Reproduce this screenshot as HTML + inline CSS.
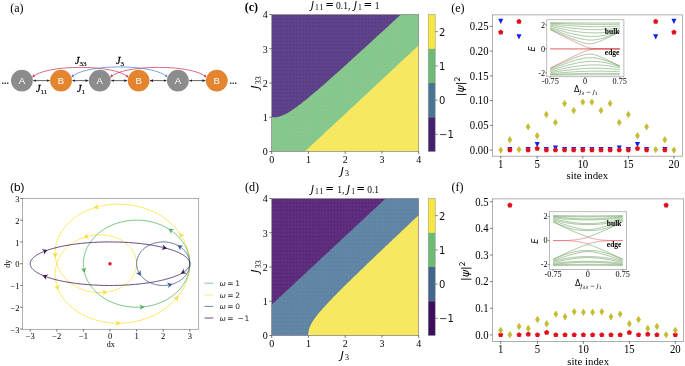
<!DOCTYPE html>
<html><head><meta charset="utf-8"><title>figure</title>
<style>html,body{margin:0;padding:0;background:#fff}svg{display:block}</style></head>
<body>
<svg width="685" height="366" viewBox="0 0 685 366">
<rect width="685" height="366" fill="#fff"/>
<text x="10.20" y="11.60" font-size="12" text-anchor="start" font-family='"Liberation Serif", "DejaVu Serif", serif' fill="#000" >(a)</text>
<text x="10.00" y="190.60" font-size="11.8" text-anchor="start" font-family='"Liberation Sans", "DejaVu Sans", sans-serif' fill="#000" >(b)</text>
<text x="244.80" y="11.40" font-size="12" text-anchor="start" font-family='"Liberation Serif", "DejaVu Serif", serif' fill="#000" font-weight="bold">(c)</text>
<text x="244.90" y="190.60" font-size="12.2" text-anchor="start" font-family='"Liberation Serif", "DejaVu Serif", serif' fill="#000" >(d)</text>
<text x="451.20" y="11.60" font-size="12" text-anchor="start" font-family='"Liberation Serif", "DejaVu Serif", serif' fill="#000" >(e)</text>
<text x="451.50" y="190.50" font-size="12" text-anchor="start" font-family='"Liberation Serif", "DejaVu Serif", serif' fill="#000" >(f)</text>
<defs><marker id="ak" viewBox="0 0 10 10" refX="9" refY="5" markerWidth="3.2" markerHeight="3.2" orient="auto-start-reverse" markerUnits="userSpaceOnUse"><path d="M0,1 L10,5 L0,9 z" fill="#222"/></marker><marker id="ar" viewBox="0 0 10 10" refX="9" refY="5" markerWidth="3.1" markerHeight="3.1" orient="auto-start-reverse" markerUnits="userSpaceOnUse"><path d="M0,1 L10,5 L0,9 z" fill="#c5304f"/></marker><marker id="ab" viewBox="0 0 10 10" refX="9" refY="5" markerWidth="3.1" markerHeight="3.1" orient="auto-start-reverse" markerUnits="userSpaceOnUse"><path d="M0,1 L10,5 L0,9 z" fill="#4a78d6"/></marker></defs>
<path d="M32.5,77.2 C44.9,64.1 115.6,64.1 128.0,77.2" fill="none" stroke="#c5304f" stroke-width="0.7" marker-start="url(#ar)" marker-end="url(#ar)"/>
<path d="M110.4,77.2 C122.9,64.1 193.7,64.1 206.2,77.2" fill="none" stroke="#c5304f" stroke-width="0.7" marker-start="url(#ar)" marker-end="url(#ar)"/>
<path d="M71.6,77.2 C84.0,63.5 154.9,63.5 167.3,77.2" fill="none" stroke="#4a78d6" stroke-width="0.7" marker-start="url(#ab)" marker-end="url(#ab)"/>
<path d="M33.4,80.6 L49.5,80.6" stroke="#222" stroke-width="0.7" marker-start="url(#ak)" marker-end="url(#ak)"/>
<path d="M72.5,80.6 L88.3,80.6" stroke="#222" stroke-width="0.7" marker-start="url(#ak)" marker-end="url(#ak)"/>
<path d="M111.3,80.6 L127.1,80.6" stroke="#222" stroke-width="0.7" marker-start="url(#ak)" marker-end="url(#ak)"/>
<path d="M150.1,80.6 L166.4,80.6" stroke="#222" stroke-width="0.7" marker-start="url(#ak)" marker-end="url(#ak)"/>
<path d="M189.4,80.6 L205.3,80.6" stroke="#222" stroke-width="0.7" marker-start="url(#ak)" marker-end="url(#ak)"/>
<circle cx="21.9" cy="80.6" r="10.9" fill="#8c8c8c"/>
<text x="21.90" y="84.00" font-size="9.6" text-anchor="middle" font-family='"Liberation Sans", "DejaVu Sans", sans-serif' fill="#fff" >A</text>
<circle cx="61.0" cy="80.6" r="10.9" fill="#e5842f"/>
<text x="61.00" y="84.00" font-size="9.6" text-anchor="middle" font-family='"Liberation Sans", "DejaVu Sans", sans-serif' fill="#fff" >B</text>
<circle cx="99.8" cy="80.6" r="10.9" fill="#8c8c8c"/>
<text x="99.80" y="84.00" font-size="9.6" text-anchor="middle" font-family='"Liberation Sans", "DejaVu Sans", sans-serif' fill="#fff" >A</text>
<circle cx="138.6" cy="80.6" r="10.9" fill="#e5842f"/>
<text x="138.60" y="84.00" font-size="9.6" text-anchor="middle" font-family='"Liberation Sans", "DejaVu Sans", sans-serif' fill="#fff" >B</text>
<circle cx="177.9" cy="80.6" r="10.9" fill="#8c8c8c"/>
<text x="177.90" y="84.00" font-size="9.6" text-anchor="middle" font-family='"Liberation Sans", "DejaVu Sans", sans-serif' fill="#fff" >A</text>
<circle cx="216.8" cy="80.6" r="10.9" fill="#e5842f"/>
<text x="216.80" y="84.00" font-size="9.6" text-anchor="middle" font-family='"Liberation Sans", "DejaVu Sans", sans-serif' fill="#fff" >B</text>
<text x="1.50" y="83.50" font-size="9" text-anchor="start" font-family='"Liberation Sans", "DejaVu Sans", sans-serif' fill="#222" font-weight="bold">...</text>
<text x="229.50" y="83.50" font-size="9" text-anchor="start" font-family='"Liberation Sans", "DejaVu Sans", sans-serif' fill="#222" font-weight="bold">...</text>
<text x="75" y="63.5" font-size="10.2" stroke="#000" stroke-width="0.28" font-family='"Liberation Serif", "DejaVu Serif", serif' fill="#000"><tspan font-style="italic">J</tspan><tspan font-size="7.1" dy="2.3" stroke-width="0.15">33</tspan></text>
<text x="116" y="63.5" font-size="10.2" stroke="#000" stroke-width="0.28" font-family='"Liberation Serif", "DejaVu Serif", serif' fill="#000"><tspan font-style="italic">J</tspan><tspan font-size="7.1" dy="2.3" stroke-width="0.15">3</tspan></text>
<text x="36" y="91.5" font-size="10.2" stroke="#000" stroke-width="0.28" font-family='"Liberation Serif", "DejaVu Serif", serif' fill="#000"><tspan font-style="italic">J</tspan><tspan font-size="7.1" dy="2.3" stroke-width="0.15">11</tspan></text>
<text x="77" y="91.5" font-size="10.2" stroke="#000" stroke-width="0.28" font-family='"Liberation Serif", "DejaVu Serif", serif' fill="#000"><tspan font-style="italic">J</tspan><tspan font-size="7.1" dy="2.3" stroke-width="0.15">1</tspan></text>
<rect x="22.6" y="198.4" width="176.10" height="130.90" fill="none" stroke="#8e8e8e" stroke-width="0.7"/>
<path d="M30.20,329.3 v2.4" stroke="#222" stroke-width="0.6"/>
<path d="M22.6,329.01 h-2.4" stroke="#222" stroke-width="0.6"/>
<text x="30.20" y="338.50" font-size="8.5" text-anchor="middle" font-family='"Liberation Serif", "DejaVu Serif", serif' fill="#000" >−3</text>
<text x="19.60" y="332.61" font-size="8.5" text-anchor="end" font-family='"Liberation Serif", "DejaVu Serif", serif' fill="#000" >−3</text>
<path d="M56.80,329.3 v2.4" stroke="#222" stroke-width="0.6"/>
<path d="M22.6,307.24 h-2.4" stroke="#222" stroke-width="0.6"/>
<text x="56.80" y="338.50" font-size="8.5" text-anchor="middle" font-family='"Liberation Serif", "DejaVu Serif", serif' fill="#000" >−2</text>
<text x="19.60" y="310.84" font-size="8.5" text-anchor="end" font-family='"Liberation Serif", "DejaVu Serif", serif' fill="#000" >−2</text>
<path d="M83.40,329.3 v2.4" stroke="#222" stroke-width="0.6"/>
<path d="M22.6,285.47 h-2.4" stroke="#222" stroke-width="0.6"/>
<text x="83.40" y="338.50" font-size="8.5" text-anchor="middle" font-family='"Liberation Serif", "DejaVu Serif", serif' fill="#000" >−1</text>
<text x="19.60" y="289.07" font-size="8.5" text-anchor="end" font-family='"Liberation Serif", "DejaVu Serif", serif' fill="#000" >−1</text>
<path d="M110.00,329.3 v2.4" stroke="#222" stroke-width="0.6"/>
<path d="M22.6,263.70 h-2.4" stroke="#222" stroke-width="0.6"/>
<text x="110.00" y="338.50" font-size="8.5" text-anchor="middle" font-family='"Liberation Serif", "DejaVu Serif", serif' fill="#000" >0</text>
<text x="19.60" y="267.30" font-size="8.5" text-anchor="end" font-family='"Liberation Serif", "DejaVu Serif", serif' fill="#000" >0</text>
<path d="M136.60,329.3 v2.4" stroke="#222" stroke-width="0.6"/>
<path d="M22.6,241.93 h-2.4" stroke="#222" stroke-width="0.6"/>
<text x="136.60" y="338.50" font-size="8.5" text-anchor="middle" font-family='"Liberation Serif", "DejaVu Serif", serif' fill="#000" >1</text>
<text x="19.60" y="245.53" font-size="8.5" text-anchor="end" font-family='"Liberation Serif", "DejaVu Serif", serif' fill="#000" >1</text>
<path d="M163.20,329.3 v2.4" stroke="#222" stroke-width="0.6"/>
<path d="M22.6,220.16 h-2.4" stroke="#222" stroke-width="0.6"/>
<text x="163.20" y="338.50" font-size="8.5" text-anchor="middle" font-family='"Liberation Serif", "DejaVu Serif", serif' fill="#000" >2</text>
<text x="19.60" y="223.76" font-size="8.5" text-anchor="end" font-family='"Liberation Serif", "DejaVu Serif", serif' fill="#000" >2</text>
<path d="M189.80,329.3 v2.4" stroke="#222" stroke-width="0.6"/>
<path d="M22.6,198.39 h-2.4" stroke="#222" stroke-width="0.6"/>
<text x="189.80" y="338.50" font-size="8.5" text-anchor="middle" font-family='"Liberation Serif", "DejaVu Serif", serif' fill="#000" >3</text>
<text x="19.60" y="201.99" font-size="8.5" text-anchor="end" font-family='"Liberation Serif", "DejaVu Serif", serif' fill="#000" >3</text>
<text x="110.65" y="347.00" font-size="8" text-anchor="middle" font-family='"Liberation Serif", "DejaVu Serif", serif' fill="#000" >dx</text>
<text transform="translate(9.5,263.7) rotate(-90)" font-size="8" text-anchor="middle" font-family='"Liberation Serif", "DejaVu Serif", serif'>dy</text>
<polyline points="189.80,263.70 189.77,261.99 189.68,260.27 189.53,258.56 189.33,256.86 189.06,255.16 188.73,253.47 188.35,251.78 187.91,250.11 187.41,248.45 186.85,246.80 186.24,245.16 185.57,243.54 184.85,241.94 184.07,240.36 183.23,238.79 182.35,237.25 181.41,235.73 180.42,234.23 179.37,232.76 178.28,231.31 177.14,229.89 175.95,228.50 174.72,227.13 173.44,225.80 172.11,224.50 170.74,223.23 169.33,222.00 167.88,220.80 166.38,219.64 164.85,218.51 163.29,217.42 161.69,216.37 160.05,215.36 158.38,214.38 156.68,213.45 154.95,212.56 153.20,211.71 151.41,210.91 149.61,210.14 147.78,209.43 145.92,208.75 144.05,208.12 142.16,207.54 140.25,207.00 138.33,206.50 136.40,206.06 134.45,205.66 132.50,205.30 130.53,205.00 128.56,204.74 126.59,204.52 124.61,204.36 122.63,204.24 120.66,204.17 118.68,204.14 116.71,204.16 114.75,204.23 112.79,204.35 110.84,204.51 108.91,204.71 106.98,204.96 105.07,205.26 103.18,205.60 101.30,205.99 99.45,206.42 97.61,206.89 95.80,207.40 94.01,207.96 92.24,208.56 90.50,209.19 88.79,209.87 87.11,210.59 85.47,211.34 83.85,212.13 82.27,212.96 80.72,213.82 79.21,214.72 77.73,215.65 76.30,216.61 74.90,217.60 73.55,218.63 72.24,219.68 70.97,220.76 69.74,221.87 68.56,223.01 67.43,224.17 66.34,225.35 65.30,226.55 64.30,227.78 63.36,229.03 62.46,230.29 61.62,231.57 60.82,232.87 60.08,234.18 59.38,235.50 58.74,236.84 58.15,238.18 57.61,239.54 57.13,240.90 56.70,242.27 56.32,243.65 55.99,245.03 55.72,246.41 55.50,247.79 55.33,249.17 55.21,250.55 55.15,251.93 55.14,253.30 55.18,254.67 55.27,256.03 55.42,257.38 55.61,258.72 55.86,260.05 56.15,261.37 56.49,262.67 56.88,263.96 57.32,265.24 57.81,266.49 58.34,267.73 58.92,268.95 59.54,270.15 60.21,271.33 60.91,272.48 61.66,273.61 62.45,274.72 63.28,275.80 64.15,276.85 65.06,277.88 66.00,278.87 66.97,279.84 67.98,280.77 69.03,281.68 70.10,282.55 71.20,283.39 72.33,284.20 73.49,284.97 74.68,285.71 75.88,286.42 77.11,287.08 78.37,287.71 79.64,288.31 80.93,288.86 82.23,289.38 83.55,289.86 84.89,290.31 86.23,290.71 87.59,291.07 88.96,291.40 90.33,291.69 91.71,291.93 93.09,292.14 94.48,292.31 95.86,292.44 97.25,292.53 98.63,292.58 100.01,292.59 101.38,292.56 102.75,292.50 104.11,292.39 105.46,292.25 106.79,292.07 108.12,291.85 109.43,291.60 110.72,291.31 112.00,290.98 113.25,290.62 114.49,290.22 115.70,289.79 116.90,289.32 118.06,288.83 119.20,288.30 120.32,287.73 121.40,287.14 122.46,286.52 123.49,285.87 124.48,285.19 125.44,284.48 126.37,283.75 127.27,282.99 128.12,282.21 128.94,281.40 129.73,280.58 130.47,279.73 131.17,278.86 131.84,277.97 132.46,277.07 133.04,276.14 133.58,275.21 134.08,274.25 134.53,273.29 134.94,272.31 135.31,271.32 135.63,270.33 135.90,269.32 136.13,268.31 136.32,267.29 136.46,266.27 136.55,265.24 136.59,264.21 136.59,263.19 136.55,262.16 136.46,261.13 136.32,260.11 136.13,259.09 135.90,258.08 135.63,257.07 135.31,256.08 134.94,255.09 134.53,254.11 134.08,253.15 133.58,252.19 133.04,251.26 132.46,250.33 131.84,249.43 131.17,248.54 130.47,247.67 129.73,246.82 128.94,246.00 128.12,245.19 127.27,244.41 126.37,243.65 125.44,242.92 124.48,242.21 123.49,241.53 122.46,240.88 121.40,240.26 120.32,239.67 119.20,239.10 118.06,238.57 116.90,238.08 115.70,237.61 114.49,237.18 113.25,236.78 112.00,236.42 110.72,236.09 109.43,235.80 108.12,235.55 106.79,235.33 105.46,235.15 104.11,235.01 102.75,234.90 101.38,234.84 100.01,234.81 98.63,234.82 97.25,234.87 95.86,234.96 94.48,235.09 93.09,235.26 91.71,235.47 90.33,235.71 88.96,236.00 87.59,236.33 86.23,236.69 84.89,237.09 83.55,237.54 82.23,238.02 80.93,238.54 79.64,239.09 78.37,239.69 77.11,240.32 75.88,240.98 74.68,241.69 73.49,242.43 72.33,243.20 71.20,244.01 70.10,244.85 69.03,245.72 67.98,246.63 66.97,247.56 66.00,248.53 65.06,249.52 64.15,250.55 63.28,251.60 62.45,252.68 61.66,253.79 60.91,254.92 60.21,256.07 59.54,257.25 58.92,258.45 58.34,259.67 57.81,260.91 57.32,262.16 56.88,263.44 56.49,264.73 56.15,266.03 55.86,267.35 55.61,268.68 55.42,270.02 55.27,271.37 55.18,272.73 55.14,274.10 55.15,275.47 55.21,276.85 55.33,278.23 55.50,279.61 55.72,280.99 55.99,282.37 56.32,283.75 56.70,285.13 57.13,286.50 57.61,287.86 58.15,289.22 58.74,290.56 59.38,291.90 60.08,293.22 60.82,294.53 61.62,295.83 62.46,297.11 63.36,298.37 64.30,299.62 65.30,300.85 66.34,302.05 67.43,303.23 68.56,304.39 69.74,305.53 70.97,306.64 72.24,307.72 73.55,308.77 74.90,309.80 76.30,310.79 77.73,311.75 79.21,312.68 80.72,313.58 82.27,314.44 83.85,315.27 85.47,316.06 87.11,316.81 88.79,317.53 90.50,318.21 92.24,318.84 94.01,319.44 95.80,320.00 97.61,320.51 99.45,320.98 101.30,321.41 103.18,321.80 105.07,322.14 106.98,322.44 108.91,322.69 110.84,322.89 112.79,323.05 114.75,323.17 116.71,323.24 118.68,323.26 120.66,323.23 122.63,323.16 124.61,323.04 126.59,322.88 128.56,322.66 130.53,322.40 132.50,322.10 134.45,321.74 136.40,321.34 138.33,320.90 140.25,320.40 142.16,319.86 144.05,319.28 145.92,318.65 147.78,317.97 149.61,317.26 151.41,316.49 153.20,315.69 154.95,314.84 156.68,313.95 158.38,313.02 160.05,312.04 161.69,311.03 163.29,309.98 164.85,308.89 166.38,307.76 167.88,306.60 169.33,305.40 170.74,304.17 172.11,302.90 173.44,301.60 174.72,300.27 175.95,298.90 177.14,297.51 178.28,296.09 179.37,294.64 180.42,293.17 181.41,291.67 182.35,290.15 183.23,288.61 184.07,287.04 184.85,285.46 185.57,283.86 186.24,282.24 186.85,280.60 187.41,278.95 187.91,277.29 188.35,275.62 188.73,273.93 189.06,272.24 189.33,270.54 189.53,268.84 189.68,267.13 189.77,265.41 189.80,263.70" fill="none" stroke="#fbe44f" stroke-width="0.9"/>
<polyline points="189.80,263.70 189.79,263.01 189.77,262.33 189.74,261.64 189.69,260.96 189.64,260.28 189.56,259.59 189.48,258.91 189.38,258.23 189.27,257.55 189.14,256.87 189.00,256.20 188.85,255.52 188.69,254.85 188.51,254.18 188.32,253.51 188.12,252.85 187.91,252.18 187.68,251.52 187.44,250.87 187.18,250.21 186.92,249.56 186.64,248.92 186.35,248.27 186.05,247.63 185.73,247.00 185.40,246.37 185.06,245.74 184.71,245.12 184.35,244.50 183.97,243.89 183.59,243.28 183.19,242.68 182.78,242.08 182.36,241.49 181.92,240.90 181.48,240.32 181.02,239.74 180.56,239.17 180.08,238.61 179.59,238.05 179.09,237.50 178.58,236.96 178.06,236.42 177.53,235.89 176.99,235.36 176.44,234.85 175.88,234.34 175.31,233.83 174.73,233.34 174.14,232.85 173.55,232.37 172.94,231.90 172.32,231.44 171.70,230.98 171.06,230.53 170.42,230.09 169.77,229.66 169.11,229.24 168.44,228.82 167.77,228.42 167.09,228.02 166.40,227.63 165.70,227.25 164.99,226.88 164.28,226.52 163.56,226.17 162.84,225.82 162.10,225.49 161.37,225.17 160.62,224.85 159.87,224.55 159.11,224.25 158.35,223.97 157.59,223.69 156.81,223.43 156.04,223.17 155.25,222.92 154.47,222.69 153.68,222.46 152.88,222.25 152.08,222.04 151.28,221.85 150.47,221.67 149.66,221.49 148.85,221.33 148.03,221.18 147.21,221.03 146.39,220.90 145.56,220.78 144.74,220.67 143.91,220.57 143.08,220.48 142.24,220.41 141.41,220.34 140.58,220.28 139.74,220.24 138.90,220.20 138.07,220.18 137.23,220.16 136.39,220.16 135.55,220.17 134.72,220.19 133.88,220.22 133.04,220.26 132.21,220.31 131.37,220.37 130.54,220.44 129.71,220.53 128.88,220.62 128.05,220.73 127.22,220.84 126.40,220.97 125.58,221.10 124.76,221.25 123.95,221.41 123.13,221.58 122.33,221.76 121.52,221.95 120.72,222.15 119.92,222.36 119.13,222.58 118.34,222.81 117.55,223.05 116.77,223.30 116.00,223.56 115.23,223.83 114.47,224.11 113.71,224.40 112.95,224.70 112.21,225.01 111.46,225.33 110.73,225.66 110.00,225.99 109.28,226.34 108.56,226.70 107.85,227.06 107.15,227.44 106.46,227.82 105.77,228.22 105.09,228.62 104.42,229.03 103.76,229.45 103.10,229.87 102.46,230.31 101.82,230.75 101.19,231.21 100.57,231.67 99.96,232.13 99.35,232.61 98.76,233.09 98.18,233.59 97.60,234.09 97.04,234.59 96.48,235.11 95.94,235.63 95.40,236.15 94.88,236.69 94.36,237.23 93.86,237.78 93.36,238.33 92.88,238.89 92.41,239.46 91.95,240.03 91.50,240.61 91.06,241.19 90.63,241.78 90.22,242.38 89.81,242.98 89.42,243.58 89.04,244.19 88.67,244.81 88.31,245.43 87.97,246.05 87.63,246.68 87.31,247.32 87.00,247.95 86.70,248.59 86.42,249.24 86.15,249.89 85.89,250.54 85.64,251.19 85.41,251.85 85.19,252.51 84.98,253.18 84.78,253.84 84.60,254.51 84.43,255.18 84.27,255.86 84.13,256.53 83.99,257.21 83.88,257.89 83.77,258.57 83.68,259.25 83.60,259.93 83.53,260.62 83.48,261.30 83.44,261.99 83.41,262.67 83.40,263.36 83.40,264.04 83.41,264.73 83.44,265.41 83.48,266.10 83.53,266.78 83.60,267.47 83.68,268.15 83.77,268.83 83.88,269.51 83.99,270.19 84.13,270.87 84.27,271.54 84.43,272.22 84.60,272.89 84.78,273.56 84.98,274.22 85.19,274.89 85.41,275.55 85.64,276.21 85.89,276.86 86.15,277.51 86.42,278.16 86.70,278.81 87.00,279.45 87.31,280.08 87.63,280.72 87.97,281.35 88.31,281.97 88.67,282.59 89.04,283.21 89.42,283.82 89.81,284.42 90.22,285.02 90.63,285.62 91.06,286.21 91.50,286.79 91.95,287.37 92.41,287.94 92.88,288.51 93.36,289.07 93.86,289.62 94.36,290.17 94.88,290.71 95.40,291.25 95.94,291.77 96.48,292.29 97.04,292.81 97.60,293.31 98.18,293.81 98.76,294.31 99.35,294.79 99.96,295.27 100.57,295.73 101.19,296.19 101.82,296.65 102.46,297.09 103.10,297.53 103.76,297.95 104.42,298.37 105.09,298.78 105.77,299.18 106.46,299.58 107.15,299.96 107.85,300.34 108.56,300.70 109.28,301.06 110.00,301.41 110.73,301.74 111.46,302.07 112.21,302.39 112.95,302.70 113.71,303.00 114.47,303.29 115.23,303.57 116.00,303.84 116.77,304.10 117.55,304.35 118.34,304.59 119.13,304.82 119.92,305.04 120.72,305.25 121.52,305.45 122.33,305.64 123.13,305.82 123.95,305.99 124.76,306.15 125.58,306.30 126.40,306.43 127.22,306.56 128.05,306.67 128.88,306.78 129.71,306.87 130.54,306.96 131.37,307.03 132.21,307.09 133.04,307.14 133.88,307.18 134.72,307.21 135.55,307.23 136.39,307.24 137.23,307.24 138.07,307.22 138.90,307.20 139.74,307.16 140.58,307.12 141.41,307.06 142.24,306.99 143.08,306.92 143.91,306.83 144.74,306.73 145.56,306.62 146.39,306.50 147.21,306.37 148.03,306.22 148.85,306.07 149.66,305.91 150.47,305.73 151.28,305.55 152.08,305.36 152.88,305.15 153.68,304.94 154.47,304.71 155.25,304.48 156.04,304.23 156.81,303.97 157.59,303.71 158.35,303.43 159.11,303.15 159.87,302.85 160.62,302.55 161.37,302.23 162.10,301.91 162.84,301.58 163.56,301.23 164.28,300.88 164.99,300.52 165.70,300.15 166.40,299.77 167.09,299.38 167.77,298.98 168.44,298.58 169.11,298.16 169.77,297.74 170.42,297.31 171.06,296.87 171.70,296.42 172.32,295.96 172.94,295.50 173.55,295.03 174.14,294.55 174.73,294.06 175.31,293.57 175.88,293.06 176.44,292.55 176.99,292.04 177.53,291.51 178.06,290.98 178.58,290.44 179.09,289.90 179.59,289.35 180.08,288.79 180.56,288.23 181.02,287.66 181.48,287.08 181.92,286.50 182.36,285.91 182.78,285.32 183.19,284.72 183.59,284.12 183.97,283.51 184.35,282.90 184.71,282.28 185.06,281.66 185.40,281.03 185.73,280.40 186.05,279.77 186.35,279.13 186.64,278.48 186.92,277.84 187.18,277.19 187.44,276.53 187.68,275.88 187.91,275.22 188.12,274.55 188.32,273.89 188.51,273.22 188.69,272.55 188.85,271.88 189.00,271.20 189.14,270.53 189.27,269.85 189.38,269.17 189.48,268.49 189.56,267.81 189.64,267.12 189.69,266.44 189.74,265.76 189.77,265.07 189.79,264.39 189.80,263.70" fill="none" stroke="#5cb86a" stroke-width="0.9"/>
<polyline points="189.80,263.70 189.80,263.36 189.79,263.01 189.77,262.67 189.75,262.33 189.72,261.99 189.68,261.65 189.64,261.31 189.59,260.96 189.53,260.62 189.47,260.29 189.40,259.95 189.33,259.61 189.24,259.27 189.16,258.94 189.06,258.61 188.96,258.27 188.85,257.94 188.74,257.61 188.62,257.28 188.49,256.96 188.36,256.63 188.22,256.31 188.07,255.99 187.92,255.67 187.77,255.35 187.60,255.03 187.43,254.72 187.26,254.41 187.07,254.10 186.89,253.79 186.69,253.49 186.49,253.19 186.29,252.89 186.08,252.59 185.86,252.30 185.64,252.01 185.41,251.72 185.18,251.44 184.94,251.15 184.70,250.88 184.45,250.60 184.19,250.33 183.93,250.06 183.67,249.79 183.40,249.53 183.12,249.27 182.84,249.02 182.56,248.77 182.27,248.52 181.97,248.28 181.67,248.04 181.37,247.80 181.06,247.57 180.75,247.34 180.43,247.12 180.11,246.90 179.78,246.68 179.46,246.47 179.12,246.26 178.78,246.06 178.44,245.86 178.10,245.66 177.75,245.47 177.40,245.29 177.04,245.11 176.68,244.93 176.32,244.76 175.95,244.59 175.58,244.43 175.21,244.28 174.84,244.12 174.46,243.98 174.08,243.83 173.69,243.70 173.31,243.56 172.92,243.43 172.53,243.31 172.13,243.19 171.74,243.08 171.34,242.97 170.94,242.87 170.54,242.77 170.14,242.68 169.73,242.60 169.32,242.51 168.91,242.44 168.50,242.37 168.09,242.30 167.68,242.24 167.27,242.19 166.85,242.14 166.44,242.09 166.02,242.05 165.61,242.02 165.19,241.99 164.77,241.97 164.35,241.95 163.93,241.94 163.51,241.93 163.10,241.93 162.68,241.93 162.26,241.94 161.84,241.96 161.42,241.98 161.00,242.00 160.59,242.04 160.17,242.07 159.75,242.11 159.34,242.16 158.93,242.21 158.51,242.27 158.10,242.33 157.69,242.40 157.28,242.48 156.87,242.55 156.47,242.64 156.06,242.73 155.66,242.82 155.26,242.92 154.86,243.03 154.46,243.14 154.07,243.25 153.68,243.37 153.29,243.50 152.90,243.63 152.51,243.76 152.13,243.90 151.75,244.05 151.38,244.20 151.00,244.35 150.63,244.51 150.26,244.68 149.90,244.85 149.54,245.02 149.18,245.20 148.83,245.38 148.48,245.57 148.13,245.76 147.79,245.96 147.45,246.16 147.11,246.36 146.78,246.57 146.45,246.79 146.13,247.00 145.81,247.23 145.49,247.45 145.18,247.68 144.88,247.92 144.58,248.16 144.28,248.40 143.99,248.64 143.70,248.89 143.42,249.15 143.14,249.40 142.87,249.66 142.60,249.93 142.34,250.19 142.08,250.46 141.83,250.74 141.58,251.02 141.34,251.30 141.10,251.58 140.87,251.86 140.65,252.15 140.43,252.45 140.22,252.74 140.01,253.04 139.81,253.34 139.61,253.64 139.42,253.95 139.23,254.25 139.06,254.56 138.88,254.88 138.72,255.19 138.56,255.51 138.40,255.83 138.25,256.15 138.11,256.47 137.97,256.79 137.84,257.12 137.72,257.45 137.60,257.78 137.49,258.11 137.39,258.44 137.29,258.77 137.20,259.11 137.11,259.44 137.03,259.78 136.96,260.12 136.90,260.46 136.84,260.79 136.79,261.13 136.74,261.48 136.70,261.82 136.67,262.16 136.64,262.50 136.62,262.84 136.61,263.19 136.60,263.53 136.60,263.87 136.61,264.21 136.62,264.56 136.64,264.90 136.67,265.24 136.70,265.58 136.74,265.92 136.79,266.27 136.84,266.61 136.90,266.94 136.96,267.28 137.03,267.62 137.11,267.96 137.20,268.29 137.29,268.63 137.39,268.96 137.49,269.29 137.60,269.62 137.72,269.95 137.84,270.28 137.97,270.61 138.11,270.93 138.25,271.25 138.40,271.57 138.56,271.89 138.72,272.21 138.88,272.52 139.06,272.84 139.23,273.15 139.42,273.45 139.61,273.76 139.81,274.06 140.01,274.36 140.22,274.66 140.43,274.95 140.65,275.25 140.87,275.54 141.10,275.82 141.34,276.10 141.58,276.38 141.83,276.66 142.08,276.94 142.34,277.21 142.60,277.47 142.87,277.74 143.14,278.00 143.42,278.25 143.70,278.51 143.99,278.76 144.28,279.00 144.58,279.24 144.88,279.48 145.18,279.72 145.49,279.95 145.81,280.17 146.13,280.40 146.45,280.61 146.78,280.83 147.11,281.04 147.45,281.24 147.79,281.44 148.13,281.64 148.48,281.83 148.83,282.02 149.18,282.20 149.54,282.38 149.90,282.55 150.26,282.72 150.63,282.89 151.00,283.05 151.38,283.20 151.75,283.35 152.13,283.50 152.51,283.64 152.90,283.77 153.29,283.90 153.68,284.03 154.07,284.15 154.46,284.26 154.86,284.37 155.26,284.48 155.66,284.58 156.06,284.67 156.47,284.76 156.87,284.85 157.28,284.92 157.69,285.00 158.10,285.07 158.51,285.13 158.93,285.19 159.34,285.24 159.75,285.29 160.17,285.33 160.59,285.36 161.00,285.40 161.42,285.42 161.84,285.44 162.26,285.46 162.68,285.47 163.10,285.47 163.51,285.47 163.93,285.46 164.35,285.45 164.77,285.43 165.19,285.41 165.61,285.38 166.02,285.35 166.44,285.31 166.85,285.26 167.27,285.21 167.68,285.16 168.09,285.10 168.50,285.03 168.91,284.96 169.32,284.89 169.73,284.80 170.14,284.72 170.54,284.63 170.94,284.53 171.34,284.43 171.74,284.32 172.13,284.21 172.53,284.09 172.92,283.97 173.31,283.84 173.69,283.70 174.08,283.57 174.46,283.42 174.84,283.28 175.21,283.12 175.58,282.97 175.95,282.81 176.32,282.64 176.68,282.47 177.04,282.29 177.40,282.11 177.75,281.93 178.10,281.74 178.44,281.54 178.78,281.34 179.12,281.14 179.46,280.93 179.78,280.72 180.11,280.50 180.43,280.28 180.75,280.06 181.06,279.83 181.37,279.60 181.67,279.36 181.97,279.12 182.27,278.88 182.56,278.63 182.84,278.38 183.12,278.13 183.40,277.87 183.67,277.61 183.93,277.34 184.19,277.07 184.45,276.80 184.70,276.52 184.94,276.25 185.18,275.96 185.41,275.68 185.64,275.39 185.86,275.10 186.08,274.81 186.29,274.51 186.49,274.21 186.69,273.91 186.89,273.61 187.07,273.30 187.26,272.99 187.43,272.68 187.60,272.37 187.77,272.05 187.92,271.73 188.07,271.41 188.22,271.09 188.36,270.77 188.49,270.44 188.62,270.12 188.74,269.79 188.85,269.46 188.96,269.13 189.06,268.79 189.16,268.46 189.24,268.13 189.33,267.79 189.40,267.45 189.47,267.11 189.53,266.78 189.59,266.44 189.64,266.09 189.68,265.75 189.72,265.41 189.75,265.07 189.77,264.73 189.79,264.39 189.80,264.04 189.80,263.70" fill="none" stroke="#3d5a8e" stroke-width="0.9"/>
<polyline points="189.80,263.70 189.79,264.04 189.76,264.39 189.71,264.73 189.64,265.07 189.55,265.41 189.44,265.75 189.32,266.09 189.17,266.44 189.00,266.78 188.81,267.11 188.61,267.45 188.38,267.79 188.13,268.13 187.87,268.46 187.58,268.79 187.28,269.13 186.96,269.46 186.62,269.79 186.25,270.12 185.87,270.44 185.48,270.77 185.06,271.09 184.62,271.41 184.17,271.73 183.70,272.05 183.20,272.37 182.70,272.68 182.17,272.99 181.62,273.30 181.06,273.61 180.48,273.91 179.88,274.21 179.27,274.51 178.63,274.81 177.98,275.10 177.32,275.39 176.63,275.68 175.93,275.96 175.22,276.25 174.49,276.52 173.74,276.80 172.97,277.07 172.19,277.34 171.40,277.61 170.59,277.87 169.76,278.13 168.92,278.38 168.07,278.63 167.20,278.88 166.32,279.12 165.42,279.36 164.51,279.60 163.58,279.83 162.65,280.06 161.69,280.28 160.73,280.50 159.75,280.72 158.77,280.93 157.77,281.14 156.75,281.34 155.73,281.54 154.69,281.74 153.65,281.93 152.59,282.11 151.52,282.29 150.44,282.47 149.35,282.64 148.26,282.81 147.15,282.97 146.03,283.12 144.91,283.28 143.77,283.42 142.63,283.57 141.48,283.70 140.32,283.84 139.15,283.97 137.98,284.09 136.80,284.21 135.61,284.32 134.42,284.43 133.22,284.53 132.02,284.63 130.81,284.72 129.59,284.80 128.37,284.89 127.14,284.96 125.91,285.03 124.68,285.10 123.44,285.16 122.20,285.21 120.96,285.26 119.71,285.31 118.47,285.35 117.22,285.38 115.96,285.41 114.71,285.43 113.45,285.45 112.20,285.46 110.94,285.47 109.69,285.47 108.43,285.47 107.17,285.46 105.92,285.44 104.66,285.42 103.41,285.40 102.16,285.36 100.91,285.33 99.66,285.29 98.42,285.24 97.18,285.19 95.94,285.13 94.70,285.07 93.47,285.00 92.24,284.92 91.02,284.85 89.80,284.76 88.59,284.67 87.38,284.58 86.18,284.48 84.98,284.37 83.79,284.26 82.61,284.15 81.43,284.03 80.26,283.90 79.10,283.77 77.94,283.64 76.80,283.50 75.66,283.35 74.53,283.20 73.41,283.05 72.30,282.89 71.19,282.72 70.10,282.55 69.02,282.38 67.94,282.20 66.88,282.02 65.83,281.83 64.79,281.64 63.76,281.44 62.74,281.24 61.73,281.04 60.74,280.83 59.76,280.61 58.79,280.40 57.83,280.17 56.88,279.95 55.95,279.72 55.04,279.48 54.13,279.24 53.24,279.00 52.36,278.76 51.50,278.51 50.66,278.25 49.82,278.00 49.00,277.74 48.20,277.47 47.41,277.21 46.64,276.94 45.89,276.66 45.15,276.38 44.42,276.10 43.71,275.82 43.02,275.54 42.35,275.25 41.69,274.95 41.05,274.66 40.42,274.36 39.82,274.06 39.23,273.76 38.66,273.45 38.10,273.15 37.57,272.84 37.05,272.52 36.55,272.21 36.07,271.89 35.60,271.57 35.16,271.25 34.73,270.93 34.32,270.61 33.93,270.28 33.56,269.95 33.21,269.62 32.88,269.29 32.57,268.96 32.27,268.63 32.00,268.29 31.74,267.96 31.50,267.62 31.29,267.28 31.09,266.94 30.91,266.61 30.76,266.27 30.62,265.92 30.50,265.58 30.40,265.24 30.32,264.90 30.26,264.56 30.22,264.21 30.20,263.87 30.20,263.53 30.22,263.19 30.26,262.84 30.32,262.50 30.40,262.16 30.50,261.82 30.62,261.48 30.76,261.13 30.91,260.79 31.09,260.46 31.29,260.12 31.50,259.78 31.74,259.44 32.00,259.11 32.27,258.77 32.57,258.44 32.88,258.11 33.21,257.78 33.56,257.45 33.93,257.12 34.32,256.79 34.73,256.47 35.16,256.15 35.60,255.83 36.07,255.51 36.55,255.19 37.05,254.88 37.57,254.56 38.10,254.25 38.66,253.95 39.23,253.64 39.82,253.34 40.42,253.04 41.05,252.74 41.69,252.45 42.35,252.15 43.02,251.86 43.71,251.58 44.42,251.30 45.15,251.02 45.89,250.74 46.64,250.46 47.41,250.19 48.20,249.93 49.00,249.66 49.82,249.40 50.66,249.15 51.50,248.89 52.36,248.64 53.24,248.40 54.13,248.16 55.04,247.92 55.95,247.68 56.88,247.45 57.83,247.23 58.79,247.00 59.76,246.79 60.74,246.57 61.73,246.36 62.74,246.16 63.76,245.96 64.79,245.76 65.83,245.57 66.88,245.38 67.94,245.20 69.02,245.02 70.10,244.85 71.19,244.68 72.30,244.51 73.41,244.35 74.53,244.20 75.66,244.05 76.80,243.90 77.94,243.76 79.10,243.63 80.26,243.50 81.43,243.37 82.61,243.25 83.79,243.14 84.98,243.03 86.18,242.92 87.38,242.82 88.59,242.73 89.80,242.64 91.02,242.55 92.24,242.48 93.47,242.40 94.70,242.33 95.94,242.27 97.18,242.21 98.42,242.16 99.66,242.11 100.91,242.07 102.16,242.04 103.41,242.00 104.66,241.98 105.92,241.96 107.17,241.94 108.43,241.93 109.69,241.93 110.94,241.93 112.20,241.94 113.45,241.95 114.71,241.97 115.96,241.99 117.22,242.02 118.47,242.05 119.71,242.09 120.96,242.14 122.20,242.19 123.44,242.24 124.68,242.30 125.91,242.37 127.14,242.44 128.37,242.51 129.59,242.60 130.81,242.68 132.02,242.77 133.22,242.87 134.42,242.97 135.61,243.08 136.80,243.19 137.98,243.31 139.15,243.43 140.32,243.56 141.48,243.70 142.63,243.83 143.77,243.98 144.91,244.12 146.03,244.28 147.15,244.43 148.26,244.59 149.35,244.76 150.44,244.93 151.52,245.11 152.59,245.29 153.65,245.47 154.69,245.66 155.73,245.86 156.75,246.06 157.77,246.26 158.77,246.47 159.75,246.68 160.73,246.90 161.69,247.12 162.65,247.34 163.58,247.57 164.51,247.80 165.42,248.04 166.32,248.28 167.20,248.52 168.07,248.77 168.92,249.02 169.76,249.27 170.59,249.53 171.40,249.79 172.19,250.06 172.97,250.33 173.74,250.60 174.49,250.88 175.22,251.15 175.93,251.44 176.63,251.72 177.32,252.01 177.98,252.30 178.63,252.59 179.27,252.89 179.88,253.19 180.48,253.49 181.06,253.79 181.62,254.10 182.17,254.41 182.70,254.72 183.20,255.03 183.70,255.35 184.17,255.67 184.62,255.99 185.06,256.31 185.48,256.63 185.87,256.96 186.25,257.28 186.62,257.61 186.96,257.94 187.28,258.27 187.58,258.61 187.87,258.94 188.13,259.27 188.38,259.61 188.61,259.95 188.81,260.29 189.00,260.62 189.17,260.96 189.32,261.31 189.44,261.65 189.55,261.99 189.64,262.33 189.71,262.67 189.76,263.01 189.79,263.36 189.80,263.70" fill="none" stroke="#3b1457" stroke-width="0.8"/>
<path transform="translate(96.25,207.27) rotate(163.8)" d="M2.70,0 L-2.40,2.85 L-0.90,0 L-2.40,-2.85 z" fill="#f7dc3a"/>
<path transform="translate(181.06,235.18) rotate(-123.3)" d="M2.70,0 L-2.40,2.85 L-0.90,0 L-2.40,-2.85 z" fill="#f7dc3a"/>
<path transform="translate(86.19,236.70) rotate(164.1)" d="M2.70,0 L-2.40,2.85 L-0.90,0 L-2.40,-2.85 z" fill="#f7dc3a"/>
<path transform="translate(55.20,255.01) rotate(86.6)" d="M2.70,0 L-2.40,2.85 L-0.90,0 L-2.40,-2.85 z" fill="#f7dc3a"/>
<path transform="translate(57.47,287.48) rotate(70.0)" d="M2.70,0 L-2.40,2.85 L-0.90,0 L-2.40,-2.85 z" fill="#f7dc3a"/>
<path transform="translate(104.70,292.34) rotate(-5.9)" d="M2.70,0 L-2.40,2.85 L-0.90,0 L-2.40,-2.85 z" fill="#f7dc3a"/>
<path transform="translate(117.94,323.26) rotate(0.5)" d="M2.70,0 L-2.40,2.85 L-0.90,0 L-2.40,-2.85 z" fill="#f7dc3a"/>
<path transform="translate(176.73,298.00) rotate(-49.8)" d="M2.70,0 L-2.40,2.85 L-0.90,0 L-2.40,-2.85 z" fill="#f7dc3a"/>
<path transform="translate(170.76,230.32) rotate(-145.6)" d="M2.70,0 L-2.40,2.85 L-0.90,0 L-2.40,-2.85 z" fill="#4fae5f"/>
<path transform="translate(83.99,270.14) rotate(79.6)" d="M2.70,0 L-2.40,2.85 L-0.90,0 L-2.40,-2.85 z" fill="#4fae5f"/>
<path transform="translate(141.92,307.02) rotate(-4.7)" d="M2.70,0 L-2.40,2.85 L-0.90,0 L-2.40,-2.85 z" fill="#4fae5f"/>
<path transform="translate(179.83,246.71) rotate(-146.8)" d="M2.70,0 L-2.40,2.85 L-0.90,0 L-2.40,-2.85 z" fill="#36558c"/>
<path transform="translate(139.42,273.45) rotate(58.5)" d="M2.70,0 L-2.40,2.85 L-0.90,0 L-2.40,-2.85 z" fill="#36558c"/>
<path transform="translate(169.85,284.78) rotate(-11.9)" d="M2.70,0 L-2.40,2.85 L-0.90,0 L-2.40,-2.85 z" fill="#36558c"/>
<path transform="translate(45.04,251.05) rotate(-20.9)" d="M2.70,0 L-2.40,2.85 L-0.90,0 L-2.40,-2.85 z" fill="#3b1457"/>
<path transform="translate(164.52,247.80) rotate(14.3)" d="M2.70,0 L-2.40,2.85 L-0.90,0 L-2.40,-2.85 z" fill="#3b1457"/>
<path transform="translate(183.13,272.41) rotate(148.0)" d="M2.70,0 L-2.40,2.85 L-0.90,0 L-2.40,-2.85 z" fill="#3b1457"/>
<path transform="translate(45.04,276.35) rotate(-159.1)" d="M2.70,0 L-2.40,2.85 L-0.90,0 L-2.40,-2.85 z" fill="#3b1457"/>
<circle cx="110.00" cy="263.70" r="1.7" fill="#e8141c"/>
<path d="M204.5,283.2 H213.2" stroke="#5cb86a" stroke-width="0.75"/>
<text x="219.40" y="285.90" font-size="7.5" text-anchor="start" font-family='"DejaVu Sans", "Liberation Sans", sans-serif' fill="#222" word-spacing="-0.7"><tspan font-style="italic">ω</tspan> = 1</text>
<path d="M204.5,295.0 H213.2" stroke="#fbe44f" stroke-width="0.75"/>
<text x="219.40" y="297.70" font-size="7.5" text-anchor="start" font-family='"DejaVu Sans", "Liberation Sans", sans-serif' fill="#222" word-spacing="-0.7"><tspan font-style="italic">ω</tspan> = 2</text>
<path d="M204.5,306.4 H213.2" stroke="#3d5a8e" stroke-width="0.75"/>
<text x="219.40" y="309.10" font-size="7.5" text-anchor="start" font-family='"DejaVu Sans", "Liberation Sans", sans-serif' fill="#222" word-spacing="-0.7"><tspan font-style="italic">ω</tspan> = 0</text>
<path d="M204.5,318.0 H213.2" stroke="#3b1457" stroke-width="0.75"/>
<text x="219.40" y="320.70" font-size="7.5" text-anchor="start" font-family='"DejaVu Sans", "Liberation Sans", sans-serif' fill="#222" word-spacing="-0.7"><tspan font-style="italic">ω</tspan> =</text>
<text x="237.60" y="320.70" font-size="7.5" text-anchor="start" font-family='"DejaVu Sans", "Liberation Sans", sans-serif' fill="#222" >−</text>
<text x="244.60" y="320.70" font-size="7.5" text-anchor="start" font-family='"DejaVu Sans", "Liberation Sans", sans-serif' fill="#222" >1</text>
<rect x="271.7" y="14.5" width="147.00" height="137.00" fill="#583b85"/>
<polygon points="271.70,151.50 271.70,117.16 272.31,117.34 272.93,117.34 273.54,117.34 274.15,117.34 274.76,117.34 275.38,117.16 275.99,117.16 276.60,117.16 277.21,116.99 277.82,116.82 278.44,116.65 279.05,116.65 279.66,116.48 280.27,116.14 280.89,115.97 281.50,115.79 282.11,115.62 282.72,115.28 283.34,115.11 283.95,114.77 284.56,114.42 285.18,114.25 285.79,113.91 286.40,113.57 287.01,113.23 287.62,112.88 288.24,112.54 288.85,112.20 289.46,111.86 290.07,111.34 290.69,111.00 291.30,110.66 291.91,110.14 292.52,109.80 293.14,109.46 293.75,108.94 294.36,108.60 294.97,108.09 295.59,107.75 296.20,107.23 296.81,106.72 297.43,106.38 298.04,105.86 298.65,105.35 299.26,105.01 299.88,104.49 300.49,103.98 301.10,103.64 301.71,103.12 302.32,102.61 302.94,102.09 303.55,101.58 304.16,101.07 304.77,100.72 305.39,100.21 306.00,99.70 306.61,99.18 307.22,98.67 307.84,98.16 308.45,97.64 309.06,97.13 309.67,96.61 310.29,96.10 310.90,95.59 311.51,95.07 312.12,94.56 312.74,94.05 313.35,93.53 313.96,93.02 314.57,92.50 315.19,91.99 315.80,91.48 316.41,90.96 317.02,90.45 317.64,89.94 318.25,89.42 318.86,88.91 319.47,88.22 320.09,87.71 320.70,87.20 321.31,86.68 321.93,86.17 322.54,85.65 323.15,85.14 323.76,84.63 324.38,83.94 324.99,83.43 325.60,82.91 326.21,82.40 326.82,81.89 327.44,81.37 328.05,80.86 328.66,80.17 329.27,79.66 329.89,79.15 330.50,78.63 331.11,78.12 331.72,77.61 332.34,76.92 332.95,76.41 333.56,75.89 334.18,75.38 334.79,74.87 335.40,74.18 336.01,73.67 336.62,73.15 337.24,72.64 337.85,72.13 338.46,71.44 339.07,70.93 339.69,70.41 340.30,69.90 340.91,69.39 341.52,68.70 342.14,68.19 342.75,67.67 343.36,67.16 343.97,66.47 344.59,65.96 345.20,65.45 345.81,64.93 346.42,64.42 347.04,63.73 347.65,63.22 348.26,62.71 348.88,62.19 349.49,61.51 350.10,60.99 350.71,60.48 351.32,59.97 351.94,59.28 352.55,58.77 353.16,58.25 353.77,57.74 354.39,57.06 355.00,56.54 355.61,56.03 356.22,55.51 356.84,54.83 357.45,54.32 358.06,53.80 358.67,53.29 359.29,52.60 359.90,52.09 360.51,51.58 361.12,51.06 361.74,50.38 362.35,49.86 362.96,49.35 363.57,48.84 364.19,48.15 364.80,47.64 365.41,47.12 366.02,46.44 366.64,45.92 367.25,45.41 367.86,44.90 368.48,44.21 369.09,43.70 369.70,43.18 370.31,42.67 370.93,41.99 371.54,41.47 372.15,40.96 372.76,40.27 373.38,39.76 373.99,39.25 374.60,38.73 375.21,38.05 375.82,37.53 376.44,37.02 377.05,36.33 377.66,35.82 378.27,35.31 378.89,34.79 379.50,34.11 380.11,33.59 380.73,33.08 381.34,32.40 381.95,31.88 382.56,31.37 383.17,30.85 383.79,30.17 384.40,29.66 385.01,29.14 385.62,28.46 386.24,27.94 386.85,27.43 387.46,26.92 388.07,26.23 388.69,25.72 389.30,25.20 389.91,24.52 390.52,24.00 391.14,23.49 391.75,22.98 392.36,22.29 392.97,21.78 393.59,21.26 394.20,20.58 394.81,20.07 395.42,19.55 396.04,18.87 396.65,18.35 397.26,17.84 397.88,17.33 398.49,16.64 399.10,16.13 399.71,15.61 400.32,14.93 400.94,14.50 401.55,14.50 402.16,14.50 402.77,14.50 403.39,14.50 404.00,14.50 404.61,14.50 405.23,14.50 405.84,14.50 406.45,14.50 407.06,14.50 407.67,14.50 408.29,14.50 408.90,14.50 409.51,14.50 410.12,14.50 410.74,14.50 411.35,14.50 411.96,14.50 412.57,14.50 413.19,14.50 413.80,14.50 414.41,14.50 415.02,14.50 415.64,14.50 416.25,14.50 416.86,14.50 417.48,14.50 418.09,14.50 418.70,14.50 418.70,151.50" fill="#82c689"/>
<polygon points="271.70,151.50 271.70,151.50 272.31,151.50 272.93,151.50 273.54,151.50 274.15,151.50 274.76,151.50 275.38,151.50 275.99,151.50 276.60,151.50 277.21,151.50 277.82,151.50 278.44,151.50 279.05,151.50 279.66,151.50 280.27,151.50 280.89,151.50 281.50,151.50 282.11,151.50 282.72,151.50 283.34,151.50 283.95,151.50 284.56,151.50 285.18,151.50 285.79,151.50 286.40,151.50 287.01,151.50 287.62,151.50 288.24,151.50 288.85,151.50 289.46,151.50 290.07,151.50 290.69,151.50 291.30,151.50 291.91,151.50 292.52,151.50 293.14,151.50 293.75,151.50 294.36,151.50 294.97,151.50 295.59,151.50 296.20,151.50 296.81,151.50 297.43,151.50 298.04,151.50 298.65,151.50 299.26,151.50 299.88,151.50 300.49,151.50 301.10,151.50 301.71,151.50 302.32,151.50 302.94,151.50 303.55,151.50 304.16,151.50 304.77,151.50 305.39,150.90 306.00,150.39 306.61,149.87 307.22,149.19 307.84,148.67 308.45,147.99 309.06,147.48 309.67,146.96 310.29,146.28 310.90,145.76 311.51,145.25 312.12,144.56 312.74,144.05 313.35,143.54 313.96,143.02 314.57,142.34 315.19,141.82 315.80,141.31 316.41,140.63 317.02,140.11 317.64,139.60 318.25,138.91 318.86,138.40 319.47,137.89 320.09,137.20 320.70,136.69 321.31,136.17 321.93,135.49 322.54,134.97 323.15,134.29 323.76,133.78 324.38,133.26 324.99,132.75 325.60,132.06 326.21,131.55 326.82,130.86 327.44,130.35 328.05,129.84 328.66,129.32 329.27,128.64 329.89,128.12 330.50,127.61 331.11,126.93 331.72,126.41 332.34,125.73 332.95,125.21 333.56,124.70 334.18,124.19 334.79,123.50 335.40,122.99 336.01,122.30 336.62,121.79 337.24,121.27 337.85,120.59 338.46,120.08 339.07,119.56 339.69,119.05 340.30,118.36 340.91,117.85 341.52,117.34 342.14,116.65 342.75,116.14 343.36,115.62 343.97,114.94 344.59,114.42 345.20,113.91 345.81,113.23 346.42,112.71 347.04,112.20 347.65,111.51 348.26,111.00 348.88,110.49 349.49,109.80 350.10,109.29 350.71,108.60 351.32,108.09 351.94,107.57 352.55,107.06 353.16,106.38 353.77,105.86 354.39,105.35 355.00,104.66 355.61,104.15 356.22,103.64 356.84,102.95 357.45,102.44 358.06,101.92 358.67,101.24 359.29,100.72 359.90,100.21 360.51,99.53 361.12,99.01 361.74,98.50 362.35,97.81 362.96,97.30 363.57,96.79 364.19,96.10 364.80,95.59 365.41,94.90 366.02,94.39 366.64,93.87 367.25,93.36 367.86,92.68 368.48,92.16 369.09,91.65 369.70,90.96 370.31,90.45 370.93,89.76 371.54,89.25 372.15,88.74 372.76,88.05 373.38,87.54 373.99,87.02 374.60,86.51 375.21,85.83 375.82,85.31 376.44,84.80 377.05,84.11 377.66,83.60 378.27,83.09 378.89,82.40 379.50,81.89 380.11,81.37 380.73,80.69 381.34,80.17 381.95,79.66 382.56,78.98 383.17,78.46 383.79,77.78 384.40,77.26 385.01,76.75 385.62,76.24 386.24,75.55 386.85,75.04 387.46,74.52 388.07,73.84 388.69,73.32 389.30,72.81 389.91,72.13 390.52,71.61 391.14,71.10 391.75,70.41 392.36,69.90 392.97,69.21 393.59,68.70 394.20,68.19 394.81,67.67 395.42,66.99 396.04,66.47 396.65,65.96 397.26,65.28 397.88,64.76 398.49,64.08 399.10,63.56 399.71,63.05 400.32,62.36 400.94,61.85 401.55,61.34 402.16,60.82 402.77,60.14 403.39,59.62 404.00,58.94 404.61,58.43 405.23,57.91 405.84,57.23 406.45,56.71 407.06,56.20 407.67,55.69 408.29,55.00 408.90,54.49 409.51,53.97 410.12,53.29 410.74,52.77 411.35,52.09 411.96,51.58 412.57,51.06 413.19,50.38 413.80,49.86 414.41,49.35 415.02,48.84 415.64,48.15 416.25,47.64 416.86,47.12 417.48,46.44 418.09,45.92 418.70,45.41 418.70,151.50" fill="#f7e75c"/>
<defs><pattern id="g14" x="271.7" y="14.5" width="1.4700" height="1.3700" patternUnits="userSpaceOnUse"><path d="M0,0 H1.4700 M0,0 V1.3700" stroke="#fff" stroke-opacity="0.14" stroke-width="0.3" fill="none"/></pattern></defs>
<rect x="271.7" y="14.5" width="147.00" height="137.00" fill="url(#g14)"/>
<rect x="271.7" y="14.5" width="147.00" height="137.00" fill="none" stroke="#8e8e8e" stroke-width="0.6"/>
<path d="M271.70,151.5 v2.4" stroke="#222" stroke-width="0.6"/>
<path d="M271.7,151.50 h-2.4" stroke="#222" stroke-width="0.6"/>
<text x="271.70" y="162.60" font-size="10" text-anchor="middle" font-family='"Liberation Serif", "DejaVu Serif", serif' fill="#000" >0</text>
<text x="267.70" y="155.40" font-size="10" text-anchor="end" font-family='"Liberation Serif", "DejaVu Serif", serif' fill="#000" >0</text>
<path d="M308.45,151.5 v2.4" stroke="#222" stroke-width="0.6"/>
<path d="M271.7,117.25 h-2.4" stroke="#222" stroke-width="0.6"/>
<text x="308.45" y="162.60" font-size="10" text-anchor="middle" font-family='"Liberation Serif", "DejaVu Serif", serif' fill="#000" >1</text>
<text x="267.70" y="121.15" font-size="10" text-anchor="end" font-family='"Liberation Serif", "DejaVu Serif", serif' fill="#000" >1</text>
<path d="M345.20,151.5 v2.4" stroke="#222" stroke-width="0.6"/>
<path d="M271.7,83.00 h-2.4" stroke="#222" stroke-width="0.6"/>
<text x="345.20" y="162.60" font-size="10" text-anchor="middle" font-family='"Liberation Serif", "DejaVu Serif", serif' fill="#000" >2</text>
<text x="267.70" y="86.90" font-size="10" text-anchor="end" font-family='"Liberation Serif", "DejaVu Serif", serif' fill="#000" >2</text>
<path d="M381.95,151.5 v2.4" stroke="#222" stroke-width="0.6"/>
<path d="M271.7,48.75 h-2.4" stroke="#222" stroke-width="0.6"/>
<text x="381.95" y="162.60" font-size="10" text-anchor="middle" font-family='"Liberation Serif", "DejaVu Serif", serif' fill="#000" >3</text>
<text x="267.70" y="52.65" font-size="10" text-anchor="end" font-family='"Liberation Serif", "DejaVu Serif", serif' fill="#000" >3</text>
<path d="M418.70,151.5 v2.4" stroke="#222" stroke-width="0.6"/>
<path d="M271.7,14.50 h-2.4" stroke="#222" stroke-width="0.6"/>
<text x="418.70" y="162.60" font-size="10" text-anchor="middle" font-family='"Liberation Serif", "DejaVu Serif", serif' fill="#000" >4</text>
<text x="267.70" y="18.40" font-size="10" text-anchor="end" font-family='"Liberation Serif", "DejaVu Serif", serif' fill="#000" >4</text>
<text x="340.6" y="174.5" font-size="11.2" font-style="italic" font-family='"DejaVu Sans", "Liberation Sans", sans-serif' fill="#000">J</text>
<text x="344.9" y="176.3" font-size="8.0" font-family='"Liberation Serif", "DejaVu Serif", serif' fill="#000">3</text>
<g transform="translate(258.8,88.7) rotate(-90)"><text x="0" y="0" font-size="11.2" font-style="italic" font-family='"DejaVu Sans", "Liberation Sans", sans-serif' fill="#000">J</text><text x="4.4" y="1.8" font-size="8.0" font-family='"Liberation Serif", "DejaVu Serif", serif' fill="#000">33</text></g>
<text x="311.0" y="8.5" font-size="10.3" font-style="italic" font-family='"DejaVu Sans", "Liberation Sans", sans-serif' fill="#000">J</text><text x="315.0" y="10.2" font-size="7.6" letter-spacing="0.9" font-family='"Liberation Serif", "DejaVu Serif", serif' fill="#000">11</text><text x="325.3" y="8.3" font-size="10.4" font-family='"DejaVu Sans", "Liberation Sans", sans-serif' fill="#000">=</text><text x="336.0" y="8.5" font-size="9.5" font-family='"Liberation Serif", "DejaVu Serif", serif' fill="#000">0.1,</text><text x="354.0" y="8.5" font-size="10.3" font-style="italic" font-family='"DejaVu Sans", "Liberation Sans", sans-serif' fill="#000">J</text><text x="358.0" y="10.2" font-size="7.6" letter-spacing="0.9" font-family='"Liberation Serif", "DejaVu Serif", serif' fill="#000">1</text><text x="363.5" y="8.3" font-size="10.4" font-family='"DejaVu Sans", "Liberation Sans", sans-serif' fill="#000">=</text><text x="374.7" y="8.5" font-size="9.5" font-family='"Liberation Serif", "DejaVu Serif", serif' fill="#000">1</text>
<rect x="428.2" y="14.50" width="7.00" height="34.30" fill="#f8e640"/>
<path d="M435.2,31.62 h2.4" stroke="#222" stroke-width="0.6"/>
<text x="439.00" y="35.62" font-size="10" text-anchor="start" font-family='"DejaVu Sans", "Liberation Sans", sans-serif' fill="#111" >2</text>
<rect x="428.2" y="48.75" width="7.00" height="34.30" fill="#6fb974"/>
<path d="M435.2,65.88 h2.4" stroke="#222" stroke-width="0.6"/>
<text x="439.00" y="69.88" font-size="10" text-anchor="start" font-family='"DejaVu Sans", "Liberation Sans", sans-serif' fill="#111" >1</text>
<rect x="428.2" y="83.00" width="7.00" height="34.30" fill="#4a7590"/>
<path d="M435.2,100.12 h2.4" stroke="#222" stroke-width="0.6"/>
<text x="439.00" y="104.12" font-size="10" text-anchor="start" font-family='"DejaVu Sans", "Liberation Sans", sans-serif' fill="#111" >0</text>
<rect x="428.2" y="117.25" width="7.00" height="34.30" fill="#43216f"/>
<path d="M435.2,134.38 h2.4" stroke="#222" stroke-width="0.6"/>
<text x="439.00" y="138.38" font-size="10" text-anchor="start" font-family='"DejaVu Sans", "Liberation Sans", sans-serif' fill="#111" >−1</text>
<rect x="428.2" y="14.5" width="7.00" height="137.00" fill="none" stroke="#8e8e8e" stroke-width="0.5"/>
<rect x="271.7" y="198.5" width="147.00" height="137.00" fill="#582678"/>
<polygon points="271.70,335.50 271.70,304.76 272.31,304.08 272.93,303.56 273.54,303.05 274.15,302.36 274.76,301.85 275.38,301.34 275.99,300.65 276.60,300.14 277.21,299.62 277.82,298.94 278.44,298.42 279.05,297.74 279.66,297.23 280.27,296.71 280.89,296.20 281.50,295.51 282.11,295.00 282.72,294.31 283.34,293.80 283.95,293.29 284.56,292.77 285.18,292.09 285.79,291.57 286.40,291.06 287.01,290.38 287.62,289.86 288.24,289.35 288.85,288.66 289.46,288.15 290.07,287.64 290.69,286.95 291.30,286.44 291.91,285.92 292.52,285.24 293.14,284.72 293.75,284.04 294.36,283.53 294.97,283.01 295.59,282.50 296.20,281.81 296.81,281.30 297.43,280.79 298.04,280.10 298.65,279.59 299.26,279.07 299.88,278.39 300.49,277.87 301.10,277.36 301.71,276.68 302.32,276.16 302.94,275.48 303.55,274.96 304.16,274.45 304.77,273.94 305.39,273.25 306.00,272.74 306.61,272.22 307.22,271.54 307.84,271.02 308.45,270.34 309.06,269.83 309.67,269.31 310.29,268.80 310.90,268.11 311.51,267.60 312.12,267.09 312.74,266.40 313.35,265.89 313.96,265.20 314.57,264.69 315.19,264.17 315.80,263.66 316.41,262.98 317.02,262.46 317.64,261.78 318.25,261.26 318.86,260.75 319.47,260.24 320.09,259.55 320.70,259.04 321.31,258.35 321.93,257.84 322.54,257.32 323.15,256.81 323.76,256.13 324.38,255.61 324.99,255.10 325.60,254.41 326.21,253.90 326.82,253.21 327.44,252.70 328.05,252.19 328.66,251.67 329.27,250.99 329.89,250.47 330.50,249.79 331.11,249.28 331.72,248.76 332.34,248.25 332.95,247.56 333.56,247.05 334.18,246.36 334.79,245.85 335.40,245.34 336.01,244.82 336.62,244.14 337.24,243.62 337.85,243.11 338.46,242.43 339.07,241.91 339.69,241.40 340.30,240.71 340.91,240.20 341.52,239.51 342.14,239.00 342.75,238.49 343.36,237.80 343.97,237.29 344.59,236.77 345.20,236.26 345.81,235.58 346.42,235.06 347.04,234.55 347.65,233.86 348.26,233.35 348.88,232.66 349.49,232.15 350.10,231.64 350.71,231.12 351.32,230.44 351.94,229.92 352.55,229.41 353.16,228.73 353.77,228.21 354.39,227.53 355.00,227.01 355.61,226.50 356.22,225.99 356.84,225.30 357.45,224.79 358.06,224.27 358.67,223.59 359.29,223.07 359.90,222.39 360.51,221.88 361.12,221.36 361.74,220.85 362.35,220.16 362.96,219.65 363.57,218.96 364.19,218.45 364.80,217.94 365.41,217.42 366.02,216.74 366.64,216.22 367.25,215.71 367.86,215.03 368.48,214.51 369.09,214.00 369.70,213.31 370.31,212.80 370.93,212.11 371.54,211.60 372.15,211.09 372.76,210.40 373.38,209.89 373.99,209.37 374.60,208.86 375.21,208.18 375.82,207.66 376.44,207.15 377.05,206.46 377.66,205.95 378.27,205.44 378.89,204.75 379.50,204.24 380.11,203.55 380.73,203.04 381.34,202.52 381.95,201.84 382.56,201.33 383.17,200.81 383.79,200.30 384.40,199.61 385.01,199.10 385.62,198.59 386.24,198.50 386.85,198.50 387.46,198.50 388.07,198.50 388.69,198.50 389.30,198.50 389.91,198.50 390.52,198.50 391.14,198.50 391.75,198.50 392.36,198.50 392.97,198.50 393.59,198.50 394.20,198.50 394.81,198.50 395.42,198.50 396.04,198.50 396.65,198.50 397.26,198.50 397.88,198.50 398.49,198.50 399.10,198.50 399.71,198.50 400.32,198.50 400.94,198.50 401.55,198.50 402.16,198.50 402.77,198.50 403.39,198.50 404.00,198.50 404.61,198.50 405.23,198.50 405.84,198.50 406.45,198.50 407.06,198.50 407.67,198.50 408.29,198.50 408.90,198.50 409.51,198.50 410.12,198.50 410.74,198.50 411.35,198.50 411.96,198.50 412.57,198.50 413.19,198.50 413.80,198.50 414.41,198.50 415.02,198.50 415.64,198.50 416.25,198.50 416.86,198.50 417.48,198.50 418.09,198.50 418.70,198.50 418.70,335.50" fill="#5c81a2"/>
<polygon points="271.70,335.50 271.70,335.50 272.31,335.50 272.93,335.50 273.54,335.50 274.15,335.50 274.76,335.50 275.38,335.50 275.99,335.50 276.60,335.50 277.21,335.50 277.82,335.50 278.44,335.50 279.05,335.50 279.66,335.50 280.27,335.50 280.89,335.50 281.50,335.50 282.11,335.50 282.72,335.50 283.34,335.50 283.95,335.50 284.56,335.50 285.18,335.50 285.79,335.50 286.40,335.50 287.01,335.50 287.62,335.50 288.24,335.50 288.85,335.50 289.46,335.50 290.07,335.50 290.69,335.50 291.30,335.50 291.91,335.50 292.52,335.50 293.14,335.50 293.75,335.50 294.36,335.50 294.97,335.50 295.59,335.50 296.20,335.50 296.81,335.50 297.43,335.50 298.04,335.50 298.65,335.50 299.26,335.50 299.88,335.50 300.49,335.50 301.10,335.50 301.71,335.50 302.32,335.50 302.94,335.50 303.55,335.50 304.16,335.50 304.77,335.50 305.39,335.50 306.00,335.50 306.61,335.50 307.22,335.50 307.84,335.50 308.45,331.99 309.06,329.08 309.67,327.19 310.29,325.82 310.90,324.45 311.51,323.43 312.12,322.23 312.74,321.37 313.35,320.34 313.96,319.49 314.57,318.63 315.19,317.78 315.80,316.92 316.41,316.06 317.02,315.38 317.64,314.52 318.25,313.84 318.86,312.98 319.47,312.30 320.09,311.61 320.70,310.93 321.31,310.24 321.93,309.56 322.54,308.87 323.15,308.01 323.76,307.50 324.38,306.82 324.99,306.13 325.60,305.45 326.21,304.76 326.82,304.08 327.44,303.39 328.05,302.71 328.66,302.19 329.27,301.51 329.89,300.82 330.50,300.14 331.11,299.62 331.72,298.94 332.34,298.25 332.95,297.57 333.56,297.05 334.18,296.37 334.79,295.68 335.40,295.17 336.01,294.49 336.62,293.97 337.24,293.29 337.85,292.60 338.46,292.09 339.07,291.40 339.69,290.89 340.30,290.20 340.91,289.52 341.52,289.01 342.14,288.32 342.75,287.81 343.36,287.12 343.97,286.61 344.59,285.92 345.20,285.24 345.81,284.72 346.42,284.04 347.04,283.53 347.65,282.84 348.26,282.33 348.88,281.64 349.49,281.13 350.10,280.44 350.71,279.93 351.32,279.24 351.94,278.73 352.55,278.05 353.16,277.53 353.77,276.85 354.39,276.33 355.00,275.65 355.61,275.13 356.22,274.62 356.84,273.94 357.45,273.42 358.06,272.74 358.67,272.22 359.29,271.54 359.90,271.02 360.51,270.34 361.12,269.83 361.74,269.14 362.35,268.63 362.96,268.11 363.57,267.43 364.19,266.91 364.80,266.23 365.41,265.72 366.02,265.03 366.64,264.52 367.25,263.83 367.86,263.32 368.48,262.80 369.09,262.12 369.70,261.61 370.31,260.92 370.93,260.41 371.54,259.72 372.15,259.21 372.76,258.69 373.38,258.01 373.99,257.50 374.60,256.81 375.21,256.30 375.82,255.78 376.44,255.10 377.05,254.58 377.66,253.90 378.27,253.39 378.89,252.87 379.50,252.19 380.11,251.67 380.73,250.99 381.34,250.47 381.95,249.79 382.56,249.28 383.17,248.76 383.79,248.08 384.40,247.56 385.01,247.05 385.62,246.36 386.24,245.85 386.85,245.17 387.46,244.65 388.07,244.14 388.69,243.45 389.30,242.94 389.91,242.25 390.52,241.74 391.14,241.23 391.75,240.54 392.36,240.03 392.97,239.34 393.59,238.83 394.20,238.32 394.81,237.63 395.42,237.12 396.04,236.43 396.65,235.92 397.26,235.40 397.88,234.72 398.49,234.21 399.10,233.69 399.71,233.01 400.32,232.49 400.94,231.81 401.55,231.29 402.16,230.78 402.77,230.10 403.39,229.58 404.00,229.07 404.61,228.38 405.23,227.87 405.84,227.18 406.45,226.67 407.06,226.16 407.67,225.47 408.29,224.96 408.90,224.44 409.51,223.76 410.12,223.25 410.74,222.56 411.35,222.05 411.96,221.53 412.57,220.85 413.19,220.33 413.80,219.82 414.41,219.14 415.02,218.62 415.64,217.94 416.25,217.42 416.86,216.91 417.48,216.22 418.09,215.71 418.70,215.20 418.70,335.50" fill="#f7e75c"/>
<defs><pattern id="g198" x="271.7" y="198.5" width="1.4700" height="1.3700" patternUnits="userSpaceOnUse"><path d="M0,0 H1.4700 M0,0 V1.3700" stroke="#fff" stroke-opacity="0.14" stroke-width="0.3" fill="none"/></pattern></defs>
<rect x="271.7" y="198.5" width="147.00" height="137.00" fill="url(#g198)"/>
<rect x="271.7" y="198.5" width="147.00" height="137.00" fill="none" stroke="#8e8e8e" stroke-width="0.6"/>
<path d="M271.70,335.5 v2.4" stroke="#222" stroke-width="0.6"/>
<path d="M271.7,335.50 h-2.4" stroke="#222" stroke-width="0.6"/>
<text x="271.70" y="346.60" font-size="10" text-anchor="middle" font-family='"Liberation Serif", "DejaVu Serif", serif' fill="#000" >0</text>
<text x="267.70" y="339.40" font-size="10" text-anchor="end" font-family='"Liberation Serif", "DejaVu Serif", serif' fill="#000" >0</text>
<path d="M308.45,335.5 v2.4" stroke="#222" stroke-width="0.6"/>
<path d="M271.7,301.25 h-2.4" stroke="#222" stroke-width="0.6"/>
<text x="308.45" y="346.60" font-size="10" text-anchor="middle" font-family='"Liberation Serif", "DejaVu Serif", serif' fill="#000" >1</text>
<text x="267.70" y="305.15" font-size="10" text-anchor="end" font-family='"Liberation Serif", "DejaVu Serif", serif' fill="#000" >1</text>
<path d="M345.20,335.5 v2.4" stroke="#222" stroke-width="0.6"/>
<path d="M271.7,267.00 h-2.4" stroke="#222" stroke-width="0.6"/>
<text x="345.20" y="346.60" font-size="10" text-anchor="middle" font-family='"Liberation Serif", "DejaVu Serif", serif' fill="#000" >2</text>
<text x="267.70" y="270.90" font-size="10" text-anchor="end" font-family='"Liberation Serif", "DejaVu Serif", serif' fill="#000" >2</text>
<path d="M381.95,335.5 v2.4" stroke="#222" stroke-width="0.6"/>
<path d="M271.7,232.75 h-2.4" stroke="#222" stroke-width="0.6"/>
<text x="381.95" y="346.60" font-size="10" text-anchor="middle" font-family='"Liberation Serif", "DejaVu Serif", serif' fill="#000" >3</text>
<text x="267.70" y="236.65" font-size="10" text-anchor="end" font-family='"Liberation Serif", "DejaVu Serif", serif' fill="#000" >3</text>
<path d="M418.70,335.5 v2.4" stroke="#222" stroke-width="0.6"/>
<path d="M271.7,198.50 h-2.4" stroke="#222" stroke-width="0.6"/>
<text x="418.70" y="346.60" font-size="10" text-anchor="middle" font-family='"Liberation Serif", "DejaVu Serif", serif' fill="#000" >4</text>
<text x="267.70" y="202.40" font-size="10" text-anchor="end" font-family='"Liberation Serif", "DejaVu Serif", serif' fill="#000" >4</text>
<text x="340.6" y="358.5" font-size="11.2" font-style="italic" font-family='"DejaVu Sans", "Liberation Sans", sans-serif' fill="#000">J</text>
<text x="344.9" y="360.3" font-size="8.0" font-family='"Liberation Serif", "DejaVu Serif", serif' fill="#000">3</text>
<g transform="translate(258.8,272.7) rotate(-90)"><text x="0" y="0" font-size="11.2" font-style="italic" font-family='"DejaVu Sans", "Liberation Sans", sans-serif' fill="#000">J</text><text x="4.4" y="1.8" font-size="8.0" font-family='"Liberation Serif", "DejaVu Serif", serif' fill="#000">33</text></g>
<text x="311.0" y="192.5" font-size="10.3" font-style="italic" font-family='"DejaVu Sans", "Liberation Sans", sans-serif' fill="#000">J</text><text x="315.0" y="194.2" font-size="7.6" letter-spacing="0.9" font-family='"Liberation Serif", "DejaVu Serif", serif' fill="#000">11</text><text x="325.3" y="192.3" font-size="10.4" font-family='"DejaVu Sans", "Liberation Sans", sans-serif' fill="#000">=</text><text x="337.3" y="192.5" font-size="9.5" font-family='"Liberation Serif", "DejaVu Serif", serif' fill="#000">1,</text><text x="346.9" y="192.5" font-size="10.3" font-style="italic" font-family='"DejaVu Sans", "Liberation Sans", sans-serif' fill="#000">J</text><text x="351.2" y="194.2" font-size="7.6" letter-spacing="0.9" font-family='"Liberation Serif", "DejaVu Serif", serif' fill="#000">1</text><text x="356.2" y="192.3" font-size="10.4" font-family='"DejaVu Sans", "Liberation Sans", sans-serif' fill="#000">=</text><text x="367.2" y="192.5" font-size="9.5" font-family='"Liberation Serif", "DejaVu Serif", serif' fill="#000">0.1</text>
<rect x="428.2" y="198.50" width="7.00" height="34.30" fill="#f8e63f"/>
<path d="M435.2,215.62 h2.4" stroke="#222" stroke-width="0.6"/>
<text x="439.00" y="219.62" font-size="10" text-anchor="start" font-family='"DejaVu Sans", "Liberation Sans", sans-serif' fill="#111" >2</text>
<rect x="428.2" y="232.75" width="7.00" height="34.30" fill="#6dbb72"/>
<path d="M435.2,249.88 h2.4" stroke="#222" stroke-width="0.6"/>
<text x="439.00" y="253.88" font-size="10" text-anchor="start" font-family='"DejaVu Sans", "Liberation Sans", sans-serif' fill="#111" >1</text>
<rect x="428.2" y="267.00" width="7.00" height="34.30" fill="#44668c"/>
<path d="M435.2,284.12 h2.4" stroke="#222" stroke-width="0.6"/>
<text x="439.00" y="288.12" font-size="10" text-anchor="start" font-family='"DejaVu Sans", "Liberation Sans", sans-serif' fill="#111" >0</text>
<rect x="428.2" y="301.25" width="7.00" height="34.30" fill="#3d0e5e"/>
<path d="M435.2,318.38 h2.4" stroke="#222" stroke-width="0.6"/>
<text x="439.00" y="322.38" font-size="10" text-anchor="start" font-family='"DejaVu Sans", "Liberation Sans", sans-serif' fill="#111" >−1</text>
<rect x="428.2" y="198.5" width="7.00" height="137.00" fill="none" stroke="#8e8e8e" stroke-width="0.5"/>
<rect x="492.4" y="14.9" width="190.00" height="141.30" fill="none" stroke="#8e8e8e" stroke-width="0.7"/>
<path d="M500.75,156.2 v2.4" stroke="#222" stroke-width="0.6"/>
<text transform="translate(500.75,168.20) scale(0.93,1)" font-size="11.6" text-anchor="middle" font-family='"Liberation Serif", "DejaVu Serif", serif' fill="#000">1</text>
<path d="M537.21,156.2 v2.4" stroke="#222" stroke-width="0.6"/>
<text transform="translate(537.21,168.20) scale(0.93,1)" font-size="11.6" text-anchor="middle" font-family='"Liberation Serif", "DejaVu Serif", serif' fill="#000">5</text>
<path d="M582.78,156.2 v2.4" stroke="#222" stroke-width="0.6"/>
<text transform="translate(582.78,168.20) scale(0.93,1)" font-size="11.6" text-anchor="middle" font-family='"Liberation Serif", "DejaVu Serif", serif' fill="#000">10</text>
<path d="M628.36,156.2 v2.4" stroke="#222" stroke-width="0.6"/>
<text transform="translate(628.36,168.20) scale(0.93,1)" font-size="11.6" text-anchor="middle" font-family='"Liberation Serif", "DejaVu Serif", serif' fill="#000">15</text>
<path d="M673.93,156.2 v2.4" stroke="#222" stroke-width="0.6"/>
<text transform="translate(673.93,168.20) scale(0.93,1)" font-size="11.6" text-anchor="middle" font-family='"Liberation Serif", "DejaVu Serif", serif' fill="#000">20</text>
<path d="M492.4,150.10 h-2.4" stroke="#222" stroke-width="0.6"/>
<text transform="translate(488.50,153.90) scale(0.93,1)" font-size="11.5" text-anchor="end" font-family='"Liberation Serif", "DejaVu Serif", serif' fill="#000">0.00</text>
<path d="M492.4,125.35 h-2.4" stroke="#222" stroke-width="0.6"/>
<text transform="translate(488.50,129.15) scale(0.93,1)" font-size="11.5" text-anchor="end" font-family='"Liberation Serif", "DejaVu Serif", serif' fill="#000">0.05</text>
<path d="M492.4,100.60 h-2.4" stroke="#222" stroke-width="0.6"/>
<text transform="translate(488.50,104.40) scale(0.93,1)" font-size="11.5" text-anchor="end" font-family='"Liberation Serif", "DejaVu Serif", serif' fill="#000">0.10</text>
<path d="M492.4,75.85 h-2.4" stroke="#222" stroke-width="0.6"/>
<text transform="translate(488.50,79.65) scale(0.93,1)" font-size="11.5" text-anchor="end" font-family='"Liberation Serif", "DejaVu Serif", serif' fill="#000">0.15</text>
<path d="M492.4,51.10 h-2.4" stroke="#222" stroke-width="0.6"/>
<text transform="translate(488.50,54.90) scale(0.93,1)" font-size="11.5" text-anchor="end" font-family='"Liberation Serif", "DejaVu Serif", serif' fill="#000">0.20</text>
<path d="M492.4,26.35 h-2.4" stroke="#222" stroke-width="0.6"/>
<text transform="translate(488.50,30.15) scale(0.93,1)" font-size="11.5" text-anchor="end" font-family='"Liberation Serif", "DejaVu Serif", serif' fill="#000">0.25</text>
<text x="587.40" y="179.40" font-size="10.8" text-anchor="middle" font-family='"Liberation Serif", "DejaVu Serif", serif' fill="#000" >site index</text>
<text transform="translate(464.0,86.5) rotate(-90)" font-size="11" text-anchor="middle" font-family='"DejaVu Sans", "Liberation Sans", sans-serif' fill="#000">|<tspan font-style="italic">ψ</tspan>|<tspan font-size="7.7" dy="-4">2</tspan></text>
<path d="M498.20,18.85 L503.30,18.85 L500.75,23.95 z" fill="#1020f0"/>
<path d="M507.31,147.05 L512.41,147.05 L509.87,152.16 z" fill="#1020f0"/>
<path d="M516.43,34.29 L521.53,34.29 L518.98,39.39 z" fill="#1020f0"/>
<path d="M525.55,147.05 L530.64,147.05 L528.10,152.16 z" fill="#1020f0"/>
<path d="M534.66,142.10 L539.76,142.10 L537.21,147.21 z" fill="#1020f0"/>
<path d="M543.78,147.05 L548.88,147.05 L546.33,152.16 z" fill="#1020f0"/>
<path d="M552.89,145.57 L557.99,145.57 L555.44,150.67 z" fill="#1020f0"/>
<path d="M562.00,147.05 L567.10,147.05 L564.55,152.16 z" fill="#1020f0"/>
<path d="M571.12,147.05 L576.22,147.05 L573.67,152.16 z" fill="#1020f0"/>
<path d="M580.24,147.05 L585.33,147.05 L582.78,152.16 z" fill="#1020f0"/>
<path d="M589.35,147.05 L594.45,147.05 L591.90,152.16 z" fill="#1020f0"/>
<path d="M598.47,147.05 L603.56,147.05 L601.01,152.16 z" fill="#1020f0"/>
<path d="M607.58,147.05 L612.68,147.05 L610.13,152.16 z" fill="#1020f0"/>
<path d="M616.70,145.57 L621.79,145.57 L619.25,150.67 z" fill="#1020f0"/>
<path d="M625.81,147.05 L630.91,147.05 L628.36,152.16 z" fill="#1020f0"/>
<path d="M634.93,142.10 L640.02,142.10 L637.48,147.21 z" fill="#1020f0"/>
<path d="M644.04,147.05 L649.14,147.05 L646.59,152.16 z" fill="#1020f0"/>
<path d="M653.16,34.29 L658.25,34.29 L655.71,39.39 z" fill="#1020f0"/>
<path d="M662.27,147.05 L667.37,147.05 L664.82,152.16 z" fill="#1020f0"/>
<path d="M671.38,18.85 L676.48,18.85 L673.93,23.95 z" fill="#1020f0"/>
<polygon points="500.75,29.54 503.37,31.44 502.37,34.51 499.13,34.51 498.13,31.44" fill="#e2101c"/>
<polygon points="509.87,147.35 512.48,149.25 511.48,152.32 508.25,152.32 507.25,149.25" fill="#e2101c"/>
<polygon points="518.98,18.85 521.60,20.75 520.60,23.82 517.36,23.82 516.36,20.75" fill="#e2101c"/>
<polygon points="528.10,147.35 530.71,149.25 529.71,152.32 526.48,152.32 525.48,149.25" fill="#e2101c"/>
<polygon points="537.21,145.86 539.83,147.77 538.83,150.84 535.59,150.84 534.59,147.77" fill="#e2101c"/>
<polygon points="546.33,147.35 548.94,149.25 547.94,152.32 544.71,152.32 543.71,149.25" fill="#e2101c"/>
<polygon points="555.44,147.35 558.06,149.25 557.06,152.32 553.82,152.32 552.82,149.25" fill="#e2101c"/>
<polygon points="564.55,147.35 567.17,149.25 566.17,152.32 562.94,152.32 561.94,149.25" fill="#e2101c"/>
<polygon points="573.67,147.35 576.29,149.25 575.29,152.32 572.05,152.32 571.05,149.25" fill="#e2101c"/>
<polygon points="582.78,147.35 585.40,149.25 584.40,152.32 581.17,152.32 580.17,149.25" fill="#e2101c"/>
<polygon points="591.90,147.35 594.52,149.25 593.52,152.32 590.28,152.32 589.28,149.25" fill="#e2101c"/>
<polygon points="601.01,147.35 603.63,149.25 602.63,152.32 599.40,152.32 598.40,149.25" fill="#e2101c"/>
<polygon points="610.13,147.35 612.75,149.25 611.75,152.32 608.51,152.32 607.51,149.25" fill="#e2101c"/>
<polygon points="619.25,147.35 621.86,149.25 620.86,152.32 617.63,152.32 616.63,149.25" fill="#e2101c"/>
<polygon points="628.36,147.35 630.98,149.25 629.98,152.32 626.74,152.32 625.74,149.25" fill="#e2101c"/>
<polygon points="637.48,145.86 640.09,147.77 639.09,150.84 635.86,150.84 634.86,147.77" fill="#e2101c"/>
<polygon points="646.59,147.35 649.21,149.25 648.21,152.32 644.97,152.32 643.97,149.25" fill="#e2101c"/>
<polygon points="655.71,18.85 658.32,20.75 657.32,23.82 654.09,23.82 653.09,20.75" fill="#e2101c"/>
<polygon points="664.82,147.35 667.44,149.25 666.44,152.32 663.20,152.32 662.20,149.25" fill="#e2101c"/>
<polygon points="673.93,29.54 676.55,31.44 675.55,34.51 672.32,34.51 671.32,31.44" fill="#e2101c"/>
<path d="M500.75,146.40 L503.15,150.10 L500.75,153.80 L498.35,150.10 z" fill="#c4bd35"/>
<path d="M509.87,136.00 L512.26,139.70 L509.87,143.40 L507.47,139.70 z" fill="#c4bd35"/>
<path d="M518.98,145.91 L521.38,149.60 L518.98,153.30 L516.58,149.60 z" fill="#c4bd35"/>
<path d="M528.10,123.13 L530.50,126.83 L528.10,130.53 L525.70,126.83 z" fill="#c4bd35"/>
<path d="M537.21,132.05 L539.61,135.75 L537.21,139.44 L534.81,135.75 z" fill="#c4bd35"/>
<path d="M546.33,110.76 L548.73,114.46 L546.33,118.16 L543.93,114.46 z" fill="#c4bd35"/>
<path d="M555.44,118.68 L557.84,122.38 L555.44,126.08 L553.04,122.38 z" fill="#c4bd35"/>
<path d="M564.55,99.87 L566.95,103.57 L564.55,107.27 L562.15,103.57 z" fill="#c4bd35"/>
<path d="M573.67,106.80 L576.07,110.50 L573.67,114.20 L571.27,110.50 z" fill="#c4bd35"/>
<path d="M582.78,98.38 L585.18,102.08 L582.78,105.78 L580.38,102.08 z" fill="#c4bd35"/>
<path d="M591.90,98.38 L594.30,102.08 L591.90,105.78 L589.50,102.08 z" fill="#c4bd35"/>
<path d="M601.01,106.80 L603.41,110.50 L601.01,114.20 L598.62,110.50 z" fill="#c4bd35"/>
<path d="M610.13,99.87 L612.53,103.57 L610.13,107.27 L607.73,103.57 z" fill="#c4bd35"/>
<path d="M619.25,118.68 L621.64,122.38 L619.25,126.08 L616.85,122.38 z" fill="#c4bd35"/>
<path d="M628.36,110.76 L630.76,114.46 L628.36,118.16 L625.96,114.46 z" fill="#c4bd35"/>
<path d="M637.48,132.05 L639.88,135.75 L637.48,139.44 L635.08,135.75 z" fill="#c4bd35"/>
<path d="M646.59,123.13 L648.99,126.83 L646.59,130.53 L644.19,126.83 z" fill="#c4bd35"/>
<path d="M655.71,145.91 L658.11,149.60 L655.71,153.30 L653.31,149.60 z" fill="#c4bd35"/>
<path d="M664.82,136.00 L667.22,139.70 L664.82,143.40 L662.42,139.70 z" fill="#c4bd35"/>
<path d="M673.93,146.40 L676.33,150.10 L673.93,153.80 L671.53,150.10 z" fill="#c4bd35"/>
<rect x="546.8" y="19.8" width="77.10" height="57.00" fill="#fff" stroke="#8e8e8e" stroke-width="0.6"/>
<polyline points="550.25,75.12 550.83,75.11 551.41,75.11 551.99,75.10 552.57,75.09 553.15,75.09 553.73,75.08 554.30,75.07 554.88,75.07 555.46,75.06 556.04,75.05 556.62,75.05 557.20,75.04 557.78,75.04 558.36,75.03 558.94,75.02 559.52,75.02 560.10,75.01 560.67,75.01 561.25,75.00 561.83,75.00 562.41,74.99 562.99,74.98 563.57,74.98 564.15,74.97 564.73,74.97 565.31,74.96 565.89,74.96 566.47,74.95 567.05,74.95 567.62,74.94 568.20,74.94 568.78,74.93 569.36,74.93 569.94,74.92 570.52,74.92 571.10,74.92 571.68,74.91 572.26,74.91 572.84,74.90 573.42,74.90 574.00,74.90 574.58,74.89 575.15,74.89 575.73,74.88 576.31,74.88 576.89,74.88 577.47,74.87 578.05,74.87 578.63,74.87 579.21,74.86 579.79,74.86 580.37,74.86 580.95,74.85 581.52,74.85 582.10,74.85 582.68,74.85 583.26,74.84 583.84,74.84 584.42,74.84 585.00,74.84 585.58,74.83 586.16,74.83 586.74,74.83 587.32,74.83 587.90,74.82 588.48,74.82 589.05,74.82 589.63,74.82 590.21,74.82 590.79,74.82 591.37,74.81 591.95,74.81 592.53,74.81 593.11,74.81 593.69,74.81 594.27,74.81 594.85,74.81 595.42,74.81 596.00,74.81 596.58,74.81 597.16,74.81 597.74,74.81 598.32,74.80 598.90,74.80 599.48,74.80 600.06,74.80 600.64,74.80 601.22,74.80 601.80,74.80 602.38,74.81 602.95,74.81 603.53,74.81 604.11,74.81 604.69,74.81 605.27,74.81 605.85,74.81 606.43,74.81 607.01,74.81 607.59,74.81 608.17,74.81 608.75,74.82 609.33,74.82 609.90,74.82 610.48,74.82 611.06,74.82 611.64,74.82 612.22,74.83 612.80,74.83 613.38,74.83 613.96,74.83 614.54,74.84 615.12,74.84 615.70,74.84 616.27,74.84 616.85,74.85 617.43,74.85 618.01,74.85 618.59,74.86 619.17,74.86 619.75,74.86" fill="none" stroke="#4a8a3a" stroke-width="0.5" stroke-opacity="1"/>
<polyline points="550.25,74.60 550.83,74.57 551.41,74.55 551.99,74.52 552.57,74.49 553.15,74.47 553.73,74.44 554.30,74.41 554.88,74.39 555.46,74.36 556.04,74.34 556.62,74.32 557.20,74.29 557.78,74.27 558.36,74.24 558.94,74.22 559.52,74.20 560.10,74.17 560.67,74.15 561.25,74.13 561.83,74.11 562.41,74.08 562.99,74.06 563.57,74.04 564.15,74.02 564.73,74.00 565.31,73.98 565.89,73.96 566.47,73.94 567.05,73.92 567.62,73.90 568.20,73.88 568.78,73.86 569.36,73.85 569.94,73.83 570.52,73.81 571.10,73.79 571.68,73.78 572.26,73.76 572.84,73.74 573.42,73.73 574.00,73.71 574.58,73.70 575.15,73.68 575.73,73.67 576.31,73.65 576.89,73.64 577.47,73.62 578.05,73.61 578.63,73.60 579.21,73.59 579.79,73.57 580.37,73.56 580.95,73.55 581.52,73.54 582.10,73.53 582.68,73.52 583.26,73.51 583.84,73.50 584.42,73.49 585.00,73.48 585.58,73.47 586.16,73.46 586.74,73.45 587.32,73.44 587.90,73.44 588.48,73.43 589.05,73.42 589.63,73.41 590.21,73.41 590.79,73.40 591.37,73.40 591.95,73.39 592.53,73.39 593.11,73.38 593.69,73.38 594.27,73.38 594.85,73.37 595.42,73.37 596.00,73.37 596.58,73.37 597.16,73.37 597.74,73.36 598.32,73.36 598.90,73.36 599.48,73.36 600.06,73.36 600.64,73.36 601.22,73.37 601.80,73.37 602.38,73.37 602.95,73.37 603.53,73.38 604.11,73.38 604.69,73.38 605.27,73.39 605.85,73.39 606.43,73.40 607.01,73.40 607.59,73.41 608.17,73.41 608.75,73.42 609.33,73.43 609.90,73.43 610.48,73.44 611.06,73.45 611.64,73.46 612.22,73.47 612.80,73.48 613.38,73.49 613.96,73.50 614.54,73.51 615.12,73.52 615.70,73.53 616.27,73.55 616.85,73.56 617.43,73.57 618.01,73.59 618.59,73.60 619.17,73.61 619.75,73.63" fill="none" stroke="#4a8a3a" stroke-width="0.5" stroke-opacity="1"/>
<polyline points="550.25,73.79 550.83,73.73 551.41,73.67 551.99,73.61 552.57,73.55 553.15,73.50 553.73,73.44 554.30,73.38 554.88,73.33 555.46,73.27 556.04,73.22 556.62,73.17 557.20,73.11 557.78,73.06 558.36,73.01 558.94,72.96 559.52,72.91 560.10,72.86 560.67,72.81 561.25,72.76 561.83,72.71 562.41,72.66 562.99,72.61 563.57,72.57 564.15,72.52 564.73,72.48 565.31,72.43 565.89,72.39 566.47,72.34 567.05,72.30 567.62,72.26 568.20,72.22 568.78,72.18 569.36,72.14 569.94,72.10 570.52,72.06 571.10,72.02 571.68,71.98 572.26,71.95 572.84,71.91 573.42,71.87 574.00,71.84 574.58,71.81 575.15,71.77 575.73,71.74 576.31,71.71 576.89,71.68 577.47,71.65 578.05,71.62 578.63,71.59 579.21,71.56 579.79,71.53 580.37,71.51 580.95,71.48 581.52,71.46 582.10,71.43 582.68,71.41 583.26,71.39 583.84,71.36 584.42,71.34 585.00,71.32 585.58,71.30 586.16,71.29 586.74,71.27 587.32,71.25 587.90,71.24 588.48,71.22 589.05,71.21 589.63,71.19 590.21,71.18 590.79,71.17 591.37,71.16 591.95,71.15 592.53,71.14 593.11,71.13 593.69,71.13 594.27,71.12 594.85,71.12 595.42,71.11 596.00,71.11 596.58,71.11 597.16,71.10 597.74,71.10 598.32,71.10 598.90,71.11 599.48,71.11 600.06,71.11 600.64,71.12 601.22,71.12 601.80,71.13 602.38,71.13 602.95,71.14 603.53,71.15 604.11,71.16 604.69,71.17 605.27,71.19 605.85,71.20 606.43,71.21 607.01,71.23 607.59,71.24 608.17,71.26 608.75,71.28 609.33,71.30 609.90,71.32 610.48,71.34 611.06,71.36 611.64,71.38 612.22,71.41 612.80,71.43 613.38,71.46 613.96,71.49 614.54,71.52 615.12,71.54 615.70,71.58 616.27,71.61 616.85,71.64 617.43,71.67 618.01,71.71 618.59,71.74 619.17,71.78 619.75,71.82" fill="none" stroke="#4a8a3a" stroke-width="0.5" stroke-opacity="1"/>
<polyline points="550.25,72.76 550.83,72.66 551.41,72.56 551.99,72.46 552.57,72.36 553.15,72.27 553.73,72.17 554.30,72.08 554.88,71.98 555.46,71.89 556.04,71.80 556.62,71.71 557.20,71.62 557.78,71.53 558.36,71.44 558.94,71.35 559.52,71.26 560.10,71.18 560.67,71.09 561.25,71.01 561.83,70.92 562.41,70.84 562.99,70.76 563.57,70.68 564.15,70.60 564.73,70.52 565.31,70.44 565.89,70.37 566.47,70.29 567.05,70.22 567.62,70.14 568.20,70.07 568.78,70.00 569.36,69.93 569.94,69.86 570.52,69.79 571.10,69.73 571.68,69.66 572.26,69.60 572.84,69.54 573.42,69.48 574.00,69.41 574.58,69.36 575.15,69.30 575.73,69.24 576.31,69.19 576.89,69.13 577.47,69.08 578.05,69.03 578.63,68.98 579.21,68.93 579.79,68.89 580.37,68.84 580.95,68.80 581.52,68.75 582.10,68.71 582.68,68.67 583.26,68.63 583.84,68.60 584.42,68.56 585.00,68.53 585.58,68.50 586.16,68.47 586.74,68.44 587.32,68.41 587.90,68.39 588.48,68.36 589.05,68.34 589.63,68.32 590.21,68.30 590.79,68.29 591.37,68.27 591.95,68.26 592.53,68.25 593.11,68.24 593.69,68.23 594.27,68.22 594.85,68.22 595.42,68.21 596.00,68.21 596.58,68.21 597.16,68.22 597.74,68.22 598.32,68.23 598.90,68.23 599.48,68.24 600.06,68.26 600.64,68.27 601.22,68.28 601.80,68.30 602.38,68.32 602.95,68.34 603.53,68.37 604.11,68.39 604.69,68.42 605.27,68.45 605.85,68.48 606.43,68.51 607.01,68.54 607.59,68.58 608.17,68.62 608.75,68.66 609.33,68.70 609.90,68.75 610.48,68.79 611.06,68.84 611.64,68.89 612.22,68.94 612.80,68.99 613.38,69.05 613.96,69.10 614.54,69.16 615.12,69.22 615.70,69.29 616.27,69.35 616.85,69.42 617.43,69.49 618.01,69.56 618.59,69.63 619.17,69.70 619.75,69.77" fill="none" stroke="#4a8a3a" stroke-width="0.5" stroke-opacity="1"/>
<polyline points="550.25,71.61 550.83,71.47 551.41,71.32 551.99,71.18 552.57,71.04 553.15,70.90 553.73,70.75 554.30,70.62 554.88,70.48 555.46,70.34 556.04,70.20 556.62,70.07 557.20,69.93 557.78,69.80 558.36,69.67 558.94,69.54 559.52,69.41 560.10,69.28 560.67,69.15 561.25,69.02 561.83,68.90 562.41,68.78 562.99,68.65 563.57,68.53 564.15,68.41 564.73,68.29 565.31,68.18 565.89,68.06 566.47,67.95 567.05,67.84 567.62,67.72 568.20,67.62 568.78,67.51 569.36,67.40 569.94,67.30 570.52,67.19 571.10,67.09 571.68,66.99 572.26,66.90 572.84,66.80 573.42,66.71 574.00,66.61 574.58,66.52 575.15,66.44 575.73,66.35 576.31,66.27 576.89,66.18 577.47,66.10 578.05,66.03 578.63,65.95 579.21,65.88 579.79,65.81 580.37,65.74 580.95,65.67 581.52,65.61 582.10,65.55 582.68,65.49 583.26,65.43 583.84,65.38 584.42,65.33 585.00,65.28 585.58,65.23 586.16,65.19 586.74,65.15 587.32,65.11 587.90,65.08 588.48,65.05 589.05,65.02 589.63,64.99 590.21,64.97 590.79,64.95 591.37,64.93 591.95,64.92 592.53,64.91 593.11,64.90 593.69,64.90 594.27,64.90 594.85,64.90 595.42,64.90 596.00,64.91 596.58,64.92 597.16,64.94 597.74,64.95 598.32,64.98 598.90,65.00 599.48,65.03 600.06,65.06 600.64,65.09 601.22,65.13 601.80,65.17 602.38,65.22 602.95,65.26 603.53,65.31 604.11,65.37 604.69,65.42 605.27,65.48 605.85,65.55 606.43,65.61 607.01,65.68 607.59,65.76 608.17,65.83 608.75,65.91 609.33,65.99 609.90,66.08 610.48,66.16 611.06,66.25 611.64,66.35 612.22,66.44 612.80,66.54 613.38,66.64 613.96,66.75 614.54,66.86 615.12,66.97 615.70,67.08 616.27,67.19 616.85,67.31 617.43,67.43 618.01,67.55 618.59,67.68 619.17,67.80 619.75,67.93" fill="none" stroke="#4a8a3a" stroke-width="0.5" stroke-opacity="1"/>
<polyline points="550.25,70.46 550.83,70.27 551.41,70.08 551.99,69.89 552.57,69.70 553.15,69.51 553.73,69.32 554.30,69.14 554.88,68.95 555.46,68.77 556.04,68.59 556.62,68.40 557.20,68.22 557.78,68.04 558.36,67.86 558.94,67.69 559.52,67.51 560.10,67.34 560.67,67.16 561.25,66.99 561.83,66.82 562.41,66.65 562.99,66.48 563.57,66.32 564.15,66.15 564.73,65.99 565.31,65.83 565.89,65.67 566.47,65.51 567.05,65.35 567.62,65.20 568.20,65.05 568.78,64.90 569.36,64.75 569.94,64.60 570.52,64.46 571.10,64.31 571.68,64.17 572.26,64.04 572.84,63.90 573.42,63.77 574.00,63.64 574.58,63.51 575.15,63.39 575.73,63.27 576.31,63.15 576.89,63.03 577.47,62.92 578.05,62.81 578.63,62.70 579.21,62.60 579.79,62.50 580.37,62.40 580.95,62.31 581.52,62.22 582.10,62.13 582.68,62.05 583.26,61.97 583.84,61.90 584.42,61.83 585.00,61.77 585.58,61.70 586.16,61.65 586.74,61.60 587.32,61.55 587.90,61.51 588.48,61.47 589.05,61.44 589.63,61.41 590.21,61.39 590.79,61.37 591.37,61.36 591.95,61.35 592.53,61.35 593.11,61.35 593.69,61.36 594.27,61.38 594.85,61.40 595.42,61.42 596.00,61.45 596.58,61.49 597.16,61.53 597.74,61.58 598.32,61.63 598.90,61.69 599.48,61.75 600.06,61.82 600.64,61.90 601.22,61.97 601.80,62.06 602.38,62.15 602.95,62.24 603.53,62.34 604.11,62.44 604.69,62.55 605.27,62.67 605.85,62.78 606.43,62.90 607.01,63.03 607.59,63.16 608.17,63.29 608.75,63.43 609.33,63.57 609.90,63.72 610.48,63.87 611.06,64.02 611.64,64.18 612.22,64.34 612.80,64.50 613.38,64.66 613.96,64.83 614.54,65.00 615.12,65.18 615.70,65.35 616.27,65.53 616.85,65.71 617.43,65.90 618.01,66.08 618.59,66.27 619.17,66.46 619.75,66.66" fill="none" stroke="#4a8a3a" stroke-width="0.5" stroke-opacity="1"/>
<polyline points="550.25,69.42 550.83,69.18 551.41,68.95 551.99,68.71 552.57,68.48 553.15,68.25 553.73,68.02 554.30,67.79 554.88,67.56 555.46,67.33 556.04,67.10 556.62,66.88 557.20,66.65 557.78,66.43 558.36,66.20 558.94,65.98 559.52,65.76 560.10,65.54 560.67,65.32 561.25,65.10 561.83,64.88 562.41,64.67 562.99,64.45 563.57,64.24 564.15,64.03 564.73,63.82 565.31,63.61 565.89,63.40 566.47,63.20 567.05,62.99 567.62,62.79 568.20,62.59 568.78,62.39 569.36,62.20 569.94,62.00 570.52,61.81 571.10,61.62 571.68,61.44 572.26,61.25 572.84,61.07 573.42,60.89 574.00,60.72 574.58,60.54 575.15,60.37 575.73,60.21 576.31,60.05 576.89,59.89 577.47,59.73 578.05,59.58 578.63,59.43 579.21,59.29 579.79,59.15 580.37,59.02 580.95,58.89 581.52,58.77 582.10,58.65 582.68,58.54 583.26,58.44 583.84,58.34 584.42,58.24 585.00,58.16 585.58,58.08 586.16,58.01 586.74,57.94 587.32,57.89 587.90,57.84 588.48,57.80 589.05,57.77 589.63,57.74 590.21,57.73 590.79,57.72 591.37,57.73 591.95,57.74 592.53,57.76 593.11,57.79 593.69,57.84 594.27,57.89 594.85,57.95 595.42,58.02 596.00,58.09 596.58,58.18 597.16,58.28 597.74,58.38 598.32,58.49 598.90,58.61 599.48,58.74 600.06,58.88 600.64,59.02 601.22,59.17 601.80,59.32 602.38,59.48 602.95,59.65 603.53,59.82 604.11,60.00 604.69,60.19 605.27,60.37 605.85,60.57 606.43,60.76 607.01,60.97 607.59,61.17 608.17,61.38 608.75,61.59 609.33,61.80 609.90,62.02 610.48,62.24 611.06,62.47 611.64,62.69 612.22,62.92 612.80,63.15 613.38,63.38 613.96,63.62 614.54,63.86 615.12,64.09 615.70,64.33 616.27,64.57 616.85,64.82 617.43,65.06 618.01,65.31 618.59,65.56 619.17,65.80 619.75,66.05" fill="none" stroke="#4a8a3a" stroke-width="0.5" stroke-opacity="1"/>
<polyline points="550.25,68.58 550.83,68.31 551.41,68.04 551.99,67.78 552.57,67.51 553.15,67.24 553.73,66.97 554.30,66.71 554.88,66.44 555.46,66.17 556.04,65.91 556.62,65.64 557.20,65.38 557.78,65.11 558.36,64.85 558.94,64.59 559.52,64.33 560.10,64.07 560.67,63.81 561.25,63.55 561.83,63.29 562.41,63.03 562.99,62.77 563.57,62.52 564.15,62.26 564.73,62.01 565.31,61.75 565.89,61.50 566.47,61.25 567.05,61.00 567.62,60.75 568.20,60.50 568.78,60.26 569.36,60.01 569.94,59.77 570.52,59.53 571.10,59.29 571.68,59.05 572.26,58.82 572.84,58.59 573.42,58.36 574.00,58.13 574.58,57.90 575.15,57.68 575.73,57.46 576.31,57.24 576.89,57.03 577.47,56.82 578.05,56.62 578.63,56.41 579.21,56.22 579.79,56.03 580.37,55.84 580.95,55.66 581.52,55.49 582.10,55.32 582.68,55.16 583.26,55.00 583.84,54.86 584.42,54.73 585.00,54.60 585.58,54.49 586.16,54.39 586.74,54.30 587.32,54.23 587.90,54.17 588.48,54.12 589.05,54.09 589.63,54.08 590.21,54.09 590.79,54.12 591.37,54.17 591.95,54.23 592.53,54.31 593.11,54.41 593.69,54.53 594.27,54.67 594.85,54.81 595.42,54.98 596.00,55.15 596.58,55.34 597.16,55.53 597.74,55.74 598.32,55.95 598.90,56.18 599.48,56.40 600.06,56.64 600.64,56.88 601.22,57.12 601.80,57.37 602.38,57.62 602.95,57.88 603.53,58.13 604.11,58.39 604.69,58.66 605.27,58.92 605.85,59.19 606.43,59.46 607.01,59.73 607.59,60.00 608.17,60.28 608.75,60.55 609.33,60.83 609.90,61.11 610.48,61.39 611.06,61.67 611.64,61.95 612.22,62.23 612.80,62.51 613.38,62.79 613.96,63.07 614.54,63.36 615.12,63.64 615.70,63.92 616.27,64.21 616.85,64.49 617.43,64.78 618.01,65.07 618.59,65.35 619.17,65.64 619.75,65.92" fill="none" stroke="#4a8a3a" stroke-width="0.5" stroke-opacity="1"/>
<polyline points="550.25,68.05 550.83,67.75 551.41,67.46 551.99,67.17 552.57,66.88 553.15,66.59 553.73,66.29 554.30,66.00 554.88,65.71 555.46,65.42 556.04,65.13 556.62,64.84 557.20,64.55 557.78,64.26 558.36,63.97 558.94,63.68 559.52,63.39 560.10,63.10 560.67,62.81 561.25,62.52 561.83,62.23 562.41,61.94 562.99,61.65 563.57,61.37 564.15,61.08 564.73,60.79 565.31,60.50 565.89,60.22 566.47,59.93 567.05,59.64 567.62,59.36 568.20,59.07 568.78,58.79 569.36,58.51 569.94,58.22 570.52,57.94 571.10,57.66 571.68,57.38 572.26,57.09 572.84,56.81 573.42,56.54 574.00,56.26 574.58,55.98 575.15,55.71 575.73,55.43 576.31,55.16 576.89,54.89 577.47,54.62 578.05,54.35 578.63,54.08 579.21,53.82 579.79,53.56 580.37,53.30 580.95,53.04 581.52,52.79 582.10,52.54 582.68,52.29 583.26,52.05 583.84,51.81 584.42,51.58 585.00,51.36 585.58,51.14 586.16,50.93 586.74,50.73 587.32,50.53 587.90,50.35 588.48,50.17 589.05,50.01 589.63,49.86 590.21,49.72 590.79,49.60 591.37,49.49 591.95,49.39 592.53,49.30 593.11,49.23 593.69,49.16 594.27,49.11 594.85,49.06 595.42,49.03 596.00,49.00 596.58,48.97 597.16,48.95 597.74,48.94 598.32,48.93 598.90,48.92 599.48,48.91 600.06,48.91 600.64,48.91 601.22,48.90 601.80,48.90 602.38,48.90 602.95,48.90 603.53,48.90 604.11,48.90 604.69,48.90 605.27,48.90 605.85,48.90 606.43,48.90 607.01,48.90 607.59,48.90 608.17,48.90 608.75,48.90 609.33,48.90 609.90,48.90 610.48,48.90 611.06,48.90 611.64,48.90 612.22,48.90 612.80,48.90 613.38,48.90 613.96,48.90 614.54,48.90 615.12,48.90 615.70,48.90 616.27,48.90 616.85,48.90 617.43,48.90 618.01,48.90 618.59,48.90 619.17,48.90 619.75,48.90" fill="none" stroke="#d83a3a" stroke-width="0.48" stroke-opacity="1"/>
<polyline points="550.25,48.90 550.83,48.90 551.41,48.90 551.99,48.90 552.57,48.90 553.15,48.90 553.73,48.90 554.30,48.90 554.88,48.90 555.46,48.90 556.04,48.90 556.62,48.90 557.20,48.90 557.78,48.90 558.36,48.90 558.94,48.90 559.52,48.90 560.10,48.90 560.67,48.90 561.25,48.90 561.83,48.90 562.41,48.90 562.99,48.90 563.57,48.90 564.15,48.90 564.73,48.90 565.31,48.90 565.89,48.90 566.47,48.90 567.05,48.90 567.62,48.90 568.20,48.90 568.78,48.90 569.36,48.90 569.94,48.90 570.52,48.90 571.10,48.90 571.68,48.90 572.26,48.90 572.84,48.90 573.42,48.90 574.00,48.90 574.58,48.90 575.15,48.90 575.73,48.90 576.31,48.90 576.89,48.90 577.47,48.90 578.05,48.90 578.63,48.90 579.21,48.90 579.79,48.90 580.37,48.90 580.95,48.90 581.52,48.90 582.10,48.90 582.68,48.90 583.26,48.90 583.84,48.90 584.42,48.90 585.00,48.90 585.58,48.90 586.16,48.90 586.74,48.90 587.32,48.90 587.90,48.90 588.48,48.90 589.05,48.90 589.63,48.90 590.21,48.90 590.79,48.90 591.37,48.90 591.95,48.90 592.53,48.90 593.11,48.90 593.69,48.90 594.27,48.90 594.85,48.90 595.42,48.90 596.00,48.90 596.58,48.90 597.16,48.90 597.74,48.90 598.32,48.90 598.90,48.90 599.48,48.90 600.06,48.90 600.64,48.90 601.22,48.90 601.80,48.90 602.38,48.90 602.95,48.90 603.53,48.90 604.11,48.90 604.69,48.90 605.27,48.90 605.85,48.90 606.43,48.90 607.01,48.90 607.59,48.90 608.17,48.90 608.75,48.90 609.33,48.90 609.90,48.90 610.48,48.90 611.06,48.90 611.64,48.90 612.22,48.90 612.80,48.90 613.38,48.90 613.96,48.90 614.54,48.90 615.12,48.90 615.70,48.90 616.27,48.90 616.85,48.90 617.43,48.90 618.01,48.90 618.59,48.90 619.17,48.90 619.75,48.90" fill="none" stroke="#d83a3a" stroke-width="0.48" stroke-opacity="1"/>
<polyline points="550.25,48.90 550.83,48.90 551.41,48.90 551.99,48.90 552.57,48.90 553.15,48.90 553.73,48.90 554.30,48.90 554.88,48.90 555.46,48.90 556.04,48.90 556.62,48.90 557.20,48.90 557.78,48.90 558.36,48.90 558.94,48.90 559.52,48.90 560.10,48.90 560.67,48.90 561.25,48.90 561.83,48.90 562.41,48.90 562.99,48.90 563.57,48.90 564.15,48.90 564.73,48.90 565.31,48.90 565.89,48.90 566.47,48.90 567.05,48.90 567.62,48.90 568.20,48.90 568.78,48.90 569.36,48.90 569.94,48.90 570.52,48.90 571.10,48.90 571.68,48.90 572.26,48.90 572.84,48.90 573.42,48.90 574.00,48.90 574.58,48.90 575.15,48.90 575.73,48.90 576.31,48.90 576.89,48.90 577.47,48.90 578.05,48.90 578.63,48.90 579.21,48.90 579.79,48.90 580.37,48.90 580.95,48.90 581.52,48.90 582.10,48.90 582.68,48.90 583.26,48.90 583.84,48.90 584.42,48.90 585.00,48.90 585.58,48.90 586.16,48.90 586.74,48.90 587.32,48.90 587.90,48.90 588.48,48.90 589.05,48.90 589.63,48.90 590.21,48.90 590.79,48.90 591.37,48.90 591.95,48.90 592.53,48.90 593.11,48.90 593.69,48.90 594.27,48.90 594.85,48.90 595.42,48.90 596.00,48.90 596.58,48.90 597.16,48.90 597.74,48.90 598.32,48.90 598.90,48.90 599.48,48.90 600.06,48.90 600.64,48.90 601.22,48.90 601.80,48.90 602.38,48.90 602.95,48.90 603.53,48.90 604.11,48.90 604.69,48.90 605.27,48.90 605.85,48.90 606.43,48.90 607.01,48.90 607.59,48.90 608.17,48.90 608.75,48.90 609.33,48.90 609.90,48.90 610.48,48.90 611.06,48.90 611.64,48.90 612.22,48.90 612.80,48.90 613.38,48.90 613.96,48.90 614.54,48.90 615.12,48.90 615.70,48.90 616.27,48.90 616.85,48.90 617.43,48.90 618.01,48.90 618.59,48.90 619.17,48.90 619.75,48.90" fill="none" stroke="#d83a3a" stroke-width="0.48" stroke-opacity="1"/>
<polyline points="550.25,29.75 550.83,30.05 551.41,30.34 551.99,30.63 552.57,30.92 553.15,31.21 553.73,31.51 554.30,31.80 554.88,32.09 555.46,32.38 556.04,32.67 556.62,32.96 557.20,33.25 557.78,33.54 558.36,33.83 558.94,34.12 559.52,34.41 560.10,34.70 560.67,34.99 561.25,35.28 561.83,35.57 562.41,35.86 562.99,36.15 563.57,36.43 564.15,36.72 564.73,37.01 565.31,37.30 565.89,37.58 566.47,37.87 567.05,38.16 567.62,38.44 568.20,38.73 568.78,39.01 569.36,39.29 569.94,39.58 570.52,39.86 571.10,40.14 571.68,40.42 572.26,40.71 572.84,40.99 573.42,41.26 574.00,41.54 574.58,41.82 575.15,42.09 575.73,42.37 576.31,42.64 576.89,42.91 577.47,43.18 578.05,43.45 578.63,43.72 579.21,43.98 579.79,44.24 580.37,44.50 580.95,44.76 581.52,45.01 582.10,45.26 582.68,45.51 583.26,45.75 583.84,45.99 584.42,46.22 585.00,46.44 585.58,46.66 586.16,46.87 586.74,47.07 587.32,47.27 587.90,47.45 588.48,47.63 589.05,47.79 589.63,47.94 590.21,48.08 590.79,48.20 591.37,48.31 591.95,48.41 592.53,48.50 593.11,48.57 593.69,48.64 594.27,48.69 594.85,48.74 595.42,48.77 596.00,48.80 596.58,48.83 597.16,48.85 597.74,48.86 598.32,48.87 598.90,48.88 599.48,48.89 600.06,48.89 600.64,48.89 601.22,48.90 601.80,48.90 602.38,48.90 602.95,48.90 603.53,48.90 604.11,48.90 604.69,48.90 605.27,48.90 605.85,48.90 606.43,48.90 607.01,48.90 607.59,48.90 608.17,48.90 608.75,48.90 609.33,48.90 609.90,48.90 610.48,48.90 611.06,48.90 611.64,48.90 612.22,48.90 612.80,48.90 613.38,48.90 613.96,48.90 614.54,48.90 615.12,48.90 615.70,48.90 616.27,48.90 616.85,48.90 617.43,48.90 618.01,48.90 618.59,48.90 619.17,48.90 619.75,48.90" fill="none" stroke="#d83a3a" stroke-width="0.48" stroke-opacity="1"/>
<polyline points="550.25,29.22 550.83,29.49 551.41,29.76 551.99,30.02 552.57,30.29 553.15,30.56 553.73,30.83 554.30,31.09 554.88,31.36 555.46,31.63 556.04,31.89 556.62,32.16 557.20,32.42 557.78,32.69 558.36,32.95 558.94,33.21 559.52,33.47 560.10,33.73 560.67,33.99 561.25,34.25 561.83,34.51 562.41,34.77 562.99,35.03 563.57,35.28 564.15,35.54 564.73,35.79 565.31,36.05 565.89,36.30 566.47,36.55 567.05,36.80 567.62,37.05 568.20,37.30 568.78,37.54 569.36,37.79 569.94,38.03 570.52,38.27 571.10,38.51 571.68,38.75 572.26,38.98 572.84,39.21 573.42,39.44 574.00,39.67 574.58,39.90 575.15,40.12 575.73,40.34 576.31,40.56 576.89,40.77 577.47,40.98 578.05,41.18 578.63,41.39 579.21,41.58 579.79,41.77 580.37,41.96 580.95,42.14 581.52,42.31 582.10,42.48 582.68,42.64 583.26,42.80 583.84,42.94 584.42,43.07 585.00,43.20 585.58,43.31 586.16,43.41 586.74,43.50 587.32,43.57 587.90,43.63 588.48,43.68 589.05,43.71 589.63,43.72 590.21,43.71 590.79,43.68 591.37,43.63 591.95,43.57 592.53,43.49 593.11,43.39 593.69,43.27 594.27,43.13 594.85,42.99 595.42,42.82 596.00,42.65 596.58,42.46 597.16,42.27 597.74,42.06 598.32,41.85 598.90,41.62 599.48,41.40 600.06,41.16 600.64,40.92 601.22,40.68 601.80,40.43 602.38,40.18 602.95,39.92 603.53,39.67 604.11,39.41 604.69,39.14 605.27,38.88 605.85,38.61 606.43,38.34 607.01,38.07 607.59,37.80 608.17,37.52 608.75,37.25 609.33,36.97 609.90,36.69 610.48,36.41 611.06,36.13 611.64,35.85 612.22,35.57 612.80,35.29 613.38,35.01 613.96,34.73 614.54,34.44 615.12,34.16 615.70,33.88 616.27,33.59 616.85,33.31 617.43,33.02 618.01,32.73 618.59,32.45 619.17,32.16 619.75,31.88" fill="none" stroke="#4a8a3a" stroke-width="0.5" stroke-opacity="1"/>
<polyline points="550.25,28.38 550.83,28.62 551.41,28.85 551.99,29.09 552.57,29.32 553.15,29.55 553.73,29.78 554.30,30.01 554.88,30.24 555.46,30.47 556.04,30.70 556.62,30.92 557.20,31.15 557.78,31.37 558.36,31.60 558.94,31.82 559.52,32.04 560.10,32.26 560.67,32.48 561.25,32.70 561.83,32.92 562.41,33.13 562.99,33.35 563.57,33.56 564.15,33.77 564.73,33.98 565.31,34.19 565.89,34.40 566.47,34.60 567.05,34.81 567.62,35.01 568.20,35.21 568.78,35.41 569.36,35.60 569.94,35.80 570.52,35.99 571.10,36.18 571.68,36.36 572.26,36.55 572.84,36.73 573.42,36.91 574.00,37.08 574.58,37.26 575.15,37.43 575.73,37.59 576.31,37.75 576.89,37.91 577.47,38.07 578.05,38.22 578.63,38.37 579.21,38.51 579.79,38.65 580.37,38.78 580.95,38.91 581.52,39.03 582.10,39.15 582.68,39.26 583.26,39.36 583.84,39.46 584.42,39.56 585.00,39.64 585.58,39.72 586.16,39.79 586.74,39.86 587.32,39.91 587.90,39.96 588.48,40.00 589.05,40.03 589.63,40.06 590.21,40.07 590.79,40.08 591.37,40.07 591.95,40.06 592.53,40.04 593.11,40.01 593.69,39.96 594.27,39.91 594.85,39.85 595.42,39.78 596.00,39.71 596.58,39.62 597.16,39.52 597.74,39.42 598.32,39.31 598.90,39.19 599.48,39.06 600.06,38.92 600.64,38.78 601.22,38.63 601.80,38.48 602.38,38.32 602.95,38.15 603.53,37.98 604.11,37.80 604.69,37.61 605.27,37.43 605.85,37.23 606.43,37.04 607.01,36.83 607.59,36.63 608.17,36.42 608.75,36.21 609.33,36.00 609.90,35.78 610.48,35.56 611.06,35.33 611.64,35.11 612.22,34.88 612.80,34.65 613.38,34.42 613.96,34.18 614.54,33.94 615.12,33.71 615.70,33.47 616.27,33.23 616.85,32.98 617.43,32.74 618.01,32.49 618.59,32.24 619.17,32.00 619.75,31.75" fill="none" stroke="#4a8a3a" stroke-width="0.5" stroke-opacity="1"/>
<polyline points="550.25,27.34 550.83,27.53 551.41,27.72 551.99,27.91 552.57,28.10 553.15,28.29 553.73,28.48 554.30,28.66 554.88,28.85 555.46,29.03 556.04,29.21 556.62,29.40 557.20,29.58 557.78,29.76 558.36,29.94 558.94,30.11 559.52,30.29 560.10,30.46 560.67,30.64 561.25,30.81 561.83,30.98 562.41,31.15 562.99,31.32 563.57,31.48 564.15,31.65 564.73,31.81 565.31,31.97 565.89,32.13 566.47,32.29 567.05,32.45 567.62,32.60 568.20,32.75 568.78,32.90 569.36,33.05 569.94,33.20 570.52,33.34 571.10,33.49 571.68,33.63 572.26,33.76 572.84,33.90 573.42,34.03 574.00,34.16 574.58,34.29 575.15,34.41 575.73,34.53 576.31,34.65 576.89,34.77 577.47,34.88 578.05,34.99 578.63,35.10 579.21,35.20 579.79,35.30 580.37,35.40 580.95,35.49 581.52,35.58 582.10,35.67 582.68,35.75 583.26,35.83 583.84,35.90 584.42,35.97 585.00,36.03 585.58,36.10 586.16,36.15 586.74,36.20 587.32,36.25 587.90,36.29 588.48,36.33 589.05,36.36 589.63,36.39 590.21,36.41 590.79,36.43 591.37,36.44 591.95,36.45 592.53,36.45 593.11,36.45 593.69,36.44 594.27,36.42 594.85,36.40 595.42,36.38 596.00,36.35 596.58,36.31 597.16,36.27 597.74,36.22 598.32,36.17 598.90,36.11 599.48,36.05 600.06,35.98 600.64,35.90 601.22,35.83 601.80,35.74 602.38,35.65 602.95,35.56 603.53,35.46 604.11,35.36 604.69,35.25 605.27,35.13 605.85,35.02 606.43,34.90 607.01,34.77 607.59,34.64 608.17,34.51 608.75,34.37 609.33,34.23 609.90,34.08 610.48,33.93 611.06,33.78 611.64,33.62 612.22,33.46 612.80,33.30 613.38,33.14 613.96,32.97 614.54,32.80 615.12,32.62 615.70,32.45 616.27,32.27 616.85,32.09 617.43,31.90 618.01,31.72 618.59,31.53 619.17,31.34 619.75,31.14" fill="none" stroke="#4a8a3a" stroke-width="0.5" stroke-opacity="1"/>
<polyline points="550.25,26.19 550.83,26.33 551.41,26.48 551.99,26.62 552.57,26.76 553.15,26.90 553.73,27.05 554.30,27.18 554.88,27.32 555.46,27.46 556.04,27.60 556.62,27.73 557.20,27.87 557.78,28.00 558.36,28.13 558.94,28.26 559.52,28.39 560.10,28.52 560.67,28.65 561.25,28.78 561.83,28.90 562.41,29.02 562.99,29.15 563.57,29.27 564.15,29.39 564.73,29.51 565.31,29.62 565.89,29.74 566.47,29.85 567.05,29.96 567.62,30.08 568.20,30.18 568.78,30.29 569.36,30.40 569.94,30.50 570.52,30.61 571.10,30.71 571.68,30.81 572.26,30.90 572.84,31.00 573.42,31.09 574.00,31.19 574.58,31.28 575.15,31.36 575.73,31.45 576.31,31.53 576.89,31.62 577.47,31.70 578.05,31.77 578.63,31.85 579.21,31.92 579.79,31.99 580.37,32.06 580.95,32.13 581.52,32.19 582.10,32.25 582.68,32.31 583.26,32.37 583.84,32.42 584.42,32.47 585.00,32.52 585.58,32.57 586.16,32.61 586.74,32.65 587.32,32.69 587.90,32.72 588.48,32.75 589.05,32.78 589.63,32.81 590.21,32.83 590.79,32.85 591.37,32.87 591.95,32.88 592.53,32.89 593.11,32.90 593.69,32.90 594.27,32.90 594.85,32.90 595.42,32.90 596.00,32.89 596.58,32.88 597.16,32.86 597.74,32.85 598.32,32.82 598.90,32.80 599.48,32.77 600.06,32.74 600.64,32.71 601.22,32.67 601.80,32.63 602.38,32.58 602.95,32.54 603.53,32.49 604.11,32.43 604.69,32.38 605.27,32.32 605.85,32.25 606.43,32.19 607.01,32.12 607.59,32.04 608.17,31.97 608.75,31.89 609.33,31.81 609.90,31.72 610.48,31.64 611.06,31.55 611.64,31.45 612.22,31.36 612.80,31.26 613.38,31.16 613.96,31.05 614.54,30.94 615.12,30.83 615.70,30.72 616.27,30.61 616.85,30.49 617.43,30.37 618.01,30.25 618.59,30.12 619.17,30.00 619.75,29.87" fill="none" stroke="#4a8a3a" stroke-width="0.5" stroke-opacity="1"/>
<polyline points="550.25,25.04 550.83,25.14 551.41,25.24 551.99,25.34 552.57,25.44 553.15,25.53 553.73,25.63 554.30,25.72 554.88,25.82 555.46,25.91 556.04,26.00 556.62,26.09 557.20,26.18 557.78,26.27 558.36,26.36 558.94,26.45 559.52,26.54 560.10,26.62 560.67,26.71 561.25,26.79 561.83,26.88 562.41,26.96 562.99,27.04 563.57,27.12 564.15,27.20 564.73,27.28 565.31,27.36 565.89,27.43 566.47,27.51 567.05,27.58 567.62,27.66 568.20,27.73 568.78,27.80 569.36,27.87 569.94,27.94 570.52,28.01 571.10,28.07 571.68,28.14 572.26,28.20 572.84,28.26 573.42,28.32 574.00,28.39 574.58,28.44 575.15,28.50 575.73,28.56 576.31,28.61 576.89,28.67 577.47,28.72 578.05,28.77 578.63,28.82 579.21,28.87 579.79,28.91 580.37,28.96 580.95,29.00 581.52,29.05 582.10,29.09 582.68,29.13 583.26,29.17 583.84,29.20 584.42,29.24 585.00,29.27 585.58,29.30 586.16,29.33 586.74,29.36 587.32,29.39 587.90,29.41 588.48,29.44 589.05,29.46 589.63,29.48 590.21,29.50 590.79,29.51 591.37,29.53 591.95,29.54 592.53,29.55 593.11,29.56 593.69,29.57 594.27,29.58 594.85,29.58 595.42,29.59 596.00,29.59 596.58,29.59 597.16,29.58 597.74,29.58 598.32,29.57 598.90,29.57 599.48,29.56 600.06,29.54 600.64,29.53 601.22,29.52 601.80,29.50 602.38,29.48 602.95,29.46 603.53,29.43 604.11,29.41 604.69,29.38 605.27,29.35 605.85,29.32 606.43,29.29 607.01,29.26 607.59,29.22 608.17,29.18 608.75,29.14 609.33,29.10 609.90,29.05 610.48,29.01 611.06,28.96 611.64,28.91 612.22,28.86 612.80,28.81 613.38,28.75 613.96,28.70 614.54,28.64 615.12,28.58 615.70,28.51 616.27,28.45 616.85,28.38 617.43,28.31 618.01,28.24 618.59,28.17 619.17,28.10 619.75,28.03" fill="none" stroke="#4a8a3a" stroke-width="0.5" stroke-opacity="1"/>
<polyline points="550.25,24.01 550.83,24.07 551.41,24.13 551.99,24.19 552.57,24.25 553.15,24.30 553.73,24.36 554.30,24.42 554.88,24.47 555.46,24.53 556.04,24.58 556.62,24.63 557.20,24.69 557.78,24.74 558.36,24.79 558.94,24.84 559.52,24.89 560.10,24.94 560.67,24.99 561.25,25.04 561.83,25.09 562.41,25.14 562.99,25.19 563.57,25.23 564.15,25.28 564.73,25.32 565.31,25.37 565.89,25.41 566.47,25.46 567.05,25.50 567.62,25.54 568.20,25.58 568.78,25.62 569.36,25.66 569.94,25.70 570.52,25.74 571.10,25.78 571.68,25.82 572.26,25.85 572.84,25.89 573.42,25.93 574.00,25.96 574.58,25.99 575.15,26.03 575.73,26.06 576.31,26.09 576.89,26.12 577.47,26.15 578.05,26.18 578.63,26.21 579.21,26.24 579.79,26.27 580.37,26.29 580.95,26.32 581.52,26.34 582.10,26.37 582.68,26.39 583.26,26.41 583.84,26.44 584.42,26.46 585.00,26.48 585.58,26.50 586.16,26.51 586.74,26.53 587.32,26.55 587.90,26.56 588.48,26.58 589.05,26.59 589.63,26.61 590.21,26.62 590.79,26.63 591.37,26.64 591.95,26.65 592.53,26.66 593.11,26.67 593.69,26.67 594.27,26.68 594.85,26.68 595.42,26.69 596.00,26.69 596.58,26.69 597.16,26.70 597.74,26.70 598.32,26.70 598.90,26.69 599.48,26.69 600.06,26.69 600.64,26.68 601.22,26.68 601.80,26.67 602.38,26.67 602.95,26.66 603.53,26.65 604.11,26.64 604.69,26.63 605.27,26.61 605.85,26.60 606.43,26.59 607.01,26.57 607.59,26.56 608.17,26.54 608.75,26.52 609.33,26.50 609.90,26.48 610.48,26.46 611.06,26.44 611.64,26.42 612.22,26.39 612.80,26.37 613.38,26.34 613.96,26.31 614.54,26.28 615.12,26.26 615.70,26.22 616.27,26.19 616.85,26.16 617.43,26.13 618.01,26.09 618.59,26.06 619.17,26.02 619.75,25.98" fill="none" stroke="#4a8a3a" stroke-width="0.5" stroke-opacity="1"/>
<polyline points="550.25,23.20 550.83,23.23 551.41,23.25 551.99,23.28 552.57,23.31 553.15,23.33 553.73,23.36 554.30,23.39 554.88,23.41 555.46,23.44 556.04,23.46 556.62,23.48 557.20,23.51 557.78,23.53 558.36,23.56 558.94,23.58 559.52,23.60 560.10,23.63 560.67,23.65 561.25,23.67 561.83,23.69 562.41,23.72 562.99,23.74 563.57,23.76 564.15,23.78 564.73,23.80 565.31,23.82 565.89,23.84 566.47,23.86 567.05,23.88 567.62,23.90 568.20,23.92 568.78,23.94 569.36,23.95 569.94,23.97 570.52,23.99 571.10,24.01 571.68,24.02 572.26,24.04 572.84,24.06 573.42,24.07 574.00,24.09 574.58,24.10 575.15,24.12 575.73,24.13 576.31,24.15 576.89,24.16 577.47,24.18 578.05,24.19 578.63,24.20 579.21,24.21 579.79,24.23 580.37,24.24 580.95,24.25 581.52,24.26 582.10,24.27 582.68,24.28 583.26,24.29 583.84,24.30 584.42,24.31 585.00,24.32 585.58,24.33 586.16,24.34 586.74,24.35 587.32,24.36 587.90,24.36 588.48,24.37 589.05,24.38 589.63,24.39 590.21,24.39 590.79,24.40 591.37,24.40 591.95,24.41 592.53,24.41 593.11,24.42 593.69,24.42 594.27,24.42 594.85,24.43 595.42,24.43 596.00,24.43 596.58,24.43 597.16,24.43 597.74,24.44 598.32,24.44 598.90,24.44 599.48,24.44 600.06,24.44 600.64,24.44 601.22,24.43 601.80,24.43 602.38,24.43 602.95,24.43 603.53,24.42 604.11,24.42 604.69,24.42 605.27,24.41 605.85,24.41 606.43,24.40 607.01,24.40 607.59,24.39 608.17,24.39 608.75,24.38 609.33,24.37 609.90,24.37 610.48,24.36 611.06,24.35 611.64,24.34 612.22,24.33 612.80,24.32 613.38,24.31 613.96,24.30 614.54,24.29 615.12,24.28 615.70,24.27 616.27,24.25 616.85,24.24 617.43,24.23 618.01,24.21 618.59,24.20 619.17,24.19 619.75,24.17" fill="none" stroke="#4a8a3a" stroke-width="0.5" stroke-opacity="1"/>
<polyline points="550.25,22.68 550.83,22.69 551.41,22.69 551.99,22.70 552.57,22.71 553.15,22.71 553.73,22.72 554.30,22.73 554.88,22.73 555.46,22.74 556.04,22.75 556.62,22.75 557.20,22.76 557.78,22.76 558.36,22.77 558.94,22.78 559.52,22.78 560.10,22.79 560.67,22.79 561.25,22.80 561.83,22.80 562.41,22.81 562.99,22.82 563.57,22.82 564.15,22.83 564.73,22.83 565.31,22.84 565.89,22.84 566.47,22.85 567.05,22.85 567.62,22.86 568.20,22.86 568.78,22.87 569.36,22.87 569.94,22.88 570.52,22.88 571.10,22.88 571.68,22.89 572.26,22.89 572.84,22.90 573.42,22.90 574.00,22.90 574.58,22.91 575.15,22.91 575.73,22.92 576.31,22.92 576.89,22.92 577.47,22.93 578.05,22.93 578.63,22.93 579.21,22.94 579.79,22.94 580.37,22.94 580.95,22.95 581.52,22.95 582.10,22.95 582.68,22.95 583.26,22.96 583.84,22.96 584.42,22.96 585.00,22.96 585.58,22.97 586.16,22.97 586.74,22.97 587.32,22.97 587.90,22.98 588.48,22.98 589.05,22.98 589.63,22.98 590.21,22.98 590.79,22.98 591.37,22.99 591.95,22.99 592.53,22.99 593.11,22.99 593.69,22.99 594.27,22.99 594.85,22.99 595.42,22.99 596.00,22.99 596.58,22.99 597.16,22.99 597.74,22.99 598.32,23.00 598.90,23.00 599.48,23.00 600.06,23.00 600.64,23.00 601.22,23.00 601.80,23.00 602.38,22.99 602.95,22.99 603.53,22.99 604.11,22.99 604.69,22.99 605.27,22.99 605.85,22.99 606.43,22.99 607.01,22.99 607.59,22.99 608.17,22.99 608.75,22.98 609.33,22.98 609.90,22.98 610.48,22.98 611.06,22.98 611.64,22.98 612.22,22.97 612.80,22.97 613.38,22.97 613.96,22.97 614.54,22.96 615.12,22.96 615.70,22.96 616.27,22.96 616.85,22.95 617.43,22.95 618.01,22.95 618.59,22.94 619.17,22.94 619.75,22.94" fill="none" stroke="#4a8a3a" stroke-width="0.5" stroke-opacity="1"/>
<path d="M546.8,24.90 h-1.6" stroke="#222" stroke-width="0.5"/>
<text x="545.00" y="27.70" font-size="8.2" text-anchor="end" font-family='"Liberation Serif", "DejaVu Serif", serif' fill="#000" >2</text>
<path d="M546.8,48.90 h-1.6" stroke="#222" stroke-width="0.5"/>
<text x="545.00" y="51.70" font-size="8.2" text-anchor="end" font-family='"Liberation Serif", "DejaVu Serif", serif' fill="#000" >0</text>
<path d="M546.8,72.90 h-1.6" stroke="#222" stroke-width="0.5"/>
<text x="545.00" y="75.70" font-size="8.2" text-anchor="end" font-family='"Liberation Serif", "DejaVu Serif", serif' fill="#000" >-2</text>
<path d="M550.25,76.8 v1.6" stroke="#222" stroke-width="0.5"/>
<text x="550.25" y="84.40" font-size="8.2" text-anchor="middle" font-family='"Liberation Serif", "DejaVu Serif", serif' fill="#000" >-0.75</text>
<path d="M585.00,76.8 v1.6" stroke="#222" stroke-width="0.5"/>
<text x="585.00" y="84.40" font-size="8.2" text-anchor="middle" font-family='"Liberation Serif", "DejaVu Serif", serif' fill="#000" >0</text>
<path d="M619.75,76.8 v1.6" stroke="#222" stroke-width="0.5"/>
<text x="619.75" y="84.40" font-size="8.2" text-anchor="middle" font-family='"Liberation Serif", "DejaVu Serif", serif' fill="#000" >0.75</text>
<text transform="translate(535.3,48.8) rotate(-90)" font-size="8.3" text-anchor="middle" font-family='"DejaVu Sans", "Liberation Sans", sans-serif' font-style="italic" fill="#000">E</text>
<text x="604.80" y="33.60" font-size="7.5" text-anchor="start" font-family='"Liberation Serif", "DejaVu Serif", serif' fill="#000" font-weight="bold">bulk</text>
<text x="604.80" y="55.40" font-size="7.5" text-anchor="start" font-family='"Liberation Serif", "DejaVu Serif", serif' fill="#000" font-weight="bold">edge</text>
<text x="574" y="92.2" font-size="8" font-family='"DejaVu Sans", "Liberation Sans", sans-serif' fill="#000">Δ<tspan font-size="6.0" dy="2" font-style="italic">J</tspan><tspan font-size="4.5" dy="1">3</tspan><tspan font-size="6.0" dy="-1"> − </tspan><tspan font-size="6.0" font-style="italic">J</tspan><tspan font-size="4.5" dy="1">1</tspan></text>
<rect x="492.4" y="198.9" width="191.30" height="142.50" fill="none" stroke="#8e8e8e" stroke-width="0.7"/>
<path d="M500.70,341.4 v2.4" stroke="#222" stroke-width="0.6"/>
<text transform="translate(500.70,353.40) scale(0.93,1)" font-size="11.6" text-anchor="middle" font-family='"Liberation Serif", "DejaVu Serif", serif' fill="#000">1</text>
<path d="M537.46,341.4 v2.4" stroke="#222" stroke-width="0.6"/>
<text transform="translate(537.46,353.40) scale(0.93,1)" font-size="11.6" text-anchor="middle" font-family='"Liberation Serif", "DejaVu Serif", serif' fill="#000">5</text>
<path d="M583.41,341.4 v2.4" stroke="#222" stroke-width="0.6"/>
<text transform="translate(583.41,353.40) scale(0.93,1)" font-size="11.6" text-anchor="middle" font-family='"Liberation Serif", "DejaVu Serif", serif' fill="#000">10</text>
<path d="M629.36,341.4 v2.4" stroke="#222" stroke-width="0.6"/>
<text transform="translate(629.36,353.40) scale(0.93,1)" font-size="11.6" text-anchor="middle" font-family='"Liberation Serif", "DejaVu Serif", serif' fill="#000">15</text>
<path d="M675.31,341.4 v2.4" stroke="#222" stroke-width="0.6"/>
<text transform="translate(675.31,353.40) scale(0.93,1)" font-size="11.6" text-anchor="middle" font-family='"Liberation Serif", "DejaVu Serif", serif' fill="#000">20</text>
<path d="M492.4,334.90 h-2.4" stroke="#222" stroke-width="0.6"/>
<text transform="translate(488.50,338.70) scale(0.93,1)" font-size="11.5" text-anchor="end" font-family='"Liberation Serif", "DejaVu Serif", serif' fill="#000">0.0</text>
<path d="M492.4,308.26 h-2.4" stroke="#222" stroke-width="0.6"/>
<text transform="translate(488.50,312.06) scale(0.93,1)" font-size="11.5" text-anchor="end" font-family='"Liberation Serif", "DejaVu Serif", serif' fill="#000">0.1</text>
<path d="M492.4,281.62 h-2.4" stroke="#222" stroke-width="0.6"/>
<text transform="translate(488.50,285.42) scale(0.93,1)" font-size="11.5" text-anchor="end" font-family='"Liberation Serif", "DejaVu Serif", serif' fill="#000">0.2</text>
<path d="M492.4,254.98 h-2.4" stroke="#222" stroke-width="0.6"/>
<text transform="translate(488.50,258.78) scale(0.93,1)" font-size="11.5" text-anchor="end" font-family='"Liberation Serif", "DejaVu Serif", serif' fill="#000">0.3</text>
<path d="M492.4,228.34 h-2.4" stroke="#222" stroke-width="0.6"/>
<text transform="translate(488.50,232.14) scale(0.93,1)" font-size="11.5" text-anchor="end" font-family='"Liberation Serif", "DejaVu Serif", serif' fill="#000">0.4</text>
<path d="M492.4,201.70 h-2.4" stroke="#222" stroke-width="0.6"/>
<text transform="translate(488.50,205.50) scale(0.93,1)" font-size="11.5" text-anchor="end" font-family='"Liberation Serif", "DejaVu Serif", serif' fill="#000">0.5</text>
<text x="588.20" y="364.60" font-size="10.8" text-anchor="middle" font-family='"Liberation Serif", "DejaVu Serif", serif' fill="#000" >site index</text>
<text transform="translate(468.7,271.1) rotate(-90)" font-size="11" text-anchor="middle" font-family='"DejaVu Sans", "Liberation Sans", sans-serif' fill="#000">|<tspan font-style="italic">ψ</tspan>|<tspan font-size="7.7" dy="-4">2</tspan></text>
<polygon points="500.70,332.15 503.32,334.05 502.32,337.12 499.08,337.12 498.08,334.05" fill="#e2101c"/>
<polygon points="509.89,202.41 512.51,204.31 511.51,207.39 508.27,207.39 507.27,204.31" fill="#e2101c"/>
<polygon points="519.08,332.15 521.70,334.05 520.70,337.12 517.46,337.12 516.46,334.05" fill="#e2101c"/>
<polygon points="528.27,331.62 530.89,333.52 529.89,336.59 526.65,336.59 525.65,333.52" fill="#e2101c"/>
<polygon points="537.46,332.15 540.08,334.05 539.08,337.12 535.84,337.12 534.84,334.05" fill="#e2101c"/>
<polygon points="546.65,329.75 549.27,331.65 548.27,334.73 545.03,334.73 544.03,331.65" fill="#e2101c"/>
<polygon points="555.84,332.15 558.46,334.05 557.46,337.12 554.22,337.12 553.22,334.05" fill="#e2101c"/>
<polygon points="565.03,332.15 567.65,334.05 566.65,337.12 563.41,337.12 562.41,334.05" fill="#e2101c"/>
<polygon points="574.22,332.15 576.84,334.05 575.84,337.12 572.60,337.12 571.60,334.05" fill="#e2101c"/>
<polygon points="583.41,332.15 586.03,334.05 585.03,337.12 581.79,337.12 580.79,334.05" fill="#e2101c"/>
<polygon points="592.60,332.15 595.22,334.05 594.22,337.12 590.98,337.12 589.98,334.05" fill="#e2101c"/>
<polygon points="601.79,332.15 604.41,334.05 603.41,337.12 600.17,337.12 599.17,334.05" fill="#e2101c"/>
<polygon points="610.98,332.15 613.60,334.05 612.60,337.12 609.36,337.12 608.36,334.05" fill="#e2101c"/>
<polygon points="620.17,332.15 622.79,334.05 621.79,337.12 618.55,337.12 617.55,334.05" fill="#e2101c"/>
<polygon points="629.36,329.75 631.98,331.65 630.98,334.73 627.74,334.73 626.74,331.65" fill="#e2101c"/>
<polygon points="638.55,332.15 641.17,334.05 640.17,337.12 636.93,337.12 635.93,334.05" fill="#e2101c"/>
<polygon points="647.74,331.62 650.36,333.52 649.36,336.59 646.12,336.59 645.12,333.52" fill="#e2101c"/>
<polygon points="656.93,332.15 659.55,334.05 658.55,337.12 655.31,337.12 654.31,334.05" fill="#e2101c"/>
<polygon points="666.12,202.41 668.74,204.31 667.74,207.39 664.50,207.39 663.50,204.31" fill="#e2101c"/>
<polygon points="675.31,332.15 677.93,334.05 676.93,337.12 673.69,337.12 672.69,334.05" fill="#e2101c"/>
<path d="M500.70,326.67 L503.10,330.37 L500.70,334.07 L498.30,330.37 z" fill="#c4bd35"/>
<path d="M509.89,330.93 L512.29,334.63 L509.89,338.33 L507.49,334.63 z" fill="#c4bd35"/>
<path d="M519.08,322.68 L521.48,326.38 L519.08,330.08 L516.68,326.38 z" fill="#c4bd35"/>
<path d="M528.27,324.81 L530.67,328.51 L528.27,332.21 L525.87,328.51 z" fill="#c4bd35"/>
<path d="M537.46,315.75 L539.86,319.45 L537.46,323.15 L535.06,319.45 z" fill="#c4bd35"/>
<path d="M546.65,320.01 L549.05,323.71 L546.65,327.41 L544.25,323.71 z" fill="#c4bd35"/>
<path d="M555.84,310.42 L558.24,314.12 L555.84,317.82 L553.44,314.12 z" fill="#c4bd35"/>
<path d="M565.03,313.08 L567.43,316.78 L565.03,320.48 L562.63,316.78 z" fill="#c4bd35"/>
<path d="M574.22,308.02 L576.62,311.72 L574.22,315.42 L571.82,311.72 z" fill="#c4bd35"/>
<path d="M583.41,308.56 L585.81,312.26 L583.41,315.96 L581.01,312.26 z" fill="#c4bd35"/>
<path d="M592.60,308.56 L595.00,312.26 L592.60,315.96 L590.20,312.26 z" fill="#c4bd35"/>
<path d="M601.79,308.02 L604.19,311.72 L601.79,315.42 L599.39,311.72 z" fill="#c4bd35"/>
<path d="M610.98,313.08 L613.38,316.78 L610.98,320.48 L608.58,316.78 z" fill="#c4bd35"/>
<path d="M620.17,310.42 L622.57,314.12 L620.17,317.82 L617.77,314.12 z" fill="#c4bd35"/>
<path d="M629.36,320.01 L631.76,323.71 L629.36,327.41 L626.96,323.71 z" fill="#c4bd35"/>
<path d="M638.55,315.75 L640.95,319.45 L638.55,323.15 L636.15,319.45 z" fill="#c4bd35"/>
<path d="M647.74,324.81 L650.14,328.51 L647.74,332.21 L645.34,328.51 z" fill="#c4bd35"/>
<path d="M656.93,322.68 L659.33,326.38 L656.93,330.08 L654.53,326.38 z" fill="#c4bd35"/>
<path d="M666.12,330.93 L668.52,334.63 L666.12,338.33 L663.72,334.63 z" fill="#c4bd35"/>
<path d="M675.31,326.67 L677.71,330.37 L675.31,334.07 L672.91,330.37 z" fill="#c4bd35"/>
<rect x="549.5" y="211.8" width="77.20" height="57.60" fill="#fff" stroke="#8e8e8e" stroke-width="0.6"/>
<polyline points="553.15,265.77 553.73,265.75 554.31,265.74 554.89,265.72 555.47,265.70 556.05,265.69 556.62,265.67 557.20,265.66 557.78,265.64 558.36,265.63 558.94,265.62 559.52,265.60 560.10,265.59 560.68,265.57 561.26,265.56 561.84,265.55 562.42,265.54 563.00,265.52 563.57,265.51 564.15,265.50 564.73,265.49 565.31,265.48 565.89,265.47 566.47,265.46 567.05,265.45 567.63,265.44 568.21,265.43 568.79,265.42 569.37,265.41 569.95,265.40 570.52,265.39 571.10,265.38 571.68,265.37 572.26,265.36 572.84,265.36 573.42,265.35 574.00,265.34 574.58,265.34 575.16,265.33 575.74,265.32 576.32,265.32 576.90,265.31 577.48,265.31 578.05,265.30 578.63,265.30 579.21,265.29 579.79,265.29 580.37,265.28 580.95,265.28 581.53,265.28 582.11,265.27 582.69,265.27 583.27,265.27 583.85,265.27 584.42,265.26 585.00,265.26 585.58,265.26 586.16,265.26 586.74,265.26 587.32,265.26 587.90,265.26 588.48,265.26 589.06,265.26 589.64,265.26 590.22,265.26 590.80,265.26 591.38,265.26 591.95,265.27 592.53,265.27 593.11,265.27 593.69,265.27 594.27,265.28 594.85,265.28 595.43,265.28 596.01,265.29 596.59,265.29 597.17,265.30 597.75,265.30 598.32,265.31 598.90,265.31 599.48,265.32 600.06,265.32 600.64,265.33 601.22,265.34 601.80,265.34 602.38,265.35 602.96,265.36 603.54,265.36 604.12,265.37 604.70,265.38 605.27,265.39 605.85,265.40 606.43,265.41 607.01,265.42 607.59,265.43 608.17,265.44 608.75,265.45 609.33,265.46 609.91,265.47 610.49,265.48 611.07,265.49 611.65,265.50 612.23,265.51 612.80,265.52 613.38,265.54 613.96,265.55 614.54,265.56 615.12,265.57 615.70,265.59 616.28,265.60 616.86,265.62 617.44,265.63 618.02,265.64 618.60,265.66 619.17,265.67 619.75,265.69 620.33,265.70 620.91,265.72 621.49,265.74 622.07,265.75 622.65,265.77" fill="none" stroke="#4a8a3a" stroke-width="0.5" stroke-opacity="1"/>
<polyline points="553.15,264.83 553.73,264.81 554.31,264.79 554.89,264.78 555.47,264.76 556.05,264.74 556.62,264.73 557.20,264.71 557.78,264.70 558.36,264.68 558.94,264.67 559.52,264.65 560.10,264.64 560.68,264.62 561.26,264.61 561.84,264.59 562.42,264.58 563.00,264.57 563.57,264.56 564.15,264.54 564.73,264.53 565.31,264.52 565.89,264.51 566.47,264.50 567.05,264.49 567.63,264.48 568.21,264.47 568.79,264.46 569.37,264.45 569.95,264.44 570.52,264.43 571.10,264.42 571.68,264.41 572.26,264.40 572.84,264.40 573.42,264.39 574.00,264.38 574.58,264.38 575.16,264.37 575.74,264.36 576.32,264.36 576.90,264.35 577.48,264.35 578.05,264.34 578.63,264.34 579.21,264.33 579.79,264.33 580.37,264.32 580.95,264.32 581.53,264.32 582.11,264.31 582.69,264.31 583.27,264.31 583.85,264.31 584.42,264.30 585.00,264.30 585.58,264.30 586.16,264.30 586.74,264.30 587.32,264.30 587.90,264.30 588.48,264.30 589.06,264.30 589.64,264.30 590.22,264.30 590.80,264.30 591.38,264.30 591.95,264.31 592.53,264.31 593.11,264.31 593.69,264.31 594.27,264.32 594.85,264.32 595.43,264.32 596.01,264.33 596.59,264.33 597.17,264.34 597.75,264.34 598.32,264.35 598.90,264.35 599.48,264.36 600.06,264.36 600.64,264.37 601.22,264.38 601.80,264.38 602.38,264.39 602.96,264.40 603.54,264.40 604.12,264.41 604.70,264.42 605.27,264.43 605.85,264.44 606.43,264.45 607.01,264.46 607.59,264.47 608.17,264.48 608.75,264.49 609.33,264.50 609.91,264.51 610.49,264.52 611.07,264.53 611.65,264.54 612.23,264.56 612.80,264.57 613.38,264.58 613.96,264.59 614.54,264.61 615.12,264.62 615.70,264.64 616.28,264.65 616.86,264.67 617.44,264.68 618.02,264.70 618.60,264.71 619.17,264.73 619.75,264.74 620.33,264.76 620.91,264.78 621.49,264.79 622.07,264.81 622.65,264.83" fill="none" stroke="#4a8a3a" stroke-width="0.5" stroke-opacity="1"/>
<polyline points="553.15,264.39 553.73,264.33 554.31,264.26 554.89,264.20 555.47,264.14 556.05,264.08 556.62,264.02 557.20,263.96 557.78,263.90 558.36,263.85 558.94,263.79 559.52,263.74 560.10,263.68 560.68,263.63 561.26,263.58 561.84,263.52 562.42,263.47 563.00,263.42 563.57,263.37 564.15,263.33 564.73,263.28 565.31,263.23 565.89,263.19 566.47,263.14 567.05,263.10 567.63,263.06 568.21,263.02 568.79,262.97 569.37,262.94 569.95,262.90 570.52,262.86 571.10,262.82 571.68,262.79 572.26,262.75 572.84,262.72 573.42,262.69 574.00,262.66 574.58,262.63 575.16,262.60 575.74,262.57 576.32,262.54 576.90,262.52 577.48,262.49 578.05,262.47 578.63,262.45 579.21,262.43 579.79,262.41 580.37,262.39 580.95,262.38 581.53,262.36 582.11,262.35 582.69,262.33 583.27,262.32 583.85,262.31 584.42,262.30 585.00,262.30 585.58,262.29 586.16,262.29 586.74,262.28 587.32,262.28 587.90,262.28 588.48,262.28 589.06,262.28 589.64,262.29 590.22,262.29 590.80,262.30 591.38,262.30 591.95,262.31 592.53,262.32 593.11,262.33 593.69,262.35 594.27,262.36 594.85,262.38 595.43,262.39 596.01,262.41 596.59,262.43 597.17,262.45 597.75,262.47 598.32,262.49 598.90,262.52 599.48,262.54 600.06,262.57 600.64,262.60 601.22,262.63 601.80,262.66 602.38,262.69 602.96,262.72 603.54,262.75 604.12,262.79 604.70,262.82 605.27,262.86 605.85,262.90 606.43,262.94 607.01,262.97 607.59,263.02 608.17,263.06 608.75,263.10 609.33,263.14 609.91,263.19 610.49,263.23 611.07,263.28 611.65,263.33 612.23,263.37 612.80,263.42 613.38,263.47 613.96,263.52 614.54,263.58 615.12,263.63 615.70,263.68 616.28,263.74 616.86,263.79 617.44,263.85 618.02,263.90 618.60,263.96 619.17,264.02 619.75,264.08 620.33,264.14 620.91,264.20 621.49,264.26 622.07,264.33 622.65,264.39" fill="none" stroke="#4a8a3a" stroke-width="0.5" stroke-opacity="1"/>
<polyline points="553.15,263.42 553.73,263.35 554.31,263.28 554.89,263.21 555.47,263.14 556.05,263.07 556.62,263.01 557.20,262.94 557.78,262.88 558.36,262.82 558.94,262.76 559.52,262.70 560.10,262.64 560.68,262.58 561.26,262.53 561.84,262.47 562.42,262.42 563.00,262.37 563.57,262.32 564.15,262.27 564.73,262.22 565.31,262.18 565.89,262.13 566.47,262.09 567.05,262.04 567.63,262.00 568.21,261.96 568.79,261.92 569.37,261.89 569.95,261.85 570.52,261.82 571.10,261.78 571.68,261.75 572.26,261.72 572.84,261.69 573.42,261.66 574.00,261.63 574.58,261.61 575.16,261.58 575.74,261.56 576.32,261.54 576.90,261.51 577.48,261.49 578.05,261.47 578.63,261.46 579.21,261.44 579.79,261.42 580.37,261.41 580.95,261.40 581.53,261.38 582.11,261.37 582.69,261.36 583.27,261.35 583.85,261.35 584.42,261.34 585.00,261.33 585.58,261.33 586.16,261.32 586.74,261.32 587.32,261.32 587.90,261.32 588.48,261.32 589.06,261.32 589.64,261.32 590.22,261.33 590.80,261.33 591.38,261.34 591.95,261.35 592.53,261.35 593.11,261.36 593.69,261.37 594.27,261.38 594.85,261.40 595.43,261.41 596.01,261.42 596.59,261.44 597.17,261.46 597.75,261.47 598.32,261.49 598.90,261.51 599.48,261.54 600.06,261.56 600.64,261.58 601.22,261.61 601.80,261.63 602.38,261.66 602.96,261.69 603.54,261.72 604.12,261.75 604.70,261.78 605.27,261.82 605.85,261.85 606.43,261.89 607.01,261.92 607.59,261.96 608.17,262.00 608.75,262.04 609.33,262.09 609.91,262.13 610.49,262.18 611.07,262.22 611.65,262.27 612.23,262.32 612.80,262.37 613.38,262.42 613.96,262.47 614.54,262.53 615.12,262.58 615.70,262.64 616.28,262.70 616.86,262.76 617.44,262.82 618.02,262.88 618.60,262.94 619.17,263.01 619.75,263.07 620.33,263.14 620.91,263.21 621.49,263.28 622.07,263.35 622.65,263.42" fill="none" stroke="#4a8a3a" stroke-width="0.5" stroke-opacity="1"/>
<polyline points="553.15,262.51 553.73,262.38 554.31,262.25 554.89,262.12 555.47,261.99 556.05,261.86 556.62,261.74 557.20,261.61 557.78,261.49 558.36,261.37 558.94,261.24 559.52,261.12 560.10,261.00 560.68,260.89 561.26,260.77 561.84,260.65 562.42,260.54 563.00,260.43 563.57,260.32 564.15,260.21 564.73,260.10 565.31,259.99 565.89,259.89 566.47,259.78 567.05,259.68 567.63,259.58 568.21,259.48 568.79,259.39 569.37,259.29 569.95,259.20 570.52,259.11 571.10,259.02 571.68,258.93 572.26,258.85 572.84,258.77 573.42,258.68 574.00,258.61 574.58,258.53 575.16,258.46 575.74,258.38 576.32,258.32 576.90,258.25 577.48,258.18 578.05,258.12 578.63,258.07 579.21,258.01 579.79,257.96 580.37,257.91 580.95,257.86 581.53,257.82 582.11,257.78 582.69,257.74 583.27,257.71 583.85,257.68 584.42,257.65 585.00,257.63 585.58,257.61 586.16,257.60 586.74,257.59 587.32,257.58 587.90,257.58 588.48,257.58 589.06,257.59 589.64,257.60 590.22,257.61 590.80,257.63 591.38,257.65 591.95,257.68 592.53,257.71 593.11,257.74 593.69,257.78 594.27,257.82 594.85,257.86 595.43,257.91 596.01,257.96 596.59,258.01 597.17,258.07 597.75,258.12 598.32,258.18 598.90,258.25 599.48,258.32 600.06,258.38 600.64,258.46 601.22,258.53 601.80,258.61 602.38,258.68 602.96,258.77 603.54,258.85 604.12,258.93 604.70,259.02 605.27,259.11 605.85,259.20 606.43,259.29 607.01,259.39 607.59,259.48 608.17,259.58 608.75,259.68 609.33,259.78 609.91,259.89 610.49,259.99 611.07,260.10 611.65,260.21 612.23,260.32 612.80,260.43 613.38,260.54 613.96,260.65 614.54,260.77 615.12,260.89 615.70,261.00 616.28,261.12 616.86,261.24 617.44,261.37 618.02,261.49 618.60,261.61 619.17,261.74 619.75,261.86 620.33,261.99 620.91,262.12 621.49,262.25 622.07,262.38 622.65,262.51" fill="none" stroke="#4a8a3a" stroke-width="0.5" stroke-opacity="1"/>
<polyline points="553.15,261.38 553.73,261.23 554.31,261.07 554.89,260.92 555.47,260.77 556.05,260.62 556.62,260.47 557.20,260.32 557.78,260.18 558.36,260.04 558.94,259.90 559.52,259.77 560.10,259.63 560.68,259.50 561.26,259.38 561.84,259.25 562.42,259.13 563.00,259.01 563.57,258.89 564.15,258.78 564.73,258.66 565.31,258.55 565.89,258.45 566.47,258.35 567.05,258.25 567.63,258.15 568.21,258.05 568.79,257.96 569.37,257.88 569.95,257.79 570.52,257.71 571.10,257.63 571.68,257.56 572.26,257.48 572.84,257.42 573.42,257.35 574.00,257.29 574.58,257.23 575.16,257.17 575.74,257.12 576.32,257.07 576.90,257.02 577.48,256.98 578.05,256.93 578.63,256.90 579.21,256.86 579.79,256.83 580.37,256.80 580.95,256.77 581.53,256.75 582.11,256.72 582.69,256.70 583.27,256.69 583.85,256.67 584.42,256.66 585.00,256.65 585.58,256.64 586.16,256.63 586.74,256.63 587.32,256.62 587.90,256.62 588.48,256.62 589.06,256.63 589.64,256.63 590.22,256.64 590.80,256.65 591.38,256.66 591.95,256.67 592.53,256.69 593.11,256.70 593.69,256.72 594.27,256.75 594.85,256.77 595.43,256.80 596.01,256.83 596.59,256.86 597.17,256.90 597.75,256.93 598.32,256.98 598.90,257.02 599.48,257.07 600.06,257.12 600.64,257.17 601.22,257.23 601.80,257.29 602.38,257.35 602.96,257.42 603.54,257.48 604.12,257.56 604.70,257.63 605.27,257.71 605.85,257.79 606.43,257.88 607.01,257.96 607.59,258.05 608.17,258.15 608.75,258.25 609.33,258.35 609.91,258.45 610.49,258.55 611.07,258.66 611.65,258.78 612.23,258.89 612.80,259.01 613.38,259.13 613.96,259.25 614.54,259.38 615.12,259.50 615.70,259.63 616.28,259.77 616.86,259.90 617.44,260.04 618.02,260.18 618.60,260.32 619.17,260.47 619.75,260.62 620.33,260.77 620.91,260.92 621.49,261.07 622.07,261.23 622.65,261.38" fill="none" stroke="#4a8a3a" stroke-width="0.5" stroke-opacity="1"/>
<polyline points="553.15,260.60 553.73,260.39 554.31,260.18 554.89,259.97 555.47,259.76 556.05,259.56 556.62,259.35 557.20,259.15 557.78,258.95 558.36,258.74 558.94,258.54 559.52,258.34 560.10,258.14 560.68,257.95 561.26,257.75 561.84,257.56 562.42,257.36 563.00,257.17 563.57,256.98 564.15,256.79 564.73,256.60 565.31,256.42 565.89,256.23 566.47,256.05 567.05,255.87 567.63,255.69 568.21,255.51 568.79,255.34 569.37,255.16 569.95,254.99 570.52,254.82 571.10,254.66 571.68,254.49 572.26,254.33 572.84,254.17 573.42,254.01 574.00,253.86 574.58,253.71 575.16,253.56 575.74,253.41 576.32,253.27 576.90,253.13 577.48,253.00 578.05,252.87 578.63,252.74 579.21,252.62 579.79,252.50 580.37,252.38 580.95,252.28 581.53,252.17 582.11,252.08 582.69,251.98 583.27,251.90 583.85,251.82 584.42,251.75 585.00,251.69 585.58,251.64 586.16,251.60 586.74,251.57 587.32,251.55 587.90,251.55 588.48,251.55 589.06,251.57 589.64,251.60 590.22,251.64 590.80,251.69 591.38,251.75 591.95,251.82 592.53,251.90 593.11,251.98 593.69,252.08 594.27,252.17 594.85,252.28 595.43,252.38 596.01,252.50 596.59,252.62 597.17,252.74 597.75,252.87 598.32,253.00 598.90,253.13 599.48,253.27 600.06,253.41 600.64,253.56 601.22,253.71 601.80,253.86 602.38,254.01 602.96,254.17 603.54,254.33 604.12,254.49 604.70,254.66 605.27,254.82 605.85,254.99 606.43,255.16 607.01,255.34 607.59,255.51 608.17,255.69 608.75,255.87 609.33,256.05 609.91,256.23 610.49,256.42 611.07,256.60 611.65,256.79 612.23,256.98 612.80,257.17 613.38,257.36 613.96,257.56 614.54,257.75 615.12,257.95 615.70,258.14 616.28,258.34 616.86,258.54 617.44,258.74 618.02,258.95 618.60,259.15 619.17,259.35 619.75,259.56 620.33,259.76 620.91,259.97 621.49,260.18 622.07,260.39 622.65,260.60" fill="none" stroke="#4a8a3a" stroke-width="0.5" stroke-opacity="1"/>
<polyline points="553.15,259.43 553.73,259.18 554.31,258.93 554.89,258.68 555.47,258.43 556.05,258.18 556.62,257.94 557.20,257.69 557.78,257.45 558.36,257.21 558.94,256.97 559.52,256.73 560.10,256.50 560.68,256.26 561.26,256.03 561.84,255.80 562.42,255.58 563.00,255.35 563.57,255.13 564.15,254.92 564.73,254.70 565.31,254.49 565.89,254.28 566.47,254.08 567.05,253.88 567.63,253.68 568.21,253.49 568.79,253.30 569.37,253.12 569.95,252.94 570.52,252.77 571.10,252.60 571.68,252.44 572.26,252.29 572.84,252.14 573.42,252.00 574.00,251.86 574.58,251.73 575.16,251.61 575.74,251.49 576.32,251.38 576.90,251.28 577.48,251.19 578.05,251.10 578.63,251.02 579.21,250.95 579.79,250.89 580.37,250.83 580.95,250.78 581.53,250.74 582.11,250.70 582.69,250.67 583.27,250.65 583.85,250.63 584.42,250.61 585.00,250.60 585.58,250.60 586.16,250.59 586.74,250.59 587.32,250.59 587.90,250.59 588.48,250.59 589.06,250.59 589.64,250.59 590.22,250.60 590.80,250.60 591.38,250.61 591.95,250.63 592.53,250.65 593.11,250.67 593.69,250.70 594.27,250.74 594.85,250.78 595.43,250.83 596.01,250.89 596.59,250.95 597.17,251.02 597.75,251.10 598.32,251.19 598.90,251.28 599.48,251.38 600.06,251.49 600.64,251.61 601.22,251.73 601.80,251.86 602.38,252.00 602.96,252.14 603.54,252.29 604.12,252.44 604.70,252.60 605.27,252.77 605.85,252.94 606.43,253.12 607.01,253.30 607.59,253.49 608.17,253.68 608.75,253.88 609.33,254.08 609.91,254.28 610.49,254.49 611.07,254.70 611.65,254.92 612.23,255.13 612.80,255.35 613.38,255.58 613.96,255.80 614.54,256.03 615.12,256.26 615.70,256.50 616.28,256.73 616.86,256.97 617.44,257.21 618.02,257.45 618.60,257.69 619.17,257.94 619.75,258.18 620.33,258.43 620.91,258.68 621.49,258.93 622.07,259.18 622.65,259.43" fill="none" stroke="#4a8a3a" stroke-width="0.5" stroke-opacity="1"/>
<polyline points="553.15,259.14 553.73,258.87 554.31,258.59 554.89,258.32 555.47,258.05 556.05,257.77 556.62,257.50 557.20,257.23 557.78,256.96 558.36,256.69 558.94,256.41 559.52,256.14 560.10,255.87 560.68,255.60 561.26,255.34 561.84,255.07 562.42,254.80 563.00,254.53 563.57,254.27 564.15,254.00 564.73,253.73 565.31,253.47 565.89,253.21 566.47,252.94 567.05,252.68 567.63,252.42 568.21,252.16 568.79,251.90 569.37,251.64 569.95,251.38 570.52,251.12 571.10,250.87 571.68,250.61 572.26,250.36 572.84,250.11 573.42,249.85 574.00,249.60 574.58,249.36 575.16,249.11 575.74,248.86 576.32,248.62 576.90,248.38 577.48,248.14 578.05,247.90 578.63,247.67 579.21,247.43 579.79,247.20 580.37,246.98 580.95,246.75 581.53,246.53 582.11,246.31 582.69,246.09 583.27,245.88 583.85,245.68 584.42,245.48 585.00,245.29 585.58,245.11 586.16,244.94 586.74,244.80 587.32,244.70 587.90,244.67 588.48,244.70 589.06,244.80 589.64,244.94 590.22,245.11 590.80,245.29 591.38,245.48 591.95,245.68 592.53,245.88 593.11,246.09 593.69,246.31 594.27,246.53 594.85,246.75 595.43,246.98 596.01,247.20 596.59,247.43 597.17,247.67 597.75,247.90 598.32,248.14 598.90,248.38 599.48,248.62 600.06,248.86 600.64,249.11 601.22,249.36 601.80,249.60 602.38,249.85 602.96,250.11 603.54,250.36 604.12,250.61 604.70,250.87 605.27,251.12 605.85,251.38 606.43,251.64 607.01,251.90 607.59,252.16 608.17,252.42 608.75,252.68 609.33,252.94 609.91,253.21 610.49,253.47 611.07,253.73 611.65,254.00 612.23,254.27 612.80,254.53 613.38,254.80 613.96,255.07 614.54,255.34 615.12,255.60 615.70,255.87 616.28,256.14 616.86,256.41 617.44,256.69 618.02,256.96 618.60,257.23 619.17,257.50 619.75,257.77 620.33,258.05 620.91,258.32 621.49,258.59 622.07,258.87 622.65,259.14" fill="none" stroke="#4a8a3a" stroke-width="0.5" stroke-opacity="1"/>
<polyline points="553.15,240.60 553.73,240.60 554.31,240.60 554.89,240.61 555.47,240.61 556.05,240.61 556.62,240.61 557.20,240.61 557.78,240.61 558.36,240.62 558.94,240.62 559.52,240.62 560.10,240.63 560.68,240.63 561.26,240.64 561.84,240.64 562.42,240.65 563.00,240.66 563.57,240.67 564.15,240.68 564.73,240.69 565.31,240.70 565.89,240.72 566.47,240.73 567.05,240.75 567.63,240.77 568.21,240.79 568.79,240.82 569.37,240.85 569.95,240.88 570.52,240.91 571.10,240.95 571.68,240.99 572.26,241.03 572.84,241.08 573.42,241.13 574.00,241.18 574.58,241.24 575.16,241.31 575.74,241.38 576.32,241.45 576.90,241.53 577.48,241.62 578.05,241.71 578.63,241.81 579.21,241.91 579.79,242.01 580.37,242.13 580.95,242.24 581.53,242.37 582.11,242.50 582.69,242.63 583.27,242.77 583.85,242.91 584.42,243.05 585.00,243.19 585.58,243.33 586.16,243.47 586.74,243.59 587.32,243.67 587.90,243.71 588.48,243.67 589.06,243.59 589.64,243.47 590.22,243.33 590.80,243.19 591.38,243.05 591.95,242.91 592.53,242.77 593.11,242.63 593.69,242.50 594.27,242.37 594.85,242.24 595.43,242.13 596.01,242.01 596.59,241.91 597.17,241.81 597.75,241.71 598.32,241.62 598.90,241.53 599.48,241.45 600.06,241.38 600.64,241.31 601.22,241.24 601.80,241.18 602.38,241.13 602.96,241.08 603.54,241.03 604.12,240.99 604.70,240.95 605.27,240.91 605.85,240.88 606.43,240.85 607.01,240.82 607.59,240.79 608.17,240.77 608.75,240.75 609.33,240.73 609.91,240.72 610.49,240.70 611.07,240.69 611.65,240.68 612.23,240.67 612.80,240.66 613.38,240.65 613.96,240.64 614.54,240.64 615.12,240.63 615.70,240.63 616.28,240.62 616.86,240.62 617.44,240.62 618.02,240.61 618.60,240.61 619.17,240.61 619.75,240.61 620.33,240.61 620.91,240.61 621.49,240.60 622.07,240.60 622.65,240.60" fill="none" stroke="#d83a3a" stroke-width="0.48" stroke-opacity="1"/>
<polyline points="553.15,240.60 553.73,240.60 554.31,240.60 554.89,240.59 555.47,240.59 556.05,240.59 556.62,240.59 557.20,240.59 557.78,240.59 558.36,240.58 558.94,240.58 559.52,240.58 560.10,240.57 560.68,240.57 561.26,240.56 561.84,240.56 562.42,240.55 563.00,240.54 563.57,240.53 564.15,240.52 564.73,240.51 565.31,240.50 565.89,240.48 566.47,240.47 567.05,240.45 567.63,240.43 568.21,240.41 568.79,240.38 569.37,240.35 569.95,240.32 570.52,240.29 571.10,240.25 571.68,240.21 572.26,240.17 572.84,240.12 573.42,240.07 574.00,240.02 574.58,239.96 575.16,239.89 575.74,239.82 576.32,239.75 576.90,239.67 577.48,239.58 578.05,239.49 578.63,239.39 579.21,239.29 579.79,239.19 580.37,239.07 580.95,238.96 581.53,238.83 582.11,238.70 582.69,238.57 583.27,238.43 583.85,238.29 584.42,238.15 585.00,238.01 585.58,237.87 586.16,237.73 586.74,237.61 587.32,237.53 587.90,237.49 588.48,237.53 589.06,237.61 589.64,237.73 590.22,237.87 590.80,238.01 591.38,238.15 591.95,238.29 592.53,238.43 593.11,238.57 593.69,238.70 594.27,238.83 594.85,238.96 595.43,239.07 596.01,239.19 596.59,239.29 597.17,239.39 597.75,239.49 598.32,239.58 598.90,239.67 599.48,239.75 600.06,239.82 600.64,239.89 601.22,239.96 601.80,240.02 602.38,240.07 602.96,240.12 603.54,240.17 604.12,240.21 604.70,240.25 605.27,240.29 605.85,240.32 606.43,240.35 607.01,240.38 607.59,240.41 608.17,240.43 608.75,240.45 609.33,240.47 609.91,240.48 610.49,240.50 611.07,240.51 611.65,240.52 612.23,240.53 612.80,240.54 613.38,240.55 613.96,240.56 614.54,240.56 615.12,240.57 615.70,240.57 616.28,240.58 616.86,240.58 617.44,240.58 618.02,240.59 618.60,240.59 619.17,240.59 619.75,240.59 620.33,240.59 620.91,240.59 621.49,240.60 622.07,240.60 622.65,240.60" fill="none" stroke="#d83a3a" stroke-width="0.48" stroke-opacity="1"/>
<polyline points="553.15,222.06 553.73,222.33 554.31,222.61 554.89,222.88 555.47,223.15 556.05,223.43 556.62,223.70 557.20,223.97 557.78,224.24 558.36,224.51 558.94,224.79 559.52,225.06 560.10,225.33 560.68,225.60 561.26,225.86 561.84,226.13 562.42,226.40 563.00,226.67 563.57,226.93 564.15,227.20 564.73,227.47 565.31,227.73 565.89,227.99 566.47,228.26 567.05,228.52 567.63,228.78 568.21,229.04 568.79,229.30 569.37,229.56 569.95,229.82 570.52,230.08 571.10,230.33 571.68,230.59 572.26,230.84 572.84,231.09 573.42,231.35 574.00,231.60 574.58,231.84 575.16,232.09 575.74,232.34 576.32,232.58 576.90,232.82 577.48,233.06 578.05,233.30 578.63,233.53 579.21,233.77 579.79,234.00 580.37,234.22 580.95,234.45 581.53,234.67 582.11,234.89 582.69,235.11 583.27,235.32 583.85,235.52 584.42,235.72 585.00,235.91 585.58,236.09 586.16,236.26 586.74,236.40 587.32,236.50 587.90,236.53 588.48,236.50 589.06,236.40 589.64,236.26 590.22,236.09 590.80,235.91 591.38,235.72 591.95,235.52 592.53,235.32 593.11,235.11 593.69,234.89 594.27,234.67 594.85,234.45 595.43,234.22 596.01,234.00 596.59,233.77 597.17,233.53 597.75,233.30 598.32,233.06 598.90,232.82 599.48,232.58 600.06,232.34 600.64,232.09 601.22,231.84 601.80,231.60 602.38,231.35 602.96,231.09 603.54,230.84 604.12,230.59 604.70,230.33 605.27,230.08 605.85,229.82 606.43,229.56 607.01,229.30 607.59,229.04 608.17,228.78 608.75,228.52 609.33,228.26 609.91,227.99 610.49,227.73 611.07,227.47 611.65,227.20 612.23,226.93 612.80,226.67 613.38,226.40 613.96,226.13 614.54,225.86 615.12,225.60 615.70,225.33 616.28,225.06 616.86,224.79 617.44,224.51 618.02,224.24 618.60,223.97 619.17,223.70 619.75,223.43 620.33,223.15 620.91,222.88 621.49,222.61 622.07,222.33 622.65,222.06" fill="none" stroke="#4a8a3a" stroke-width="0.5" stroke-opacity="1"/>
<polyline points="553.15,221.77 553.73,222.02 554.31,222.27 554.89,222.52 555.47,222.77 556.05,223.02 556.62,223.26 557.20,223.51 557.78,223.75 558.36,223.99 558.94,224.23 559.52,224.47 560.10,224.70 560.68,224.94 561.26,225.17 561.84,225.40 562.42,225.62 563.00,225.85 563.57,226.07 564.15,226.28 564.73,226.50 565.31,226.71 565.89,226.92 566.47,227.12 567.05,227.32 567.63,227.52 568.21,227.71 568.79,227.90 569.37,228.08 569.95,228.26 570.52,228.43 571.10,228.60 571.68,228.76 572.26,228.91 572.84,229.06 573.42,229.20 574.00,229.34 574.58,229.47 575.16,229.59 575.74,229.71 576.32,229.82 576.90,229.92 577.48,230.01 578.05,230.10 578.63,230.18 579.21,230.25 579.79,230.31 580.37,230.37 580.95,230.42 581.53,230.46 582.11,230.50 582.69,230.53 583.27,230.55 583.85,230.57 584.42,230.59 585.00,230.60 585.58,230.60 586.16,230.61 586.74,230.61 587.32,230.61 587.90,230.61 588.48,230.61 589.06,230.61 589.64,230.61 590.22,230.60 590.80,230.60 591.38,230.59 591.95,230.57 592.53,230.55 593.11,230.53 593.69,230.50 594.27,230.46 594.85,230.42 595.43,230.37 596.01,230.31 596.59,230.25 597.17,230.18 597.75,230.10 598.32,230.01 598.90,229.92 599.48,229.82 600.06,229.71 600.64,229.59 601.22,229.47 601.80,229.34 602.38,229.20 602.96,229.06 603.54,228.91 604.12,228.76 604.70,228.60 605.27,228.43 605.85,228.26 606.43,228.08 607.01,227.90 607.59,227.71 608.17,227.52 608.75,227.32 609.33,227.12 609.91,226.92 610.49,226.71 611.07,226.50 611.65,226.28 612.23,226.07 612.80,225.85 613.38,225.62 613.96,225.40 614.54,225.17 615.12,224.94 615.70,224.70 616.28,224.47 616.86,224.23 617.44,223.99 618.02,223.75 618.60,223.51 619.17,223.26 619.75,223.02 620.33,222.77 620.91,222.52 621.49,222.27 622.07,222.02 622.65,221.77" fill="none" stroke="#4a8a3a" stroke-width="0.5" stroke-opacity="1"/>
<polyline points="553.15,220.60 553.73,220.81 554.31,221.02 554.89,221.23 555.47,221.44 556.05,221.64 556.62,221.85 557.20,222.05 557.78,222.25 558.36,222.46 558.94,222.66 559.52,222.86 560.10,223.06 560.68,223.25 561.26,223.45 561.84,223.64 562.42,223.84 563.00,224.03 563.57,224.22 564.15,224.41 564.73,224.60 565.31,224.78 565.89,224.97 566.47,225.15 567.05,225.33 567.63,225.51 568.21,225.69 568.79,225.86 569.37,226.04 569.95,226.21 570.52,226.38 571.10,226.54 571.68,226.71 572.26,226.87 572.84,227.03 573.42,227.19 574.00,227.34 574.58,227.49 575.16,227.64 575.74,227.79 576.32,227.93 576.90,228.07 577.48,228.20 578.05,228.33 578.63,228.46 579.21,228.58 579.79,228.70 580.37,228.82 580.95,228.92 581.53,229.03 582.11,229.12 582.69,229.22 583.27,229.30 583.85,229.38 584.42,229.45 585.00,229.51 585.58,229.56 586.16,229.60 586.74,229.63 587.32,229.65 587.90,229.65 588.48,229.65 589.06,229.63 589.64,229.60 590.22,229.56 590.80,229.51 591.38,229.45 591.95,229.38 592.53,229.30 593.11,229.22 593.69,229.12 594.27,229.03 594.85,228.92 595.43,228.82 596.01,228.70 596.59,228.58 597.17,228.46 597.75,228.33 598.32,228.20 598.90,228.07 599.48,227.93 600.06,227.79 600.64,227.64 601.22,227.49 601.80,227.34 602.38,227.19 602.96,227.03 603.54,226.87 604.12,226.71 604.70,226.54 605.27,226.38 605.85,226.21 606.43,226.04 607.01,225.86 607.59,225.69 608.17,225.51 608.75,225.33 609.33,225.15 609.91,224.97 610.49,224.78 611.07,224.60 611.65,224.41 612.23,224.22 612.80,224.03 613.38,223.84 613.96,223.64 614.54,223.45 615.12,223.25 615.70,223.06 616.28,222.86 616.86,222.66 617.44,222.46 618.02,222.25 618.60,222.05 619.17,221.85 619.75,221.64 620.33,221.44 620.91,221.23 621.49,221.02 622.07,220.81 622.65,220.60" fill="none" stroke="#4a8a3a" stroke-width="0.5" stroke-opacity="1"/>
<polyline points="553.15,219.82 553.73,219.97 554.31,220.13 554.89,220.28 555.47,220.43 556.05,220.58 556.62,220.73 557.20,220.88 557.78,221.02 558.36,221.16 558.94,221.30 559.52,221.43 560.10,221.57 560.68,221.70 561.26,221.82 561.84,221.95 562.42,222.07 563.00,222.19 563.57,222.31 564.15,222.42 564.73,222.54 565.31,222.65 565.89,222.75 566.47,222.85 567.05,222.95 567.63,223.05 568.21,223.15 568.79,223.24 569.37,223.32 569.95,223.41 570.52,223.49 571.10,223.57 571.68,223.64 572.26,223.72 572.84,223.78 573.42,223.85 574.00,223.91 574.58,223.97 575.16,224.03 575.74,224.08 576.32,224.13 576.90,224.18 577.48,224.22 578.05,224.27 578.63,224.30 579.21,224.34 579.79,224.37 580.37,224.40 580.95,224.43 581.53,224.45 582.11,224.48 582.69,224.50 583.27,224.51 583.85,224.53 584.42,224.54 585.00,224.55 585.58,224.56 586.16,224.57 586.74,224.57 587.32,224.58 587.90,224.58 588.48,224.58 589.06,224.57 589.64,224.57 590.22,224.56 590.80,224.55 591.38,224.54 591.95,224.53 592.53,224.51 593.11,224.50 593.69,224.48 594.27,224.45 594.85,224.43 595.43,224.40 596.01,224.37 596.59,224.34 597.17,224.30 597.75,224.27 598.32,224.22 598.90,224.18 599.48,224.13 600.06,224.08 600.64,224.03 601.22,223.97 601.80,223.91 602.38,223.85 602.96,223.78 603.54,223.72 604.12,223.64 604.70,223.57 605.27,223.49 605.85,223.41 606.43,223.32 607.01,223.24 607.59,223.15 608.17,223.05 608.75,222.95 609.33,222.85 609.91,222.75 610.49,222.65 611.07,222.54 611.65,222.42 612.23,222.31 612.80,222.19 613.38,222.07 613.96,221.95 614.54,221.82 615.12,221.70 615.70,221.57 616.28,221.43 616.86,221.30 617.44,221.16 618.02,221.02 618.60,220.88 619.17,220.73 619.75,220.58 620.33,220.43 620.91,220.28 621.49,220.13 622.07,219.97 622.65,219.82" fill="none" stroke="#4a8a3a" stroke-width="0.5" stroke-opacity="1"/>
<polyline points="553.15,218.69 553.73,218.82 554.31,218.95 554.89,219.08 555.47,219.21 556.05,219.34 556.62,219.46 557.20,219.59 557.78,219.71 558.36,219.83 558.94,219.96 559.52,220.08 560.10,220.20 560.68,220.31 561.26,220.43 561.84,220.55 562.42,220.66 563.00,220.77 563.57,220.88 564.15,220.99 564.73,221.10 565.31,221.21 565.89,221.31 566.47,221.42 567.05,221.52 567.63,221.62 568.21,221.72 568.79,221.81 569.37,221.91 569.95,222.00 570.52,222.09 571.10,222.18 571.68,222.27 572.26,222.35 572.84,222.43 573.42,222.52 574.00,222.59 574.58,222.67 575.16,222.74 575.74,222.82 576.32,222.88 576.90,222.95 577.48,223.02 578.05,223.08 578.63,223.13 579.21,223.19 579.79,223.24 580.37,223.29 580.95,223.34 581.53,223.38 582.11,223.42 582.69,223.46 583.27,223.49 583.85,223.52 584.42,223.55 585.00,223.57 585.58,223.59 586.16,223.60 586.74,223.61 587.32,223.62 587.90,223.62 588.48,223.62 589.06,223.61 589.64,223.60 590.22,223.59 590.80,223.57 591.38,223.55 591.95,223.52 592.53,223.49 593.11,223.46 593.69,223.42 594.27,223.38 594.85,223.34 595.43,223.29 596.01,223.24 596.59,223.19 597.17,223.13 597.75,223.08 598.32,223.02 598.90,222.95 599.48,222.88 600.06,222.82 600.64,222.74 601.22,222.67 601.80,222.59 602.38,222.52 602.96,222.43 603.54,222.35 604.12,222.27 604.70,222.18 605.27,222.09 605.85,222.00 606.43,221.91 607.01,221.81 607.59,221.72 608.17,221.62 608.75,221.52 609.33,221.42 609.91,221.31 610.49,221.21 611.07,221.10 611.65,220.99 612.23,220.88 612.80,220.77 613.38,220.66 613.96,220.55 614.54,220.43 615.12,220.31 615.70,220.20 616.28,220.08 616.86,219.96 617.44,219.83 618.02,219.71 618.60,219.59 619.17,219.46 619.75,219.34 620.33,219.21 620.91,219.08 621.49,218.95 622.07,218.82 622.65,218.69" fill="none" stroke="#4a8a3a" stroke-width="0.5" stroke-opacity="1"/>
<polyline points="553.15,217.78 553.73,217.85 554.31,217.92 554.89,217.99 555.47,218.06 556.05,218.13 556.62,218.19 557.20,218.26 557.78,218.32 558.36,218.38 558.94,218.44 559.52,218.50 560.10,218.56 560.68,218.62 561.26,218.67 561.84,218.73 562.42,218.78 563.00,218.83 563.57,218.88 564.15,218.93 564.73,218.98 565.31,219.02 565.89,219.07 566.47,219.11 567.05,219.16 567.63,219.20 568.21,219.24 568.79,219.28 569.37,219.31 569.95,219.35 570.52,219.38 571.10,219.42 571.68,219.45 572.26,219.48 572.84,219.51 573.42,219.54 574.00,219.57 574.58,219.59 575.16,219.62 575.74,219.64 576.32,219.66 576.90,219.69 577.48,219.71 578.05,219.73 578.63,219.74 579.21,219.76 579.79,219.78 580.37,219.79 580.95,219.80 581.53,219.82 582.11,219.83 582.69,219.84 583.27,219.85 583.85,219.85 584.42,219.86 585.00,219.87 585.58,219.87 586.16,219.88 586.74,219.88 587.32,219.88 587.90,219.88 588.48,219.88 589.06,219.88 589.64,219.88 590.22,219.87 590.80,219.87 591.38,219.86 591.95,219.85 592.53,219.85 593.11,219.84 593.69,219.83 594.27,219.82 594.85,219.80 595.43,219.79 596.01,219.78 596.59,219.76 597.17,219.74 597.75,219.73 598.32,219.71 598.90,219.69 599.48,219.66 600.06,219.64 600.64,219.62 601.22,219.59 601.80,219.57 602.38,219.54 602.96,219.51 603.54,219.48 604.12,219.45 604.70,219.42 605.27,219.38 605.85,219.35 606.43,219.31 607.01,219.28 607.59,219.24 608.17,219.20 608.75,219.16 609.33,219.11 609.91,219.07 610.49,219.02 611.07,218.98 611.65,218.93 612.23,218.88 612.80,218.83 613.38,218.78 613.96,218.73 614.54,218.67 615.12,218.62 615.70,218.56 616.28,218.50 616.86,218.44 617.44,218.38 618.02,218.32 618.60,218.26 619.17,218.19 619.75,218.13 620.33,218.06 620.91,217.99 621.49,217.92 622.07,217.85 622.65,217.78" fill="none" stroke="#4a8a3a" stroke-width="0.5" stroke-opacity="1"/>
<polyline points="553.15,216.81 553.73,216.87 554.31,216.94 554.89,217.00 555.47,217.06 556.05,217.12 556.62,217.18 557.20,217.24 557.78,217.30 558.36,217.35 558.94,217.41 559.52,217.46 560.10,217.52 560.68,217.57 561.26,217.62 561.84,217.68 562.42,217.73 563.00,217.78 563.57,217.83 564.15,217.87 564.73,217.92 565.31,217.97 565.89,218.01 566.47,218.06 567.05,218.10 567.63,218.14 568.21,218.18 568.79,218.23 569.37,218.26 569.95,218.30 570.52,218.34 571.10,218.38 571.68,218.41 572.26,218.45 572.84,218.48 573.42,218.51 574.00,218.54 574.58,218.57 575.16,218.60 575.74,218.63 576.32,218.66 576.90,218.68 577.48,218.71 578.05,218.73 578.63,218.75 579.21,218.77 579.79,218.79 580.37,218.81 580.95,218.82 581.53,218.84 582.11,218.85 582.69,218.87 583.27,218.88 583.85,218.89 584.42,218.90 585.00,218.90 585.58,218.91 586.16,218.91 586.74,218.92 587.32,218.92 587.90,218.92 588.48,218.92 589.06,218.92 589.64,218.91 590.22,218.91 590.80,218.90 591.38,218.90 591.95,218.89 592.53,218.88 593.11,218.87 593.69,218.85 594.27,218.84 594.85,218.82 595.43,218.81 596.01,218.79 596.59,218.77 597.17,218.75 597.75,218.73 598.32,218.71 598.90,218.68 599.48,218.66 600.06,218.63 600.64,218.60 601.22,218.57 601.80,218.54 602.38,218.51 602.96,218.48 603.54,218.45 604.12,218.41 604.70,218.38 605.27,218.34 605.85,218.30 606.43,218.26 607.01,218.23 607.59,218.18 608.17,218.14 608.75,218.10 609.33,218.06 609.91,218.01 610.49,217.97 611.07,217.92 611.65,217.87 612.23,217.83 612.80,217.78 613.38,217.73 613.96,217.68 614.54,217.62 615.12,217.57 615.70,217.52 616.28,217.46 616.86,217.41 617.44,217.35 618.02,217.30 618.60,217.24 619.17,217.18 619.75,217.12 620.33,217.06 620.91,217.00 621.49,216.94 622.07,216.87 622.65,216.81" fill="none" stroke="#4a8a3a" stroke-width="0.5" stroke-opacity="1"/>
<polyline points="553.15,216.37 553.73,216.39 554.31,216.41 554.89,216.42 555.47,216.44 556.05,216.46 556.62,216.47 557.20,216.49 557.78,216.50 558.36,216.52 558.94,216.53 559.52,216.55 560.10,216.56 560.68,216.58 561.26,216.59 561.84,216.61 562.42,216.62 563.00,216.63 563.57,216.64 564.15,216.66 564.73,216.67 565.31,216.68 565.89,216.69 566.47,216.70 567.05,216.71 567.63,216.72 568.21,216.73 568.79,216.74 569.37,216.75 569.95,216.76 570.52,216.77 571.10,216.78 571.68,216.79 572.26,216.80 572.84,216.80 573.42,216.81 574.00,216.82 574.58,216.82 575.16,216.83 575.74,216.84 576.32,216.84 576.90,216.85 577.48,216.85 578.05,216.86 578.63,216.86 579.21,216.87 579.79,216.87 580.37,216.88 580.95,216.88 581.53,216.88 582.11,216.89 582.69,216.89 583.27,216.89 583.85,216.89 584.42,216.90 585.00,216.90 585.58,216.90 586.16,216.90 586.74,216.90 587.32,216.90 587.90,216.90 588.48,216.90 589.06,216.90 589.64,216.90 590.22,216.90 590.80,216.90 591.38,216.90 591.95,216.89 592.53,216.89 593.11,216.89 593.69,216.89 594.27,216.88 594.85,216.88 595.43,216.88 596.01,216.87 596.59,216.87 597.17,216.86 597.75,216.86 598.32,216.85 598.90,216.85 599.48,216.84 600.06,216.84 600.64,216.83 601.22,216.82 601.80,216.82 602.38,216.81 602.96,216.80 603.54,216.80 604.12,216.79 604.70,216.78 605.27,216.77 605.85,216.76 606.43,216.75 607.01,216.74 607.59,216.73 608.17,216.72 608.75,216.71 609.33,216.70 609.91,216.69 610.49,216.68 611.07,216.67 611.65,216.66 612.23,216.64 612.80,216.63 613.38,216.62 613.96,216.61 614.54,216.59 615.12,216.58 615.70,216.56 616.28,216.55 616.86,216.53 617.44,216.52 618.02,216.50 618.60,216.49 619.17,216.47 619.75,216.46 620.33,216.44 620.91,216.42 621.49,216.41 622.07,216.39 622.65,216.37" fill="none" stroke="#4a8a3a" stroke-width="0.5" stroke-opacity="1"/>
<polyline points="553.15,215.43 553.73,215.45 554.31,215.46 554.89,215.48 555.47,215.50 556.05,215.51 556.62,215.53 557.20,215.54 557.78,215.56 558.36,215.57 558.94,215.58 559.52,215.60 560.10,215.61 560.68,215.63 561.26,215.64 561.84,215.65 562.42,215.66 563.00,215.68 563.57,215.69 564.15,215.70 564.73,215.71 565.31,215.72 565.89,215.73 566.47,215.74 567.05,215.75 567.63,215.76 568.21,215.77 568.79,215.78 569.37,215.79 569.95,215.80 570.52,215.81 571.10,215.82 571.68,215.83 572.26,215.84 572.84,215.84 573.42,215.85 574.00,215.86 574.58,215.86 575.16,215.87 575.74,215.88 576.32,215.88 576.90,215.89 577.48,215.89 578.05,215.90 578.63,215.90 579.21,215.91 579.79,215.91 580.37,215.92 580.95,215.92 581.53,215.92 582.11,215.93 582.69,215.93 583.27,215.93 583.85,215.93 584.42,215.94 585.00,215.94 585.58,215.94 586.16,215.94 586.74,215.94 587.32,215.94 587.90,215.94 588.48,215.94 589.06,215.94 589.64,215.94 590.22,215.94 590.80,215.94 591.38,215.94 591.95,215.93 592.53,215.93 593.11,215.93 593.69,215.93 594.27,215.92 594.85,215.92 595.43,215.92 596.01,215.91 596.59,215.91 597.17,215.90 597.75,215.90 598.32,215.89 598.90,215.89 599.48,215.88 600.06,215.88 600.64,215.87 601.22,215.86 601.80,215.86 602.38,215.85 602.96,215.84 603.54,215.84 604.12,215.83 604.70,215.82 605.27,215.81 605.85,215.80 606.43,215.79 607.01,215.78 607.59,215.77 608.17,215.76 608.75,215.75 609.33,215.74 609.91,215.73 610.49,215.72 611.07,215.71 611.65,215.70 612.23,215.69 612.80,215.68 613.38,215.66 613.96,215.65 614.54,215.64 615.12,215.63 615.70,215.61 616.28,215.60 616.86,215.58 617.44,215.57 618.02,215.56 618.60,215.54 619.17,215.53 619.75,215.51 620.33,215.50 620.91,215.48 621.49,215.46 622.07,215.45 622.65,215.43" fill="none" stroke="#4a8a3a" stroke-width="0.5" stroke-opacity="1"/>
<path d="M549.5,216.60 h-1.6" stroke="#222" stroke-width="0.5"/>
<text x="547.70" y="219.40" font-size="8.2" text-anchor="end" font-family='"Liberation Serif", "DejaVu Serif", serif' fill="#000" >2</text>
<path d="M549.5,240.60 h-1.6" stroke="#222" stroke-width="0.5"/>
<text x="547.70" y="243.40" font-size="8.2" text-anchor="end" font-family='"Liberation Serif", "DejaVu Serif", serif' fill="#000" >0</text>
<path d="M549.5,264.60 h-1.6" stroke="#222" stroke-width="0.5"/>
<text x="547.70" y="267.40" font-size="8.2" text-anchor="end" font-family='"Liberation Serif", "DejaVu Serif", serif' fill="#000" >-2</text>
<path d="M553.15,269.4 v1.6" stroke="#222" stroke-width="0.5"/>
<text x="553.15" y="277.00" font-size="8.2" text-anchor="middle" font-family='"Liberation Serif", "DejaVu Serif", serif' fill="#000" >-0.75</text>
<path d="M587.90,269.4 v1.6" stroke="#222" stroke-width="0.5"/>
<text x="587.90" y="277.00" font-size="8.2" text-anchor="middle" font-family='"Liberation Serif", "DejaVu Serif", serif' fill="#000" >0</text>
<path d="M622.65,269.4 v1.6" stroke="#222" stroke-width="0.5"/>
<text x="622.65" y="277.00" font-size="8.2" text-anchor="middle" font-family='"Liberation Serif", "DejaVu Serif", serif' fill="#000" >0.75</text>
<text transform="translate(538.0,241.1) rotate(-90)" font-size="8.3" text-anchor="middle" font-family='"DejaVu Sans", "Liberation Sans", sans-serif' font-style="italic" fill="#000">E</text>
<text x="606.80" y="226.00" font-size="7.5" text-anchor="start" font-family='"Liberation Serif", "DejaVu Serif", serif' fill="#000" font-weight="bold">bulk</text>
<text x="606.80" y="246.50" font-size="7.5" text-anchor="start" font-family='"Liberation Serif", "DejaVu Serif", serif' fill="#000" font-weight="bold">edge</text>
<text x="575" y="286.0" font-size="8" font-family='"DejaVu Sans", "Liberation Sans", sans-serif' fill="#000">Δ<tspan font-size="6.0" dy="2" font-style="italic">J</tspan><tspan font-size="4.5" dy="1">33</tspan><tspan font-size="6.0" dy="-1"> − </tspan><tspan font-size="6.0" font-style="italic">J</tspan><tspan font-size="4.5" dy="1">1</tspan></text>
</svg>
</body></html>
